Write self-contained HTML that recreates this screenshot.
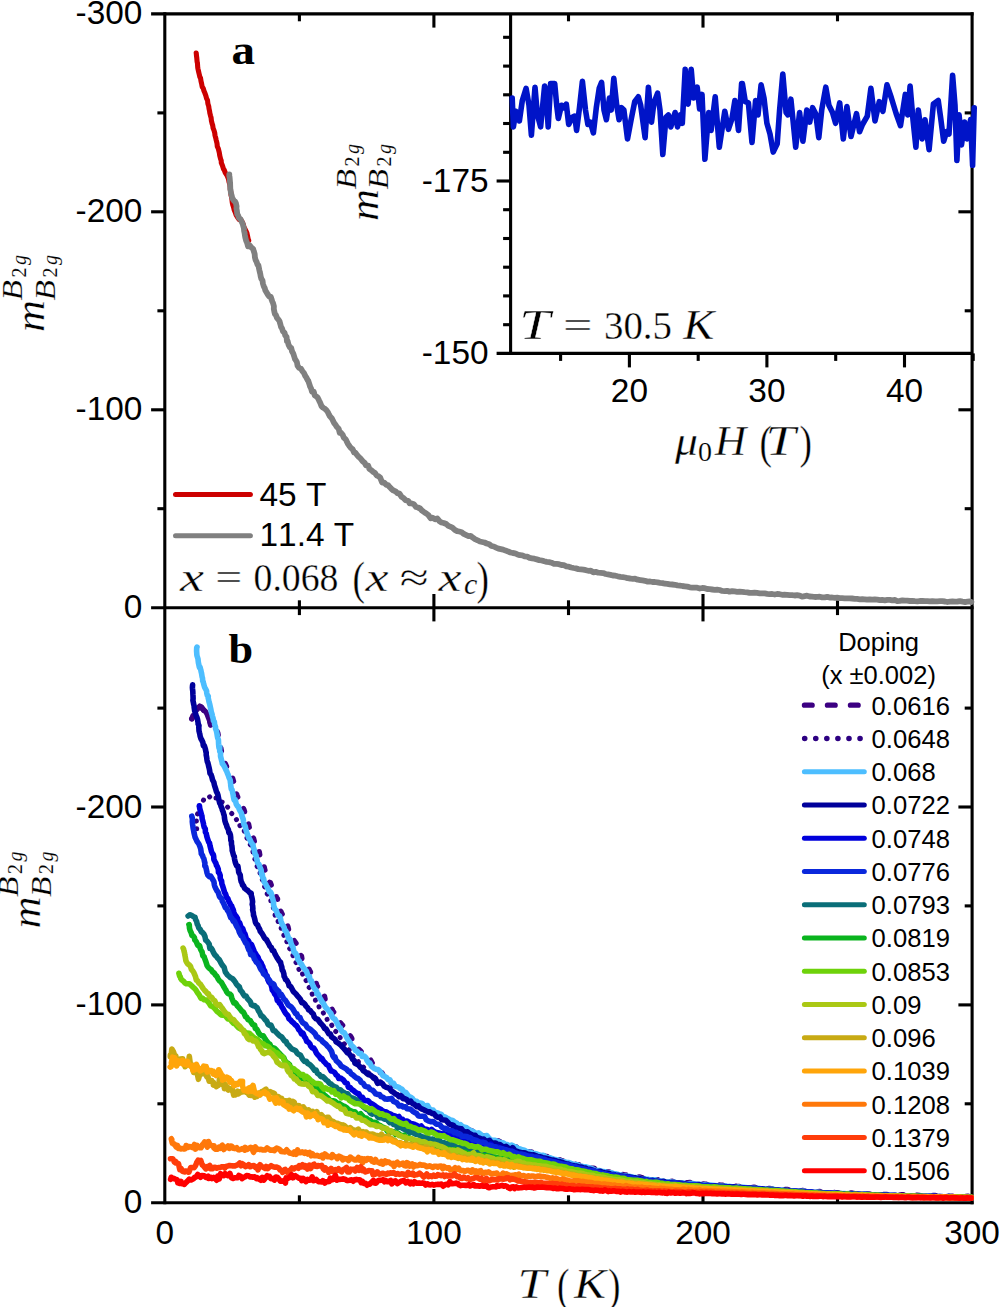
<!DOCTYPE html>
<html><head><meta charset="utf-8"><title>chart</title>
<style>html,body{margin:0;padding:0;background:#fff;overflow:hidden}svg{display:block;position:absolute;left:0;top:0}</style></head>
<body><svg width="999" height="1307" viewBox="0 0 999 1307">
<rect width="999" height="1307" fill="#fff"/>
<g stroke-linecap="butt">
<line x1="151.1" y1="13.9" x2="973.6" y2="13.9" stroke="#000" stroke-width="3.1"/>
<line x1="151.1" y1="607.7" x2="973.6" y2="607.7" stroke="#000" stroke-width="3.1"/>
<line x1="151.1" y1="1202.7" x2="973.6" y2="1202.7" stroke="#000" stroke-width="3.1"/>
<line x1="164.8" y1="12.3" x2="164.8" y2="1204.2" stroke="#000" stroke-width="3.1"/>
<line x1="972.1" y1="12.3" x2="972.1" y2="1204.2" stroke="#000" stroke-width="3.1"/>
<line x1="299.4" y1="13.9" x2="299.4" y2="21.3" stroke="#000" stroke-width="3.1"/>
<line x1="299.4" y1="600.3" x2="299.4" y2="615.1" stroke="#000" stroke-width="3.1"/>
<line x1="299.4" y1="1195.3" x2="299.4" y2="1202.7" stroke="#000" stroke-width="3.1"/>
<line x1="433.9" y1="13.9" x2="433.9" y2="27.6" stroke="#000" stroke-width="3.1"/>
<line x1="433.9" y1="594.0" x2="433.9" y2="621.4" stroke="#000" stroke-width="3.1"/>
<line x1="433.9" y1="1189.0" x2="433.9" y2="1202.7" stroke="#000" stroke-width="3.1"/>
<line x1="568.5" y1="13.9" x2="568.5" y2="21.3" stroke="#000" stroke-width="3.1"/>
<line x1="568.5" y1="600.3" x2="568.5" y2="615.1" stroke="#000" stroke-width="3.1"/>
<line x1="568.5" y1="1195.3" x2="568.5" y2="1202.7" stroke="#000" stroke-width="3.1"/>
<line x1="703.0" y1="13.9" x2="703.0" y2="27.6" stroke="#000" stroke-width="3.1"/>
<line x1="703.0" y1="594.0" x2="703.0" y2="621.4" stroke="#000" stroke-width="3.1"/>
<line x1="703.0" y1="1189.0" x2="703.0" y2="1202.7" stroke="#000" stroke-width="3.1"/>
<line x1="837.5" y1="13.9" x2="837.5" y2="21.3" stroke="#000" stroke-width="3.1"/>
<line x1="837.5" y1="600.3" x2="837.5" y2="615.1" stroke="#000" stroke-width="3.1"/>
<line x1="837.5" y1="1195.3" x2="837.5" y2="1202.7" stroke="#000" stroke-width="3.1"/>
<line x1="157.4" y1="508.7" x2="164.8" y2="508.7" stroke="#000" stroke-width="3.1"/>
<line x1="964.7" y1="508.7" x2="972.1" y2="508.7" stroke="#000" stroke-width="3.1"/>
<line x1="157.4" y1="1103.8" x2="164.8" y2="1103.8" stroke="#000" stroke-width="3.1"/>
<line x1="964.7" y1="1103.8" x2="972.1" y2="1103.8" stroke="#000" stroke-width="3.1"/>
<line x1="151.1" y1="409.8" x2="164.8" y2="409.8" stroke="#000" stroke-width="3.1"/>
<line x1="958.4" y1="409.8" x2="972.1" y2="409.8" stroke="#000" stroke-width="3.1"/>
<line x1="151.1" y1="1004.9" x2="164.8" y2="1004.9" stroke="#000" stroke-width="3.1"/>
<line x1="958.4" y1="1004.9" x2="972.1" y2="1004.9" stroke="#000" stroke-width="3.1"/>
<line x1="157.4" y1="310.8" x2="164.8" y2="310.8" stroke="#000" stroke-width="3.1"/>
<line x1="964.7" y1="310.8" x2="972.1" y2="310.8" stroke="#000" stroke-width="3.1"/>
<line x1="157.4" y1="905.9" x2="164.8" y2="905.9" stroke="#000" stroke-width="3.1"/>
<line x1="964.7" y1="905.9" x2="972.1" y2="905.9" stroke="#000" stroke-width="3.1"/>
<line x1="151.1" y1="211.8" x2="164.8" y2="211.8" stroke="#000" stroke-width="3.1"/>
<line x1="958.4" y1="211.8" x2="972.1" y2="211.8" stroke="#000" stroke-width="3.1"/>
<line x1="151.1" y1="807.0" x2="164.8" y2="807.0" stroke="#000" stroke-width="3.1"/>
<line x1="958.4" y1="807.0" x2="972.1" y2="807.0" stroke="#000" stroke-width="3.1"/>
<line x1="157.4" y1="112.9" x2="164.8" y2="112.9" stroke="#000" stroke-width="3.1"/>
<line x1="964.7" y1="112.9" x2="972.1" y2="112.9" stroke="#000" stroke-width="3.1"/>
<line x1="157.4" y1="708.1" x2="164.8" y2="708.1" stroke="#000" stroke-width="3.1"/>
<line x1="964.7" y1="708.1" x2="972.1" y2="708.1" stroke="#000" stroke-width="3.1"/>
<line x1="510.6" y1="13.9" x2="510.6" y2="354.9" stroke="#000" stroke-width="3.1"/>
<line x1="496.6" y1="353.4" x2="972.1" y2="353.4" stroke="#000" stroke-width="3.1"/>
<line x1="503.1" y1="324.7" x2="510.6" y2="324.7" stroke="#000" stroke-width="3.1"/>
<line x1="503.1" y1="295.9" x2="510.6" y2="295.9" stroke="#000" stroke-width="3.1"/>
<line x1="503.1" y1="267.2" x2="510.6" y2="267.2" stroke="#000" stroke-width="3.1"/>
<line x1="503.1" y1="238.5" x2="510.6" y2="238.5" stroke="#000" stroke-width="3.1"/>
<line x1="503.1" y1="209.7" x2="510.6" y2="209.7" stroke="#000" stroke-width="3.1"/>
<line x1="496.6" y1="181.0" x2="510.6" y2="181.0" stroke="#000" stroke-width="3.1"/>
<line x1="503.1" y1="152.3" x2="510.6" y2="152.3" stroke="#000" stroke-width="3.1"/>
<line x1="503.1" y1="123.5" x2="510.6" y2="123.5" stroke="#000" stroke-width="3.1"/>
<line x1="503.1" y1="94.8" x2="510.6" y2="94.8" stroke="#000" stroke-width="3.1"/>
<line x1="503.1" y1="66.1" x2="510.6" y2="66.1" stroke="#000" stroke-width="3.1"/>
<line x1="503.1" y1="37.3" x2="510.6" y2="37.3" stroke="#000" stroke-width="3.1"/>
<line x1="560.6" y1="353.4" x2="560.6" y2="360.9" stroke="#000" stroke-width="3.1"/>
<line x1="629.4" y1="353.4" x2="629.4" y2="367.4" stroke="#000" stroke-width="3.1"/>
<line x1="698.2" y1="353.4" x2="698.2" y2="360.9" stroke="#000" stroke-width="3.1"/>
<line x1="766.9" y1="353.4" x2="766.9" y2="367.4" stroke="#000" stroke-width="3.1"/>
<line x1="835.7" y1="353.4" x2="835.7" y2="360.9" stroke="#000" stroke-width="3.1"/>
<line x1="904.5" y1="353.4" x2="904.5" y2="367.4" stroke="#000" stroke-width="3.1"/>
<line x1="973.2" y1="353.4" x2="973.2" y2="360.9" stroke="#000" stroke-width="3.1"/>
</g>
<g fill="none" stroke-linejoin="round" stroke-linecap="round">
<path d="M196.2,53.0 L196.3,53.6 L196.5,55.9 L196.8,58.2 L197.1,61.7 L197.4,62.7 L197.7,67.2 L197.9,68.5 L198.6,71.6 L199.1,73.8 L199.9,77.1 L200.5,77.8 L201.0,81.2 L201.6,83.6 L202.2,86.9 L203.2,88.2 L204.0,91.0 L204.9,93.1 L205.9,95.9 L206.6,98.6 L207.5,100.2 L207.9,103.8 L208.7,106.2 L209.0,108.5 L209.6,111.2 L209.8,112.9 L210.5,115.7 L211.1,117.8 L211.4,120.7 L212.1,123.6 L212.7,125.4 L213.1,128.1 L214.0,130.4 L214.7,132.8 L215.0,135.4 L215.8,138.2 L216.2,140.1 L217.0,143.3 L217.3,146.5 L218.3,148.6 L218.8,150.6 L219.3,152.7 L219.7,155.3 L220.6,159.0 L221.2,160.7 L221.3,162.8 L222.5,165.7 L223.5,169.0 L224.4,170.3 L225.3,172.8 L226.8,175.0 L227.7,177.0 L228.5,178.9 L229.0,181.8 L229.8,184.4 L230.2,187.3 L230.3,190.0 L230.9,192.5 L231.0,194.8 L231.7,197.6 L231.9,199.3 L232.3,202.8 L232.8,205.0 L233.5,207.0 L234.2,209.9 L235.1,212.0 L236.1,214.9 L237.5,217.2 L239.1,219.4 L240.7,219.6 L242.1,221.6 L243.2,224.3 L243.9,227.0 L245.3,229.7 L246.4,231.9 L246.9,233.1 L247.6,236.4 L248.2,239.2 L248.7,240.5" stroke="#cc0000" stroke-width="5.1"/>
<path d="M229.3,174.4 L229.3,176.2 L229.6,177.2 L230.0,182.0 L230.1,182.4 L230.2,185.5 L230.3,188.8 L230.6,190.2 L230.9,192.8 L231.6,195.2 L232.3,198.1 L234.1,201.0 L235.1,201.6 L235.9,203.1 L236.6,206.4 L236.4,208.2 L236.9,211.1 L237.3,214.3 L238.1,215.4 L238.9,217.9 L240.6,219.2 L241.5,221.5 L242.7,223.8 L243.1,225.4 L243.9,228.3 L244.1,230.8 L244.6,233.0 L244.9,235.2 L245.3,237.5 L246.1,240.6 L247.1,242.9 L248.0,246.4 L249.4,245.0 L251.4,247.6 L253.1,248.8 L253.7,251.0 L254.3,252.7 L254.7,254.3 L254.9,257.3 L255.6,260.0 L256.6,261.8 L257.5,264.7 L258.4,265.4 L259.3,269.9 L259.8,272.1 L260.2,273.5 L260.7,276.5 L261.3,278.6 L262.5,280.5 L262.9,283.5 L263.8,286.4 L264.7,287.9 L265.3,290.2 L266.6,292.4 L267.8,294.5 L269.1,296.4 L270.8,296.9 L271.6,299.6 L272.4,301.8 L273.0,303.0 L273.9,306.3 L273.8,308.9 L274.3,311.5 L274.9,314.0 L275.8,314.8 L277.0,317.9 L278.2,319.3 L279.4,320.9 L280.4,324.4 L281.0,326.8 L282.0,328.3 L283.0,331.4 L284.6,332.9 L285.2,335.4 L286.6,337.0 L286.9,341.0 L287.6,340.9 L288.5,344.7 L289.9,347.4 L291.2,348.0 L292.0,351.3 L293.3,353.6 L294.2,356.5 L295.0,359.1 L295.9,360.4 L296.9,362.2 L297.6,365.9 L299.0,367.8 L301.0,368.7 L302.5,371.2 L304.1,373.2 L305.0,375.5 L306.3,377.4 L307.8,380.4 L308.3,380.8 L309.6,384.8 L310.2,386.8 L311.2,388.8 L312.0,391.8 L313.7,391.6 L314.7,395.3 L316.4,396.5 L317.6,397.5 L319.1,400.6 L320.0,402.3 L321.5,406.1 L323.0,407.6 L324.6,408.6 L326.2,409.9 L327.8,412.1 L328.9,414.4 L329.9,416.3 L331.7,418.2 L332.9,420.5 L334.0,422.9 L335.5,424.8 L336.7,426.8 L338.7,428.8 L339.7,432.9 L340.8,432.6 L342.7,434.9 L343.9,437.8 L345.8,439.4 L347.0,441.9 L348.1,444.1 L349.8,446.5 L351.1,448.2 L352.6,449.2 L354.1,452.5 L355.4,452.7 L357.5,455.6 L359.0,457.2 L360.7,458.7 L362.8,461.4 L364.7,462.8 L366.0,465.3 L368.2,465.6 L369.3,468.8 L371.5,470.3 L373.1,471.9 L374.9,472.8 L376.5,475.3 L378.3,476.2 L380.2,477.6 L382.1,482.5 L384.2,482.7 L386.4,484.8 L387.9,485.0 L389.9,487.3 L391.5,488.9 L393.3,490.4 L396.0,491.7 L397.4,493.1 L399.5,493.6 L401.6,496.8 L403.7,498.2 L405.6,500.1 L408.0,500.7 L409.7,503.3 L411.5,503.4 L413.9,504.3 L416.0,507.0 L417.9,507.5 L420.1,508.5 L422.1,510.7 L424.6,512.5 L426.3,513.5 L428.3,515.0 L430.7,518.4 L432.5,517.7 L435.1,519.3 L437.3,518.4 L439.3,521.1 L441.5,522.5 L443.7,523.0 L446.3,524.0 L448.3,525.9 L450.2,526.7 L452.4,527.7 L454.8,529.9 L457.1,531.1 L459.2,531.5 L461.7,532.2 L463.8,533.9 L466.3,535.1 L468.5,536.1 L470.6,535.9 L472.9,537.7 L475.0,539.2 L477.6,540.3 L479.9,541.5 L482.1,542.0 L484.5,542.5 L486.7,543.5 L489.3,544.3 L491.4,546.0 L493.8,546.5 L496.1,547.6 L498.4,548.6 L500.8,549.1 L503.1,549.6 L505.6,550.6 L508.0,551.4 L510.4,552.5 L512.8,553.0 L515.1,553.3 L517.5,554.4 L519.9,555.2 L522.3,555.4 L524.6,556.4 L527.2,556.7 L529.6,557.9 L532.0,558.3 L534.3,558.7 L536.8,559.4 L539.2,560.1 L541.8,560.5 L544.3,561.3 L546.7,561.9 L549.1,562.1 L551.5,562.7 L554.0,563.9 L556.5,563.9 L559.0,564.2 L561.4,565.0 L563.8,565.2 L566.3,566.4 L568.8,566.7 L571.2,567.5 L573.6,568.0 L575.9,568.4 L578.4,569.1 L581.0,569.4 L583.4,569.7 L585.9,570.2 L588.3,570.8 L590.8,570.7 L593.3,572.3 L595.7,571.8 L598.2,572.7 L600.7,572.8 L603.2,573.1 L605.7,574.0 L607.9,574.4 L610.5,574.9 L612.9,575.5 L615.4,575.7 L617.8,576.3 L620.5,576.8 L622.8,577.1 L625.3,577.5 L627.6,578.2 L630.2,578.5 L632.7,578.9 L635.1,578.7 L637.7,579.7 L640.3,580.1 L642.5,580.4 L645.0,580.8 L647.7,581.6 L650.1,581.5 L652.5,582.0 L654.9,582.0 L657.5,582.4 L660.0,582.9 L662.6,583.1 L664.9,583.7 L667.4,583.9 L669.9,584.4 L672.3,584.5 L674.9,584.8 L677.4,585.4 L679.8,585.6 L682.3,586.0 L684.8,586.3 L687.3,586.6 L689.8,587.3 L692.2,587.6 L694.7,587.7 L697.2,587.7 L699.8,588.5 L702.3,588.0 L704.8,588.2 L707.2,589.0 L709.7,589.2 L712.2,589.5 L714.7,589.8 L717.1,589.6 L719.7,590.0 L722.2,590.9 L724.7,591.1 L727.1,590.8 L729.5,591.7 L732.2,591.1 L734.6,591.4 L737.2,591.8 L739.6,591.6 L742.1,591.9 L744.5,592.2 L747.3,592.3 L749.6,592.8 L752.1,592.9 L754.6,592.7 L757.1,592.9 L759.7,593.3 L762.2,593.4 L764.7,593.4 L767.2,593.9 L769.6,594.2 L772.2,594.0 L774.8,594.5 L777.1,594.0 L779.7,594.2 L782.1,594.8 L784.5,594.7 L787.1,594.8 L789.7,595.1 L792.2,595.1 L794.7,595.5 L797.1,595.2 L799.7,595.6 L802.1,596.7 L804.6,596.1 L807.0,595.7 L809.7,596.5 L812.2,596.6 L814.9,597.0 L817.3,596.8 L819.7,596.7 L822.2,597.4 L824.7,597.3 L827.2,596.8 L829.6,597.6 L832.2,597.5 L834.7,597.9 L837.2,597.7 L839.7,598.1 L842.2,598.1 L844.7,598.3 L847.2,598.3 L849.8,598.3 L852.2,598.5 L854.8,598.8 L857.2,598.9 L859.8,599.3 L862.3,599.1 L864.7,599.3 L867.2,599.7 L869.8,599.3 L872.2,599.6 L874.8,599.4 L877.3,599.6 L879.8,600.1 L882.2,599.9 L884.8,600.3 L887.4,599.8 L889.8,599.8 L892.3,600.3 L894.8,600.0 L897.3,601.1 L899.8,600.9 L902.4,600.4 L904.8,600.7 L907.2,600.7 L909.7,601.0 L912.3,600.9 L914.9,601.2 L917.5,601.4 L919.9,601.0 L922.3,600.8 L924.7,601.2 L927.4,601.1 L929.9,601.4 L932.3,601.1 L935.0,601.4 L937.4,601.3 L939.9,601.2 L942.3,601.2 L945.0,601.5 L947.4,602.0 L949.9,601.6 L952.4,601.4 L954.9,601.6 L957.6,601.5 L960.0,601.2 L962.6,601.7 L965.1,602.1 L967.5,601.7 L969.8,601.5 L971.4,602.0" stroke="#808080" stroke-width="5.8"/>
<path d="M512.2,98.0 L513.4,126.9 L515.8,111.3 L519.4,120.9 L522.3,100.5 L526.1,88.4 L529.0,105.3 L531.4,135.3 L535.0,87.2 L537.4,114.9 L540.6,126.9 L544.6,86.0 L545.8,90.8 L548.2,126.9 L550.6,83.6 L554.7,83.6 L556.7,105.3 L558.3,118.5 L561.5,105.3 L563.9,107.7 L566.3,104.1 L568.7,124.5 L572.3,117.3 L574.7,116.1 L576.6,130.5 L579.5,107.7 L582.4,81.2 L585.5,110.1 L587.9,124.5 L590.3,122.1 L593.4,132.9 L596.3,107.7 L599.2,88.4 L601.6,82.4 L604.0,110.1 L606.4,119.7 L609.5,98.0 L611.2,110.1 L613.8,78.3 L616.7,105.3 L619.1,119.7 L621.5,107.7 L623.9,110.1 L627.5,138.9 L631.1,119.7 L634.7,101.7 L638.3,96.8 L640.7,105.3 L645.1,137.7 L648.4,87.2 L651.5,122.1 L653.9,102.9 L657.6,93.2 L660.0,110.1 L662.8,154.5 L666.0,117.3 L668.4,114.9 L670.8,126.9 L675.1,112.5 L677.5,126.9 L680.4,114.9 L682.3,123.3 L685.2,69.2 L688.1,104.1 L691.2,69.2 L693.6,98.0 L697.2,87.2 L699.6,108.9 L702.0,94.4 L704.9,159.3 L708.7,112.5 L711.1,130.5 L715.2,96.8 L719.3,147.3 L722.4,126.9 L724.8,111.3 L728.4,129.3 L732.0,118.5 L734.9,100.5 L738.5,130.5 L741.6,83.6 L742.4,83.6 L745.3,101.7 L748.4,102.9 L752.0,142.5 L755.6,100.5 L758.0,114.9 L761.1,84.8 L764.0,98.0 L766.9,123.3 L770.0,134.1 L773.2,152.1 L777.2,143.7 L779.6,110.1 L782.8,74.0 L786.1,112.5 L788.0,114.9 L790.9,99.2 L795.7,147.3 L799.6,112.5 L802.9,141.3 L806.8,110.1 L809.7,122.1 L812.6,107.7 L815.7,113.7 L818.8,137.7 L821.7,110.1 L825.8,87.2 L828.9,105.3 L832.5,112.5 L835.6,123.3 L839.7,102.9 L843.3,138.9 L846.9,106.5 L851.0,136.5 L856.5,113.7 L859.6,131.7 L862.5,124.5 L867.3,116.1 L870.9,88.4 L875.0,120.9 L879.3,101.7 L882.9,111.3 L887.0,84.8 L891.4,98.0 L896.2,113.7 L900.5,125.7 L905.3,94.4 L907.7,114.9 L910.1,86.0 L913.0,119.7 L915.9,147.3 L918.3,110.1 L922.1,138.9 L925.0,119.7 L929.1,149.7 L933.4,104.1 L938.2,100.5 L940.6,117.3 L943.7,141.3 L946.6,131.7 L949.0,134.1 L952.6,75.2 L955.0,105.3 L956.9,160.5 L959.1,114.9 L961.5,144.9 L964.6,122.1 L967.0,138.9 L970.6,119.7 L972.6,165.3 L974.2,107.7" stroke="#0014c8" stroke-width="5.6"/>
</g>
<clipPath id="cb"><rect x="164.8" y="607.7" width="808.8" height="595.0"/></clipPath>
<g fill="none" stroke-linejoin="round" stroke-linecap="round" clip-path="url(#cb)">
<path d="M192.0,718.8 L192.5,717.1 L193.6,713.7 L194.3,712.9 L196.0,711.5 L197.0,708.8 L198.9,708.2 L199.8,707.4 L201.1,707.9 L202.8,709.0 L204.0,711.1 L205.6,713.4 L206.6,713.7 L207.8,717.0 L208.6,718.5 L209.4,720.7 L209.9,721.7 L210.5,724.7 L211.6,727.7 L212.2,727.6 L212.7,727.7 L213.2,727.3 L214.3,727.3 L214.7,727.6 L215.4,726.6 L216.3,728.1 L216.7,728.9 L217.3,731.9 L217.8,732.9 L218.3,735.6 L218.7,737.2 L219.2,739.2 L219.7,741.8 L220.0,743.6 L220.3,747.0 L220.9,748.4 L221.3,750.7 L221.7,752.3 L222.2,755.6 L222.7,756.4 L223.0,759.5 L223.8,760.8 L224.8,762.4 L225.7,764.7 L226.5,766.4 L227.8,768.8 L228.7,770.6 L229.9,773.0 L231.0,775.1 L232.0,776.5 L232.7,778.6 L233.4,781.0 L234.0,782.5 L234.6,785.6 L234.6,787.8 L235.6,789.5 L236.1,793.2 L236.7,794.3 L237.2,795.7 L238.0,797.6 L238.9,799.7 L239.8,801.5 L240.6,804.6 L241.9,805.3 L243.0,807.7 L243.9,809.4 L244.8,812.5 L245.2,812.8 L246.1,815.6 L246.7,817.9 L247.2,820.3 L248.0,822.6 L248.6,824.2 L249.2,827.2 L249.8,828.8 L250.4,832.5 L251.0,831.8 L251.6,835.4 L252.4,836.2 L253.5,838.3 L254.5,842.0 L255.6,843.6 L257.0,843.0 L257.5,846.1 L258.6,848.4 L258.8,849.1 L259.4,852.7 L259.8,855.1 L260.3,857.1 L261.2,857.6 L262.0,861.9 L262.4,863.3 L263.7,865.2 L264.1,866.7 L264.8,869.8 L265.9,872.1 L266.3,873.2 L266.9,875.7 L268.1,878.3 L268.2,878.4 L269.2,882.0 L270.3,882.6 L271.4,885.4 L271.7,888.4 L272.9,889.9 L273.8,891.4 L275.7,893.2 L276.2,895.9 L276.4,897.8 L277.5,898.8 L277.8,901.8 L278.0,903.4 L278.6,907.6 L279.4,907.5 L279.6,909.8 L281.0,911.7 L281.8,913.6 L283.4,915.9 L284.2,918.0 L284.9,918.6 L286.0,921.4 L286.7,922.9 L287.9,926.7 L288.6,929.6 L289.8,930.8 L291.0,932.1 L291.4,934.6 L292.4,936.0 L293.2,939.1 L293.9,940.4 L295.0,941.8 L296.0,943.2 L296.9,945.5 L297.7,948.2 L298.5,949.2 L299.8,951.9 L300.5,955.0 L301.5,956.1 L302.0,959.5 L303.4,961.1 L303.8,961.8 L305.3,962.9 L306.6,965.6 L308.0,967.0 L309.1,969.3 L310.5,972.1 L311.4,972.1 L312.3,974.6 L313.7,977.1 L314.5,979.6 L315.3,981.2 L316.2,983.1 L316.8,985.7 L318.1,987.1 L319.1,988.6 L320.1,990.7 L321.3,992.1 L322.8,994.9 L323.6,997.1 L324.5,996.3 L325.5,1001.1 L327.0,1002.1 L328.0,1004.4 L329.6,1006.4 L330.4,1006.2 L331.9,1008.8 L332.9,1011.2 L334.2,1012.6 L335.6,1015.1 L337.1,1016.2 L338.3,1017.2 L339.2,1020.6 L340.3,1022.8 L341.7,1024.3 L342.7,1025.4 L344.1,1027.6 L345.2,1030.0 L346.6,1031.9 L347.7,1034.0 L349.1,1034.8 L350.3,1035.9 L351.7,1038.2 L352.5,1040.9 L353.5,1043.0 L354.9,1045.8 L356.4,1046.2 L357.5,1048.0 L359.0,1049.4 L360.4,1050.7 L362.2,1052.8 L364.2,1053.8 L365.6,1054.8 L367.6,1055.6 L369.1,1057.8 L370.4,1059.4 L371.8,1062.3 L372.9,1063.9 L374.6,1064.3 L375.9,1067.6 L377.0,1068.0 L378.6,1070.1 L380.0,1072.5 L381.9,1072.6 L383.1,1075.0 L384.4,1075.8 L386.3,1076.8 L387.7,1080.5 L389.1,1081.4 L390.5,1082.5 L392.1,1083.5 L393.7,1085.9 L395.1,1088.6 L397.4,1089.4 L398.6,1090.4 L400.7,1091.7 L401.8,1093.7 L403.5,1093.9 L405.2,1097.3 L407.3,1098.1 L409.0,1099.9 L410.7,1100.0 L412.6,1102.2 L414.5,1103.4 L416.3,1103.0 L417.9,1105.2 L419.7,1106.5 L421.5,1106.9 L423.5,1108.1 L425.7,1109.7 L427.5,1110.4 L429.7,1110.6 L432.0,1112.7 L433.7,1113.4 L435.3,1114.4 L437.9,1115.2 L439.6,1116.4 L441.5,1116.9 L443.6,1117.5 L445.3,1118.6 L447.5,1120.9 L449.7,1119.7 L451.3,1122.5 L453.6,1122.1 L455.6,1122.9 L457.3,1124.2 L459.7,1125.6 L461.3,1127.2 L463.6,1126.4 L465.5,1129.6 L467.6,1130.1 L469.7,1130.1 L471.7,1130.9 L473.3,1131.3 L475.5,1133.2 L477.5,1133.7 L479.8,1135.4 L482.1,1134.7 L484.2,1136.4 L486.2,1136.7 L488.2,1136.9 L490.0,1139.6 L492.5,1139.2 L494.4,1140.2 L496.2,1139.8 L498.4,1140.8 L500.8,1142.1 L502.9,1142.4 L504.5,1143.9 L507.3,1144.5 L509.1,1144.4 L511.1,1145.8 L512.8,1146.4 L515.6,1147.0 L517.3,1147.0 L519.2,1147.9 L521.4,1149.3 L523.5,1150.2 L525.6,1150.3 L527.8,1151.6 L529.9,1151.9 L531.9,1152.0 L534.1,1153.0 L536.2,1153.8 L538.4,1154.2 L540.5,1155.3 L542.7,1155.3 L544.8,1156.1 L546.9,1156.4 L549.0,1157.2 L551.3,1156.8 L553.3,1157.8 L555.7,1158.6 L557.5,1159.4 L559.8,1159.9 L562.0,1160.7 L563.9,1161.1 L566.1,1161.6 L568.2,1162.1 L570.4,1162.7 L572.5,1163.5 L574.7,1164.0 L576.9,1164.6 L578.9,1164.8 L581.1,1165.2 L583.3,1165.8 L585.2,1166.5 L587.5,1167.5 L589.7,1167.6 L591.8,1168.2 L594.0,1168.1 L596.2,1169.9 L598.2,1169.3 L600.6,1170.7 L602.5,1170.5 L604.7,1171.4 L606.9,1171.8 L608.9,1172.0 L611.3,1172.3 L613.4,1172.5 L615.6,1173.1 L617.9,1173.9 L619.9,1174.1 L622.2,1174.1 L624.2,1175.1 L626.4,1174.8 L628.7,1175.6 L630.8,1175.6 L632.9,1176.1 L635.0,1177.0 L637.3,1176.9 L639.4,1176.9 L641.7,1177.5 L643.6,1178.1 L646.0,1178.0 L648.1,1178.9 L650.3,1179.1 L652.6,1179.1 L654.7,1179.7 L657.1,1180.2 L659.1,1179.3 L661.4,1180.6 L663.7,1180.7 L665.8,1180.7 L668.0,1181.2 L670.2,1181.4 L672.3,1181.3 L674.6,1182.1 L677.0,1181.9 L679.0,1182.4 L681.1,1182.1 L683.2,1181.9 L685.4,1182.6 L687.8,1182.7 L689.9,1182.5 L692.3,1182.6 L694.4,1183.5 L696.7,1183.8 L698.9,1184.0 L701.1,1183.9 L703.2,1183.9 L705.4,1184.1 L707.6,1184.3 L709.8,1184.5 L712.0,1184.5 L714.2,1184.5 L716.4,1184.8 L718.5,1185.0 L720.8,1185.1 L723.0,1185.3 L725.2,1185.8 L727.5,1185.7 L729.6,1185.5 L731.8,1186.0 L734.1,1185.7 L736.3,1186.3 L738.5,1186.4 L740.7,1186.5 L742.9,1186.5 L745.0,1186.7 L747.3,1187.0 L749.5,1187.0 L751.7,1187.4 L753.9,1187.3 L756.1,1187.5 L758.3,1187.8 L760.4,1187.8 L762.7,1188.0 L764.8,1188.2 L767.1,1188.4 L769.4,1188.5 L771.5,1188.7 L773.7,1188.8 L775.8,1189.0 L778.1,1189.1 L780.4,1189.3 L782.6,1189.5 L784.7,1189.4 L787.0,1189.5 L789.1,1189.8 L791.3,1190.0 L793.5,1190.2 L795.7,1190.1 L798.0,1190.5 L800.2,1190.7 L802.4,1190.5 L804.5,1191.0 L806.7,1191.3 L808.9,1191.3 L811.2,1191.3 L813.4,1191.5 L815.5,1191.7 L817.8,1191.8 L820.0,1191.5 L822.2,1192.3 L824.4,1192.1 L826.5,1192.2 L828.8,1192.5 L831.0,1192.5 L833.2,1192.4 L835.4,1192.6 L837.6,1192.7 L839.8,1192.8 L842.0,1192.8 L844.2,1193.0 L846.4,1193.1 L848.6,1193.0 L850.9,1193.0 L853.1,1193.3 L855.3,1193.4 L857.5,1193.3 L859.7,1193.4 L862.0,1193.6 L864.1,1193.7 L866.3,1193.9 L868.5,1193.9 L870.7,1194.2 L872.9,1194.0 L875.2,1193.9 L877.3,1194.1 L879.6,1194.2 L881.8,1194.0 L884.0,1194.5 L886.2,1194.4 L888.4,1194.5 L890.6,1194.5 L892.8,1194.5 L895.0,1194.7 L897.3,1194.7 L899.4,1194.9 L901.6,1194.8 L903.9,1194.8 L906.0,1195.1 L908.3,1195.1 L910.5,1195.2 L912.8,1195.2 L914.9,1195.5 L917.1,1195.2 L919.3,1195.5 L921.5,1195.2 L923.8,1195.3 L926.0,1195.4 L928.2,1195.5 L930.3,1195.8 L932.6,1195.5 L934.8,1195.5 L936.9,1195.8 L939.1,1195.7 L941.4,1195.5 L943.6,1195.9 L945.8,1196.0 L948.1,1195.9 L950.2,1196.2 L952.4,1196.2 L954.6,1195.9 L956.8,1196.2 L959.1,1195.8 L961.3,1196.2 L963.5,1196.1 L965.6,1196.4 L967.9,1196.2 L969.8,1196.5 L971.4,1196.3" stroke="#3c0082" stroke-width="5.4" stroke-dasharray="3.2 13.3"/>
<path d="M197.3,709.5 L198.5,707.3 L199.8,706 L201.5,706.8 L203.4,709.6 L205.3,711.2 L206.9,713.8 L208.3,717.5 L209.6,720.9 L210.8,725" stroke="#3c0082" stroke-width="5.2"/>
<path d="M191.7,718.8 L191.9,718.4" stroke="#3c0082" stroke-width="5.4"/>
<path d="M196.7,828.8 L196.5,825.9 L196.7,823.8 L196.3,820.1 L197.0,819.8 L197.3,817.3 L197.2,815.0 L197.7,813.4 L197.7,811.4 L198.7,808.3 L199.3,806.4 L200.6,804.7 L201.8,803.6 L202.7,801.7 L204.2,798.7 L205.8,797.3 L208.1,797.3 L209.4,797.0 L211.3,795.7 L213.3,795.7 L215.3,797.9 L217.1,797.9 L218.7,799.8 L220.7,801.6 L222.9,802.3 L224.3,803.4 L225.7,805.4 L226.9,806.1 L228.4,808.3 L229.5,809.9 L230.4,812.1 L231.9,813.7 L233.0,815.6 L234.5,817.1 L236.1,819.0 L237.2,820.8 L238.4,822.9 L239.0,825.7 L239.9,825.6 L241.2,829.2 L242.4,829.4 L243.9,830.0 L244.7,832.3 L245.4,834.4 L246.2,837.2 L246.9,837.8 L247.4,840.7 L248.5,842.7 L249.5,843.4 L250.9,845.6 L251.6,848.8 L252.8,850.9 L253.1,853.2 L253.9,854.9 L254.6,857.0 L254.8,858.9 L255.7,861.8 L255.6,862.5 L256.7,865.1 L257.5,867.6 L258.2,868.2 L258.7,872.3 L260.0,872.9 L260.1,875.5 L261.5,879.1 L262.1,879.1 L263.0,881.4 L263.5,885.0 L264.1,885.2 L264.9,887.7 L265.7,890.5 L266.7,892.5 L267.4,894.6 L268.5,896.4 L269.6,899.0 L270.8,900.7 L270.9,902.4 L271.9,903.6 L272.7,905.7 L273.2,907.0 L273.5,910.9 L274.2,911.3 L275.1,915.2 L275.9,918.0 L276.7,917.9 L277.6,920.2 L278.5,922.3 L279.6,925.3 L280.8,926.1 L281.2,928.6 L282.4,930.4 L283.4,932.7 L283.9,935.8 L285.2,936.3 L285.5,939.0 L286.7,941.2 L287.2,943.6 L287.9,944.2 L289.1,947.9 L290.3,949.4 L290.7,951.7 L291.8,953.2 L292.4,954.0 L293.4,956.7 L294.6,959.8 L295.3,961.2 L296.4,963.2 L297.4,966.5 L297.9,968.8 L298.9,969.2 L300.1,972.5 L301.7,971.7 L302.4,973.5 L303.5,977.3 L304.9,978.4 L306.3,981.0 L306.7,982.9 L307.8,984.4 L308.8,987.0 L310.0,988.6 L311.3,989.4 L311.5,992.6 L312.4,994.5 L313.8,997.6 L314.9,997.5 L315.4,1000.3 L316.8,1001.9 L318.3,1004.0 L319.1,1007.1 L320.4,1008.1 L321.5,1009.4 L322.8,1011.8 L323.9,1014.1 L325.1,1014.7 L326.5,1017.0 L327.3,1020.2 L328.7,1021.5 L330.2,1022.7 L331.1,1024.2 L332.4,1026.2 L333.5,1027.1 L334.7,1030.7 L336.5,1032.1 L337.4,1033.8 L338.9,1034.7 L339.9,1036.9 L341.0,1039.6 L342.2,1041.2 L343.7,1042.4 L344.9,1044.9 L346.5,1047.0 L347.4,1047.6 L348.9,1049.5 L350.2,1051.1 L351.4,1052.7 L352.6,1055.9 L354.1,1057.5 L355.4,1059.1 L356.7,1059.8 L358.2,1061.5 L359.6,1063.7 L361.5,1064.9 L363.0,1066.8 L364.3,1067.7 L366.2,1070.2 L368.0,1072.5 L369.6,1073.8 L371.0,1075.3 L373.0,1075.6 L374.7,1077.6 L376.4,1078.2 L378.2,1080.5 L379.5,1081.1 L381.3,1082.5 L382.8,1083.8 L384.7,1086.2 L386.4,1087.3 L388.0,1088.7 L389.8,1089.1 L391.3,1091.2 L393.5,1091.3 L395.0,1094.5 L397.6,1094.6 L399.2,1095.9 L400.6,1096.9 L402.2,1096.9 L405.0,1098.2 L406.5,1100.2 L408.7,1102.3 L410.2,1101.6 L412.4,1103.0 L414.2,1104.5 L416.4,1104.4 L418.1,1105.5 L420.4,1107.5 L421.9,1108.8 L424.3,1109.6 L426.0,1111.9 L428.1,1111.7 L429.6,1113.1 L431.6,1114.9 L434.1,1116.0 L435.6,1114.7 L437.8,1116.5 L439.7,1118.7 L441.5,1118.0 L443.6,1119.5 L445.1,1120.4 L447.1,1121.5 L449.4,1122.9 L450.9,1124.9 L453.1,1126.8 L455.0,1128.0 L457.2,1127.9 L459.0,1127.5 L460.5,1129.7 L462.8,1130.4 L464.9,1131.8 L467.2,1132.4 L469.0,1132.1 L470.9,1134.6 L473.1,1133.8 L474.9,1135.6 L477.2,1137.2 L479.1,1138.0 L481.4,1139.7 L483.3,1137.6 L485.5,1140.3 L487.4,1141.2 L489.7,1141.3 L491.6,1142.7 L493.8,1142.2 L495.8,1144.1 L497.8,1144.8 L499.8,1144.4 L502.0,1145.4 L504.2,1146.4 L505.7,1146.8 L508.6,1148.6 L509.9,1148.7 L512.5,1150.2 L514.6,1150.8 L516.9,1150.7 L518.9,1151.2 L520.9,1151.7 L523.0,1152.4 L525.2,1153.1 L527.5,1154.0 L529.5,1154.1 L531.4,1154.9 L533.7,1155.4 L535.9,1155.7 L538.4,1156.2 L540.1,1157.2 L542.3,1157.8 L544.5,1157.6 L546.7,1158.4 L548.6,1158.9 L551.0,1159.5 L552.9,1160.6 L555.2,1160.9 L557.4,1161.6 L559.3,1162.3 L561.6,1162.2 L563.9,1162.8 L565.8,1163.5 L567.9,1164.3 L570.1,1164.5 L572.4,1165.3 L574.3,1166.0 L576.5,1166.5 L578.6,1166.8 L580.8,1166.9 L583.1,1167.2 L585.2,1168.5 L587.3,1168.8 L589.5,1168.9 L591.6,1169.6 L593.7,1170.1 L596.0,1170.3 L598.1,1171.4 L600.1,1171.6 L602.4,1172.2 L604.7,1173.0 L606.7,1173.1 L608.9,1173.7 L610.9,1174.1 L613.2,1174.3 L615.2,1174.7 L617.7,1175.7 L619.7,1175.4 L622.0,1176.4 L624.0,1176.0 L626.4,1176.9 L628.3,1177.1 L630.6,1177.2 L632.9,1177.0 L635.0,1178.6 L637.2,1178.1 L639.2,1178.5 L641.7,1179.1 L643.8,1179.4 L646.0,1179.7 L648.2,1179.8 L650.3,1179.8 L652.5,1180.7 L654.9,1180.5 L656.8,1181.1 L659.1,1181.5 L661.2,1182.0 L663.6,1181.8 L665.7,1182.1 L667.8,1182.3 L670.0,1182.1 L672.1,1182.6 L674.2,1182.7 L676.4,1182.8 L678.8,1183.4 L680.9,1183.4 L683.3,1184.2 L685.4,1184.3 L687.7,1183.5 L690.0,1184.3 L692.0,1184.1 L694.2,1184.8 L696.6,1184.8 L698.9,1185.2 L700.8,1185.2 L703.0,1185.4 L705.3,1185.4 L707.5,1185.2 L709.7,1185.5 L711.8,1185.7 L714.1,1185.9 L716.3,1186.0 L718.4,1186.5 L720.6,1186.4 L722.9,1186.7 L725.2,1186.6 L727.3,1187.1 L729.6,1186.8 L731.8,1187.2 L734.0,1187.0 L736.2,1187.5 L738.4,1187.8 L740.6,1187.4 L742.8,1187.7 L745.0,1188.0 L747.1,1188.1 L749.4,1188.0 L751.5,1188.6 L753.7,1188.5 L756.0,1188.9 L758.1,1188.9 L760.4,1188.8 L762.6,1189.0 L764.8,1189.5 L767.0,1189.2 L769.3,1189.5 L771.5,1189.8 L773.6,1190.0 L775.9,1190.1 L778.1,1189.9 L780.2,1190.6 L782.4,1190.4 L784.7,1190.6 L786.9,1190.7 L789.0,1190.8 L791.3,1190.9 L793.5,1191.1 L795.7,1191.5 L798.0,1191.2 L800.1,1191.2 L802.4,1191.8 L804.5,1191.9 L806.7,1192.1 L808.9,1192.4 L811.1,1192.2 L813.3,1192.5 L815.5,1192.7 L817.7,1192.9 L819.9,1193.0 L822.1,1192.8 L824.4,1192.9 L826.6,1193.1 L828.6,1193.0 L831.0,1193.5 L833.2,1193.3 L835.4,1193.4 L837.6,1193.4 L839.8,1193.9 L841.9,1193.8 L844.3,1193.7 L846.5,1194.0 L848.6,1194.0 L850.8,1194.1 L853.0,1194.3 L855.2,1194.2 L857.5,1194.4 L859.6,1194.5 L861.8,1194.6 L864.1,1194.6 L866.4,1194.6 L868.5,1194.6 L870.7,1194.8 L872.9,1194.7 L875.2,1195.1 L877.4,1195.1 L879.5,1195.2 L881.7,1195.1 L883.9,1195.2 L886.2,1195.2 L888.4,1195.6 L890.5,1195.5 L892.8,1195.6 L895.0,1195.4 L897.1,1195.8 L899.5,1195.3 L901.6,1196.1 L903.8,1195.9 L906.0,1196.0 L908.2,1195.9 L910.4,1195.9 L912.6,1196.2 L914.8,1196.2 L917.1,1196.3 L919.3,1196.5 L921.5,1196.4 L923.7,1196.1 L925.8,1196.3 L928.2,1196.3 L930.3,1196.4 L932.5,1196.3 L934.7,1196.3 L936.9,1196.6 L939.2,1196.6 L941.3,1196.8 L943.7,1196.8 L945.8,1197.1 L948.0,1196.6 L950.2,1196.8 L952.3,1197.0 L954.6,1197.0 L956.8,1197.0 L959.0,1197.3 L961.2,1197.4 L963.5,1197.4 L965.7,1197.2 L967.9,1197.3 L969.8,1197.4 L971.3,1197.4" stroke="#2d0082" stroke-width="5.0" stroke-dasharray="0.1 7.6"/>
<path d="M197.0,647.1 L196.7,647.8 L196.6,650.4 L196.6,651.2 L196.9,655.2 L197.0,655.7 L198.0,659.0 L198.2,661.0 L198.4,662.7 L199.4,667.4 L200.0,667.1 L200.8,669.9 L201.3,672.5 L201.5,673.0 L202.1,676.9 L202.5,678.1 L202.7,681.0 L203.2,681.8 L203.6,683.8 L204.6,687.3 L205.6,688.9 L206.5,690.7 L206.8,693.2 L207.3,695.2 L208.3,696.2 L208.1,697.6 L208.7,700.2 L209.1,702.2 L209.7,704.1 L210.4,707.3 L210.9,709.6 L211.3,712.0 L212.1,714.4 L212.4,716.1 L213.1,718.3 L213.4,720.6 L214.4,722.0 L214.6,724.3 L215.5,727.0 L215.6,728.7 L216.4,730.9 L216.9,733.3 L217.4,736.5 L217.7,738.0 L218.4,739.7 L218.5,741.7 L218.6,744.2 L219.0,748.0 L219.8,746.4 L219.7,751.2 L220.6,753.1 L220.5,755.8 L220.6,756.5 L221.7,760.9 L222.1,762.2 L222.3,763.5 L223.9,765.7 L224.6,767.1 L225.8,769.6 L226.8,771.5 L227.8,774.2 L228.5,775.8 L229.0,777.6 L230.2,780.2 L230.4,782.3 L230.7,784.2 L230.7,785.2 L231.3,789.1 L232.0,789.7 L232.5,792.0 L233.1,794.7 L233.5,797.3 L234.1,800.0 L235.3,799.8 L236.2,804.0 L237.4,806.1 L238.4,806.6 L239.1,808.8 L239.9,810.6 L241.1,812.6 L241.7,814.2 L242.0,816.0 L243.2,819.2 L243.5,821.6 L244.0,824.8 L244.4,825.0 L245.2,826.3 L246.0,830.0 L246.5,831.7 L247.4,834.4 L248.0,835.9 L248.5,837.3 L249.8,839.5 L251.1,842.3 L252.1,843.7 L253.0,844.8 L253.5,848.2 L253.9,848.7 L254.5,851.5 L255.2,854.2 L256.0,855.2 L256.3,857.4 L257.1,860.3 L257.4,862.3 L258.8,864.2 L259.6,866.1 L260.2,867.8 L261.1,870.1 L261.6,874.8 L262.3,874.4 L262.8,878.0 L263.6,878.6 L264.2,882.0 L265.6,884.0 L266.3,885.5 L267.0,886.8 L267.9,888.2 L269.3,891.7 L270.4,891.9 L271.3,893.6 L272.3,897.5 L272.9,899.6 L273.2,900.7 L273.6,902.7 L273.5,904.6 L274.2,907.4 L274.7,908.9 L276.1,910.1 L277.0,912.6 L277.9,915.2 L279.6,915.9 L280.4,918.3 L281.0,921.1 L282.1,924.2 L282.7,925.1 L284.0,927.0 L284.8,930.4 L285.4,930.3 L286.6,932.6 L287.7,935.7 L288.4,937.9 L288.9,939.4 L290.1,939.3 L291.1,943.7 L291.9,945.6 L293.0,947.2 L293.5,949.7 L294.0,952.2 L295.7,953.3 L296.1,954.6 L297.2,956.0 L297.8,959.3 L299.2,960.8 L299.9,962.7 L301.5,964.1 L302.8,966.8 L304.5,968.8 L305.7,970.5 L306.5,971.3 L307.6,974.7 L308.4,976.2 L309.4,976.3 L310.1,980.4 L311.4,980.5 L311.9,983.1 L313.4,986.6 L314.3,988.3 L315.3,989.4 L316.6,991.1 L317.0,993.9 L318.3,994.3 L319.7,997.8 L320.6,999.2 L322.0,1001.8 L323.0,1003.1 L323.9,1004.3 L325.4,1007.1 L326.6,1008.5 L327.9,1009.6 L329.2,1011.5 L330.9,1013.4 L331.7,1015.8 L333.1,1018.0 L334.9,1019.2 L335.6,1020.3 L336.9,1022.7 L338.2,1025.3 L339.2,1027.6 L340.4,1028.0 L341.5,1030.7 L342.4,1032.1 L344.2,1032.6 L345.5,1035.0 L346.6,1037.3 L347.7,1039.2 L349.0,1041.2 L350.3,1042.9 L351.3,1045.4 L352.5,1046.3 L353.8,1047.5 L355.6,1050.5 L357.0,1051.1 L358.9,1053.4 L361.1,1053.6 L362.1,1056.4 L364.0,1056.0 L365.9,1057.6 L367.1,1060.6 L368.9,1063.0 L369.8,1062.9 L371.4,1066.2 L373.4,1067.7 L374.5,1068.7 L376.4,1069.4 L378.0,1069.5 L380.0,1071.4 L381.2,1073.3 L383.1,1075.7 L384.9,1076.6 L386.7,1077.7 L388.1,1079.7 L390.0,1079.9 L391.4,1082.7 L393.6,1083.2 L395.1,1086.0 L396.9,1086.6 L398.9,1087.3 L400.4,1088.8 L402.1,1089.3 L404.0,1091.9 L405.9,1092.4 L407.1,1094.3 L408.8,1096.5 L411.0,1097.3 L412.6,1098.7 L414.5,1101.5 L416.8,1101.3 L418.2,1102.8 L420.0,1103.0 L422.2,1103.5 L423.7,1105.6 L425.8,1105.8 L427.6,1105.5 L429.6,1109.1 L431.6,1110.0 L433.2,1110.1 L435.3,1112.8 L437.2,1112.8 L439.0,1113.6 L441.3,1114.4 L443.0,1117.0 L444.8,1116.9 L446.6,1118.0 L448.7,1119.1 L450.5,1120.0 L452.7,1120.5 L454.8,1122.2 L456.5,1123.0 L458.4,1125.1 L460.5,1124.6 L462.7,1127.0 L464.4,1127.1 L466.7,1127.8 L468.4,1129.2 L470.0,1130.3 L472.9,1131.3 L474.7,1132.6 L476.5,1133.3 L478.6,1132.9 L480.6,1134.3 L483.0,1136.7 L484.6,1136.3 L486.8,1135.5 L488.8,1138.0 L490.8,1139.9 L493.1,1140.3 L495.1,1140.3 L497.0,1141.2 L499.7,1142.2 L500.6,1142.4 L503.6,1143.0 L505.2,1145.2 L507.3,1144.5 L509.7,1146.2 L511.8,1145.1 L514.0,1146.4 L515.5,1146.9 L518.3,1148.7 L519.8,1148.7 L522.1,1149.7 L524.3,1150.3 L526.2,1151.3 L528.4,1152.2 L530.6,1152.3 L532.6,1153.3 L534.6,1153.6 L537.0,1154.1 L539.1,1154.9 L541.2,1155.8 L543.3,1155.2 L545.5,1156.8 L547.6,1157.7 L549.8,1157.7 L551.8,1158.5 L553.7,1159.2 L556.1,1159.6 L558.2,1160.1 L560.4,1161.0 L562.6,1161.5 L564.4,1161.8 L566.4,1162.5 L568.9,1162.6 L571.0,1163.4 L573.1,1164.1 L575.1,1164.6 L577.5,1164.9 L579.5,1166.0 L581.8,1166.3 L583.8,1166.9 L586.0,1166.9 L587.8,1167.6 L590.2,1168.1 L592.3,1168.8 L594.3,1169.9 L596.6,1170.7 L599.0,1170.5 L600.8,1171.1 L602.9,1171.4 L605.3,1171.8 L607.3,1172.6 L609.5,1172.7 L611.8,1172.9 L614.0,1173.8 L616.1,1173.9 L618.3,1174.5 L620.4,1174.9 L622.4,1175.5 L624.7,1175.8 L626.8,1176.2 L629.0,1176.3 L631.2,1176.7 L633.4,1177.3 L635.6,1177.6 L637.7,1178.0 L639.9,1178.3 L642.1,1179.1 L644.4,1178.7 L646.4,1179.2 L648.5,1179.4 L650.9,1180.0 L652.9,1179.7 L655.2,1179.9 L657.4,1180.9 L659.7,1181.0 L661.6,1181.2 L664.1,1181.2 L666.1,1182.1 L668.5,1182.1 L670.5,1182.0 L673.0,1182.2 L675.0,1182.3 L677.1,1183.1 L679.3,1182.8 L681.3,1182.8 L683.9,1183.1 L685.8,1183.8 L688.2,1183.8 L690.4,1183.6 L692.6,1183.6 L694.7,1184.0 L696.9,1184.4 L699.2,1184.4 L701.3,1184.6 L703.4,1184.9 L705.7,1184.9 L708.0,1185.0 L710.2,1185.1 L712.2,1185.3 L714.5,1185.5 L716.7,1185.8 L719.0,1185.9 L721.1,1185.9 L723.3,1186.3 L725.6,1186.1 L727.8,1186.6 L730.0,1186.4 L732.1,1186.7 L734.4,1187.0 L736.6,1187.2 L738.7,1187.1 L740.9,1187.4 L743.2,1187.3 L745.3,1187.6 L747.6,1187.9 L749.7,1187.9 L751.9,1188.3 L754.2,1188.3 L756.3,1188.5 L758.5,1188.4 L760.8,1188.7 L763.0,1188.9 L765.1,1189.1 L767.4,1189.2 L769.5,1189.2 L771.8,1189.3 L774.0,1189.4 L776.2,1190.0 L778.4,1190.0 L780.6,1190.2 L782.8,1190.1 L784.9,1190.6 L787.1,1190.5 L789.3,1190.7 L791.5,1190.7 L793.7,1190.7 L795.9,1191.2 L798.2,1191.2 L800.4,1191.4 L802.6,1191.3 L804.8,1191.4 L806.9,1191.7 L809.3,1192.1 L811.3,1192.4 L813.5,1192.2 L815.8,1192.4 L817.9,1192.3 L820.1,1192.5 L822.4,1192.8 L824.6,1192.8 L826.8,1193.0 L829.0,1193.2 L831.2,1193.1 L833.4,1193.1 L835.6,1193.6 L837.9,1193.5 L840.0,1193.5 L842.2,1193.6 L844.4,1193.6 L846.7,1193.8 L848.8,1193.6 L851.0,1193.9 L853.3,1193.8 L855.5,1194.1 L857.6,1194.3 L859.8,1194.2 L862.0,1194.6 L864.3,1194.4 L866.4,1194.4 L868.8,1194.6 L870.9,1194.7 L873.0,1194.8 L875.2,1194.9 L877.5,1194.9 L879.7,1195.2 L881.9,1194.9 L884.1,1195.3 L886.3,1195.2 L888.5,1195.3 L890.7,1195.3 L892.9,1195.7 L895.1,1195.3 L897.3,1195.5 L899.5,1195.7 L901.8,1195.9 L904.0,1195.7 L906.2,1196.0 L908.3,1196.2 L910.5,1195.9 L912.7,1195.7 L914.9,1196.2 L917.1,1196.2 L919.4,1196.2 L921.6,1196.4 L923.8,1196.4 L926.0,1196.3 L928.2,1196.5 L930.4,1196.3 L932.6,1196.6 L934.8,1196.6 L937.0,1196.7 L939.2,1196.6 L941.4,1196.8 L943.7,1196.8 L945.8,1196.9 L948.0,1196.9 L950.3,1196.6 L952.4,1197.0 L954.6,1196.8 L956.9,1197.2 L959.0,1197.1 L961.3,1197.2 L963.5,1197.1 L965.6,1197.5 L967.9,1197.2 L969.8,1197.6 L971.4,1197.6" stroke="#4dbeff" stroke-width="5.6"/>
<path d="M192.6,684.9 L192.4,687.4 L192.5,688.8 L192.8,691.3 L192.9,694.2 L193.0,695.8 L193.1,698.6 L192.9,700.4 L193.5,703.1 L193.5,703.5 L194.1,705.9 L194.2,707.7 L194.7,711.1 L195.3,712.7 L196.1,715.6 L196.9,717.2 L197.5,719.2 L198.1,722.8 L198.1,723.9 L199.0,725.6 L198.8,727.1 L199.0,730.8 L199.5,732.9 L199.7,733.6 L200.2,736.4 L201.0,738.8 L201.5,739.5 L202.9,742.5 L203.3,745.7 L204.3,745.6 L205.4,749.1 L206.0,752.2 L206.2,752.6 L206.2,754.9 L206.7,757.5 L207.0,759.9 L207.4,762.0 L207.9,762.8 L208.5,765.5 L209.2,768.3 L209.6,770.1 L210.0,773.3 L210.9,774.3 L211.7,776.4 L212.6,780.0 L213.0,780.7 L213.8,782.2 L214.4,785.0 L215.0,786.9 L215.9,789.7 L216.4,791.6 L217.3,793.2 L218.0,795.2 L218.4,797.2 L219.1,800.7 L219.7,803.2 L220.4,803.9 L221.1,806.5 L222.0,808.4 L222.3,809.9 L223.2,812.0 L223.7,814.2 L224.2,815.3 L224.5,818.3 L225.0,821.2 L225.8,823.7 L226.5,825.0 L227.0,827.0 L228.4,829.8 L228.9,832.8 L229.6,832.8 L230.4,835.0 L230.7,837.3 L230.8,840.2 L231.4,841.4 L231.5,844.5 L231.9,845.9 L232.2,849.0 L232.2,850.5 L232.8,852.6 L233.6,855.6 L234.3,856.4 L234.5,858.8 L235.2,862.0 L235.9,864.1 L236.7,865.8 L237.9,866.2 L238.5,870.3 L238.7,872.1 L239.4,873.7 L240.2,874.8 L240.6,878.8 L241.2,881.6 L241.9,882.8 L242.6,885.3 L243.6,885.8 L244.7,888.3 L246.2,889.4 L247.9,890.6 L249.3,892.4 L251.2,893.3 L251.2,895.1 L251.8,897.1 L252.3,899.6 L252.6,901.9 L252.2,904.4 L252.6,905.6 L252.9,908.9 L252.6,909.6 L253.4,913.1 L253.5,915.3 L253.8,915.8 L254.8,919.2 L255.4,922.2 L256.2,923.8 L257.7,925.1 L258.3,927.0 L259.8,929.5 L260.2,931.3 L262.0,933.6 L262.9,935.0 L264.2,937.4 L265.4,938.9 L266.7,940.0 L267.5,941.7 L268.8,943.9 L270.0,946.4 L271.3,947.4 L272.4,950.5 L273.6,950.7 L274.8,953.5 L275.5,954.9 L277.0,957.6 L278.2,959.4 L279.2,961.1 L280.6,962.4 L281.0,964.7 L281.8,966.9 L282.2,970.2 L283.1,971.2 L283.9,974.1 L284.1,976.5 L284.8,977.3 L285.5,979.5 L286.7,980.2 L288.5,983.3 L289.1,985.9 L290.7,986.5 L292.2,989.3 L293.3,991.4 L294.7,992.8 L296.0,994.0 L297.6,996.1 L298.6,997.2 L300.2,999.0 L301.8,1002.6 L302.8,1002.3 L304.5,1003.8 L306.0,1006.1 L307.7,1007.9 L308.7,1010.0 L310.4,1010.7 L311.4,1012.2 L313.3,1014.0 L314.2,1016.9 L316.0,1018.8 L317.8,1019.2 L318.9,1021.0 L320.4,1023.0 L321.4,1024.0 L323.2,1026.0 L324.7,1028.6 L325.9,1028.8 L327.5,1031.5 L328.7,1033.8 L330.3,1033.8 L331.6,1037.0 L333.0,1037.9 L334.9,1039.2 L336.1,1041.8 L337.8,1042.8 L339.7,1044.2 L341.1,1045.5 L342.3,1046.9 L344.0,1048.7 L345.5,1050.4 L347.2,1052.7 L349.0,1053.6 L350.5,1055.6 L351.4,1056.8 L352.6,1059.2 L354.4,1060.6 L355.0,1063.3 L357.0,1064.3 L358.0,1064.5 L360.1,1067.1 L361.8,1068.3 L363.3,1070.7 L364.8,1071.5 L366.9,1073.5 L368.6,1074.8 L370.3,1075.1 L372.5,1076.7 L373.8,1078.3 L375.5,1078.8 L377.6,1083.3 L379.8,1082.6 L380.7,1082.6 L382.6,1083.9 L384.3,1086.3 L386.2,1087.2 L388.1,1087.7 L389.6,1088.8 L391.6,1091.3 L393.3,1092.1 L395.4,1093.9 L397.2,1094.7 L399.2,1096.7 L401.0,1095.8 L403.0,1098.6 L404.5,1098.7 L406.7,1099.6 L408.6,1102.1 L410.7,1101.1 L412.4,1103.5 L414.4,1104.4 L416.6,1106.6 L418.4,1105.8 L420.1,1108.1 L422.2,1109.2 L424.1,1109.9 L426.2,1111.0 L428.1,1111.8 L429.9,1111.9 L432.1,1113.5 L433.7,1113.5 L436.2,1116.5 L438.2,1117.5 L440.1,1116.9 L441.6,1119.8 L443.7,1120.0 L445.8,1120.3 L447.5,1122.0 L449.4,1124.1 L451.3,1124.8 L453.3,1125.2 L455.0,1127.5 L456.7,1127.8 L459.1,1128.6 L461.5,1128.9 L463.2,1131.1 L465.2,1132.2 L467.5,1131.8 L469.0,1133.2 L470.9,1134.2 L473.1,1135.4 L475.3,1135.4 L477.6,1138.4 L479.5,1138.0 L481.3,1139.2 L483.7,1139.1 L485.6,1141.5 L487.6,1141.1 L489.6,1140.3 L491.6,1143.0 L493.8,1143.0 L495.7,1143.0 L497.6,1144.4 L499.9,1144.5 L502.5,1146.4 L504.2,1147.0 L506.1,1146.3 L508.5,1148.4 L511.1,1149.4 L512.6,1147.6 L515.3,1150.9 L517.0,1151.2 L518.5,1151.9 L521.1,1152.5 L523.4,1152.7 L525.3,1153.1 L527.3,1154.0 L529.6,1154.4 L531.8,1155.0 L533.7,1154.7 L536.0,1155.7 L538.2,1157.1 L540.4,1156.9 L542.5,1157.7 L544.5,1158.0 L546.8,1158.4 L548.9,1159.3 L551.0,1159.8 L553.1,1160.0 L555.4,1160.6 L557.4,1161.4 L559.8,1161.6 L561.7,1162.1 L564.0,1163.3 L566.1,1163.8 L568.2,1164.0 L570.3,1165.0 L572.5,1165.4 L574.6,1165.8 L576.6,1166.0 L578.9,1166.9 L581.0,1167.0 L583.0,1167.7 L585.4,1168.0 L587.3,1169.1 L589.6,1169.3 L591.7,1169.8 L593.7,1170.5 L596.0,1171.5 L598.1,1171.6 L600.4,1171.4 L602.4,1172.3 L604.7,1172.8 L606.8,1173.0 L609.1,1173.3 L611.1,1174.5 L613.5,1174.6 L615.3,1175.0 L617.6,1175.2 L619.8,1175.8 L621.9,1176.0 L624.0,1176.3 L626.4,1176.6 L628.4,1176.8 L630.7,1177.2 L633.0,1177.8 L635.2,1177.9 L637.2,1178.6 L639.5,1178.5 L641.7,1179.3 L643.9,1179.0 L646.0,1179.8 L648.1,1180.3 L650.3,1180.5 L652.7,1180.3 L654.8,1181.2 L657.0,1181.1 L659.2,1181.5 L661.4,1181.6 L663.6,1181.4 L665.7,1182.4 L667.8,1182.6 L670.2,1182.9 L672.3,1182.5 L674.4,1183.3 L676.9,1183.0 L679.1,1183.0 L681.2,1183.2 L683.3,1183.8 L685.5,1183.8 L687.7,1184.5 L689.9,1184.5 L692.1,1184.8 L694.3,1184.6 L696.5,1184.5 L698.7,1184.5 L701.0,1185.1 L703.2,1185.5 L705.3,1185.6 L707.6,1185.3 L709.7,1185.7 L711.9,1185.9 L714.2,1185.8 L716.3,1186.1 L718.6,1186.2 L720.7,1186.4 L723.0,1186.6 L725.2,1186.6 L727.4,1186.8 L729.6,1186.9 L731.8,1187.1 L734.1,1186.8 L736.2,1187.5 L738.5,1187.7 L740.6,1187.5 L742.9,1187.8 L745.1,1188.1 L747.2,1188.0 L749.4,1188.1 L751.7,1188.4 L753.9,1188.6 L756.0,1188.5 L758.2,1188.8 L760.5,1189.0 L762.7,1188.9 L764.8,1189.3 L767.1,1189.6 L769.2,1189.5 L771.4,1189.7 L773.7,1190.0 L775.9,1189.9 L778.0,1190.1 L780.3,1190.5 L782.5,1190.7 L784.7,1190.4 L787.0,1190.7 L789.2,1190.9 L791.4,1191.2 L793.4,1191.2 L795.6,1191.2 L797.9,1191.6 L800.1,1191.2 L802.4,1191.8 L804.5,1192.0 L806.7,1192.2 L808.9,1192.2 L811.1,1192.1 L813.5,1192.6 L815.5,1192.5 L817.8,1192.7 L820.1,1193.0 L822.2,1192.7 L824.4,1193.4 L826.6,1193.3 L828.8,1193.4 L831.0,1193.3 L833.2,1193.5 L835.4,1193.6 L837.7,1193.6 L839.8,1193.4 L842.1,1193.8 L844.2,1193.8 L846.4,1194.0 L848.7,1194.0 L850.9,1194.1 L853.2,1194.2 L855.3,1194.0 L857.6,1194.0 L859.7,1194.4 L861.8,1194.4 L864.1,1194.6 L866.3,1194.4 L868.6,1194.6 L870.7,1194.9 L873.0,1194.9 L875.1,1194.8 L877.3,1195.1 L879.5,1195.2 L881.8,1195.1 L884.0,1195.2 L886.2,1195.4 L888.4,1195.4 L890.5,1195.5 L892.7,1195.5 L895.1,1195.3 L897.3,1195.9 L899.5,1195.9 L901.6,1195.9 L903.9,1195.7 L906.0,1196.0 L908.3,1196.1 L910.5,1196.1 L912.7,1196.1 L914.9,1195.9 L917.1,1196.3 L919.2,1196.4 L921.5,1196.4 L923.7,1196.6 L926.0,1196.5 L928.1,1196.7 L930.4,1196.3 L932.5,1196.7 L934.8,1196.6 L937.0,1196.9 L939.2,1196.6 L941.5,1196.7 L943.7,1196.7 L945.8,1196.9 L948.0,1196.8 L950.2,1197.1 L952.4,1197.1 L954.7,1197.1 L956.8,1197.1 L959.0,1197.0 L961.2,1197.5 L963.4,1197.4 L965.6,1197.1 L967.9,1197.5 L969.9,1197.2 L971.3,1197.4" stroke="#00009b" stroke-width="5.6"/>
<path d="M199.4,805.8 L199.5,806.3 L199.7,808.3 L200.2,810.3 L200.5,811.1 L201.5,814.8 L201.9,815.7 L202.2,819.1 L202.7,820.6 L203.5,823.9 L203.7,825.2 L204.3,827.4 L205.3,828.8 L205.4,832.1 L206.3,833.7 L206.8,836.4 L207.5,838.6 L208.2,840.7 L208.7,842.1 L209.5,843.1 L210.0,845.7 L210.9,849.2 L211.4,851.4 L212.5,853.7 L213.3,854.5 L213.7,856.3 L213.9,859.7 L215.0,861.7 L215.9,863.2 L216.4,865.3 L217.2,866.4 L218.3,869.3 L218.5,872.5 L219.3,873.0 L220.2,875.5 L220.2,877.8 L220.8,879.8 L221.6,880.9 L221.9,884.0 L222.7,886.1 L223.4,888.4 L224.0,890.4 L224.7,892.8 L225.6,894.0 L226.8,897.8 L227.8,898.4 L228.9,901.6 L230.1,903.5 L230.3,904.7 L231.6,905.8 L232.0,907.2 L233.2,909.7 L233.9,912.5 L234.9,914.8 L236.0,916.1 L237.4,918.2 L238.3,922.3 L239.5,922.6 L239.9,923.6 L240.9,926.8 L241.8,927.7 L242.8,928.7 L244.0,932.6 L245.0,933.9 L245.7,936.4 L246.5,939.5 L247.9,940.3 L248.8,941.5 L250.0,945.1 L251.4,944.4 L252.5,947.0 L254.0,950.7 L254.4,952.7 L255.4,953.4 L256.4,955.0 L258.2,957.6 L258.7,959.5 L260.0,961.4 L261.2,962.9 L261.6,964.3 L262.9,966.8 L263.4,969.0 L264.7,971.0 L265.1,972.9 L266.2,975.2 L267.1,976.1 L268.0,980.0 L269.2,982.4 L270.1,983.0 L271.0,984.5 L271.9,987.7 L272.2,989.9 L273.5,991.4 L274.8,994.2 L275.7,995.2 L276.6,996.7 L277.3,1000.6 L278.6,1001.1 L279.4,1003.1 L280.4,1003.7 L281.9,1006.9 L283.0,1008.6 L284.2,1010.8 L285.5,1013.2 L286.8,1014.6 L287.8,1015.5 L289.0,1018.8 L290.6,1020.0 L292.0,1021.8 L293.6,1023.0 L295.1,1024.8 L296.3,1025.5 L297.6,1027.2 L298.7,1029.6 L300.4,1031.3 L301.5,1033.8 L303.0,1033.1 L304.4,1036.8 L305.6,1038.3 L306.8,1041.5 L308.3,1042.1 L309.9,1043.8 L310.6,1046.0 L312.3,1048.0 L313.7,1048.0 L315.1,1050.2 L316.5,1053.2 L317.7,1054.7 L319.2,1056.2 L320.9,1058.9 L321.9,1058.4 L323.5,1061.2 L324.9,1062.5 L326.7,1064.6 L328.4,1065.5 L329.4,1067.7 L331.1,1070.9 L332.2,1071.1 L334.6,1072.4 L336.2,1075.0 L337.6,1075.9 L338.8,1078.5 L340.7,1078.0 L342.6,1079.4 L343.5,1080.2 L345.2,1082.6 L347.2,1083.4 L348.4,1087.3 L350.4,1087.8 L351.8,1089.5 L353.6,1090.6 L355.0,1091.9 L356.9,1093.2 L358.8,1093.7 L360.5,1097.2 L362.4,1097.3 L364.1,1100.1 L365.6,1100.7 L367.8,1100.5 L369.6,1102.3 L371.2,1103.6 L373.1,1104.6 L375.0,1105.9 L376.8,1107.4 L378.5,1108.2 L380.6,1109.2 L382.5,1110.8 L384.2,1111.6 L386.5,1112.1 L388.7,1113.6 L390.5,1113.9 L392.3,1115.3 L395.1,1115.9 L397.0,1117.6 L399.0,1116.5 L400.8,1119.9 L402.6,1119.3 L404.0,1121.4 L406.9,1121.0 L409.1,1122.2 L410.5,1123.5 L412.8,1123.8 L414.8,1124.5 L417.2,1125.5 L418.6,1127.5 L421.3,1126.0 L423.1,1128.0 L424.8,1129.8 L426.8,1129.3 L429.4,1131.4 L431.6,1129.4 L433.2,1130.8 L435.4,1132.1 L437.5,1132.6 L439.8,1133.2 L441.8,1134.5 L443.9,1133.5 L446.0,1134.7 L448.2,1134.8 L450.7,1134.6 L453.0,1136.5 L454.8,1135.1 L457.0,1137.4 L458.8,1136.1 L461.4,1137.6 L463.3,1138.2 L465.7,1138.1 L467.1,1139.9 L470.0,1140.9 L471.7,1141.2 L473.9,1141.4 L476.0,1143.1 L477.9,1143.3 L480.3,1143.6 L482.4,1141.9 L484.4,1144.4 L486.8,1145.7 L488.8,1144.8 L490.7,1144.1 L492.9,1146.2 L495.0,1147.2 L497.3,1146.7 L499.9,1148.2 L501.5,1149.3 L503.9,1149.0 L505.4,1149.9 L507.6,1151.8 L509.8,1151.4 L512.1,1151.2 L514.2,1153.0 L516.7,1153.7 L518.5,1153.9 L520.7,1154.5 L522.9,1154.9 L524.8,1156.5 L527.1,1155.9 L529.3,1156.7 L531.4,1157.3 L533.8,1157.9 L535.8,1157.9 L537.9,1158.5 L540.1,1158.8 L542.3,1159.5 L544.1,1159.4 L546.6,1160.9 L548.6,1161.1 L550.9,1161.8 L552.8,1162.0 L555.1,1162.0 L557.3,1162.8 L559.6,1163.5 L561.5,1164.6 L563.7,1164.7 L565.8,1165.5 L567.9,1165.8 L570.0,1166.0 L572.2,1166.6 L574.4,1167.4 L576.6,1168.0 L578.6,1168.0 L580.9,1168.8 L583.0,1169.3 L585.0,1169.9 L587.4,1170.6 L589.4,1170.3 L591.7,1170.9 L593.8,1171.1 L595.9,1172.7 L598.1,1172.7 L600.2,1172.6 L602.3,1174.2 L604.6,1174.0 L606.7,1174.4 L609.0,1174.9 L611.2,1175.4 L613.1,1174.9 L615.3,1175.8 L617.6,1176.5 L619.7,1176.7 L621.9,1176.9 L624.0,1177.2 L626.3,1177.2 L628.5,1177.1 L630.6,1177.9 L632.8,1178.9 L635.0,1179.2 L637.2,1179.3 L639.3,1179.8 L641.7,1180.6 L643.8,1180.3 L645.9,1180.4 L648.1,1181.7 L650.4,1181.2 L652.7,1181.2 L654.8,1182.1 L656.8,1181.7 L659.1,1182.2 L661.3,1182.6 L663.4,1183.2 L665.8,1182.8 L668.0,1183.5 L670.1,1183.0 L672.4,1183.6 L674.5,1183.8 L676.7,1184.1 L678.8,1184.8 L681.2,1184.2 L683.2,1184.4 L685.7,1184.5 L687.8,1184.7 L690.0,1185.1 L692.1,1185.2 L694.3,1185.6 L696.4,1185.3 L698.7,1185.8 L701.0,1185.8 L703.1,1185.9 L705.3,1186.1 L707.6,1186.2 L709.7,1186.3 L712.0,1186.4 L714.2,1186.3 L716.3,1186.5 L718.6,1186.8 L720.9,1187.0 L723.1,1187.1 L725.2,1187.2 L727.4,1187.2 L729.6,1187.5 L731.8,1187.6 L733.9,1187.6 L736.2,1188.0 L738.5,1188.2 L740.6,1188.1 L742.9,1188.1 L745.0,1188.4 L747.3,1188.6 L749.4,1188.5 L751.7,1188.9 L753.9,1189.0 L756.0,1189.2 L758.3,1189.1 L760.4,1189.4 L762.6,1189.5 L764.9,1189.8 L767.1,1189.6 L769.3,1189.9 L771.6,1190.3 L773.7,1190.2 L775.9,1190.2 L778.0,1190.7 L780.3,1190.8 L782.5,1190.5 L784.7,1190.9 L786.9,1190.8 L789.0,1191.2 L791.3,1191.5 L793.5,1191.6 L795.7,1191.4 L797.9,1191.6 L800.1,1192.1 L802.4,1192.1 L804.6,1192.1 L806.8,1192.3 L809.0,1192.3 L811.1,1192.3 L813.3,1192.5 L815.5,1192.9 L817.8,1192.8 L820.0,1193.2 L822.2,1193.3 L824.4,1193.3 L826.6,1193.3 L828.8,1193.4 L831.1,1193.4 L833.2,1193.6 L835.4,1193.9 L837.6,1193.8 L839.9,1194.2 L842.1,1194.0 L844.2,1193.9 L846.5,1193.9 L848.7,1194.0 L850.8,1194.0 L853.1,1194.4 L855.3,1194.4 L857.5,1194.8 L859.7,1194.7 L861.9,1194.8 L864.1,1194.6 L866.4,1194.7 L868.5,1195.0 L870.8,1195.0 L873.0,1194.9 L875.1,1195.0 L877.4,1195.2 L879.5,1195.4 L881.7,1195.4 L884.0,1195.4 L886.2,1195.5 L888.4,1195.7 L890.7,1195.7 L892.8,1195.5 L895.0,1195.7 L897.3,1196.0 L899.4,1196.2 L901.7,1196.2 L903.9,1196.0 L906.0,1196.0 L908.3,1196.5 L910.4,1196.3 L912.8,1196.2 L914.9,1196.3 L917.1,1196.4 L919.3,1196.4 L921.5,1196.5 L923.8,1196.7 L925.9,1196.5 L928.2,1196.5 L930.3,1196.7 L932.5,1196.7 L934.7,1196.7 L936.9,1196.8 L939.3,1196.7 L941.4,1196.9 L943.5,1196.8 L945.9,1197.1 L948.0,1196.9 L950.2,1197.0 L952.5,1197.2 L954.7,1197.0 L956.9,1197.2 L959.0,1197.1 L961.4,1197.1 L963.4,1197.2 L965.6,1197.2 L967.8,1197.4 L969.9,1197.0 L971.4,1197.5" stroke="#0000dc" stroke-width="5.6"/>
<path d="M191.8,816.2 L192.3,818.2 L192.4,819.8 L192.3,821.7 L192.6,824.4 L192.7,825.2 L193.1,827.9 L193.5,830.0 L194.0,832.8 L194.5,834.8 L195.0,837.0 L196.1,839.4 L197.1,841.5 L198.3,843.1 L199.1,844.4 L200.2,847.3 L200.7,848.9 L201.2,852.3 L201.3,853.7 L202.4,855.3 L203.1,857.2 L203.9,858.7 L204.5,861.6 L204.9,862.9 L204.8,866.1 L205.7,866.7 L206.3,869.3 L207.1,873.1 L207.8,875.0 L209.3,876.6 L210.6,876.1 L211.8,878.0 L212.9,879.8 L213.9,881.6 L214.4,885.0 L214.9,886.6 L216.0,889.0 L216.9,890.7 L218.2,892.4 L219.4,896.3 L219.9,897.2 L221.3,898.0 L222.4,901.5 L223.0,902.2 L224.1,904.4 L225.3,907.6 L226.2,908.0 L227.5,910.3 L228.8,912.2 L230.0,915.5 L230.7,917.6 L231.8,918.2 L233.3,921.2 L234.2,920.8 L235.4,923.5 L236.7,926.4 L237.3,927.3 L238.7,929.7 L239.2,931.7 L240.3,934.0 L241.2,935.6 L242.5,936.3 L243.5,938.9 L244.4,940.5 L245.8,943.3 L247.0,943.7 L247.5,946.3 L248.8,949.7 L250.0,951.2 L250.6,954.6 L251.9,954.7 L252.9,954.7 L254.4,959.1 L255.4,960.4 L256.1,961.9 L257.7,963.1 L259.3,965.7 L260.2,968.1 L261.2,969.8 L262.6,971.5 L263.5,973.7 L265.4,975.2 L266.2,976.1 L268.0,978.6 L269.5,980.4 L270.9,983.0 L272.1,983.3 L273.8,984.2 L275.0,987.6 L276.2,989.1 L277.1,990.0 L278.8,991.4 L280.1,995.1 L281.4,994.5 L282.8,997.0 L284.0,999.4 L285.2,1000.2 L286.9,1002.6 L288.0,1004.8 L289.5,1005.8 L291.1,1006.9 L292.9,1009.0 L294.1,1011.1 L295.6,1013.6 L296.8,1013.8 L298.2,1017.2 L299.8,1017.2 L301.2,1020.5 L302.7,1022.7 L304.2,1023.7 L305.5,1024.3 L307.1,1027.2 L308.7,1028.4 L310.6,1029.5 L311.8,1030.6 L313.4,1032.0 L315.1,1033.7 L316.7,1037.0 L318.2,1037.3 L319.3,1038.8 L321.2,1039.7 L322.7,1041.8 L324.3,1043.0 L325.9,1044.2 L327.6,1046.4 L329.0,1047.5 L330.3,1049.6 L331.5,1051.2 L332.0,1052.8 L332.8,1055.7 L334.1,1057.7 L335.0,1057.0 L336.1,1060.5 L338.0,1062.1 L339.6,1063.6 L341.3,1066.2 L342.6,1066.8 L344.4,1067.9 L346.5,1069.1 L348.5,1071.5 L349.6,1071.3 L351.0,1073.6 L352.8,1074.8 L354.5,1076.4 L356.3,1077.9 L358.3,1078.7 L360.1,1080.1 L361.0,1082.3 L363.1,1083.2 L364.9,1086.1 L366.5,1086.7 L368.3,1087.0 L370.2,1089.4 L372.4,1090.1 L374.0,1091.6 L375.6,1093.8 L378.0,1094.5 L379.6,1094.5 L381.0,1096.6 L382.9,1097.1 L385.2,1099.0 L387.3,1099.1 L389.0,1098.9 L391.5,1098.4 L393.4,1101.3 L395.5,1102.1 L397.0,1103.0 L399.0,1106.0 L401.4,1105.5 L403.3,1107.0 L405.5,1106.7 L407.1,1108.8 L409.3,1109.0 L410.6,1109.3 L412.8,1111.3 L415.0,1112.7 L416.4,1113.1 L418.4,1116.0 L420.5,1116.2 L422.6,1116.2 L424.7,1116.6 L426.2,1119.8 L428.2,1120.8 L430.7,1121.7 L432.9,1121.5 L434.3,1122.3 L436.4,1124.1 L438.6,1124.2 L440.5,1125.6 L441.8,1127.2 L444.2,1128.6 L445.5,1128.2 L447.8,1129.5 L449.5,1130.6 L452.2,1130.8 L454.2,1132.8 L456.2,1132.2 L457.9,1134.0 L460.3,1134.2 L461.9,1136.2 L464.3,1136.3 L466.7,1136.5 L468.5,1137.5 L470.3,1137.6 L472.9,1139.7 L474.5,1139.8 L476.7,1140.5 L479.0,1141.7 L480.7,1142.5 L483.1,1142.5 L485.1,1142.7 L486.9,1145.1 L489.2,1145.3 L491.4,1145.8 L493.5,1146.9 L495.6,1146.8 L497.9,1148.7 L499.9,1148.1 L501.9,1148.7 L504.0,1149.5 L506.3,1149.8 L508.1,1150.5 L510.5,1151.3 L512.5,1151.3 L514.7,1152.7 L516.4,1153.0 L519.1,1154.9 L520.9,1154.0 L523.2,1154.5 L525.3,1155.0 L527.6,1155.9 L529.6,1156.3 L531.9,1156.4 L533.9,1157.3 L536.1,1157.0 L538.4,1157.7 L540.3,1158.3 L542.4,1158.9 L544.5,1159.2 L546.9,1160.4 L549.0,1160.9 L551.1,1161.1 L553.4,1161.7 L555.5,1162.2 L557.6,1162.7 L559.6,1163.5 L562.1,1164.0 L563.9,1164.4 L566.2,1164.7 L568.2,1164.9 L570.2,1165.4 L572.5,1166.5 L574.7,1166.5 L576.9,1167.3 L579.0,1168.2 L581.1,1168.5 L583.4,1168.9 L585.4,1169.4 L587.5,1170.1 L589.7,1170.6 L591.8,1170.6 L593.9,1171.0 L596.2,1171.6 L598.3,1172.3 L600.5,1173.5 L602.7,1173.4 L604.7,1173.8 L607.0,1174.5 L609.1,1174.8 L611.3,1174.7 L613.6,1174.6 L615.8,1176.4 L618.0,1175.9 L619.8,1176.2 L622.3,1177.1 L624.5,1176.8 L626.7,1177.4 L628.7,1177.4 L630.8,1178.5 L633.0,1178.3 L635.4,1178.9 L637.6,1179.5 L639.8,1179.5 L641.8,1180.5 L644.1,1180.0 L646.3,1179.8 L648.4,1180.8 L650.7,1181.1 L652.8,1181.4 L655.0,1181.2 L657.1,1181.5 L659.5,1181.9 L661.5,1182.5 L663.8,1182.4 L665.9,1183.1 L668.0,1183.2 L670.3,1183.4 L672.6,1183.1 L674.7,1182.9 L676.9,1183.7 L679.2,1184.3 L681.4,1184.3 L683.6,1183.9 L685.7,1184.6 L687.9,1184.5 L690.3,1184.9 L692.2,1184.5 L694.4,1184.7 L696.7,1185.1 L698.9,1185.7 L701.1,1185.5 L703.4,1185.7 L705.5,1186.0 L707.7,1185.9 L710.0,1186.0 L712.1,1186.1 L714.4,1186.6 L716.6,1186.4 L718.8,1186.4 L721.0,1186.7 L723.2,1187.0 L725.4,1187.1 L727.5,1187.3 L729.7,1187.5 L732.0,1187.5 L734.2,1187.5 L736.3,1187.5 L738.6,1187.9 L740.8,1188.1 L743.0,1188.2 L745.2,1188.4 L747.4,1188.3 L749.5,1188.7 L751.7,1188.4 L754.1,1188.6 L756.2,1188.7 L758.5,1189.3 L760.7,1189.4 L762.8,1189.5 L765.0,1189.8 L767.3,1189.5 L769.4,1189.9 L771.7,1189.9 L773.8,1190.0 L776.0,1190.4 L778.3,1190.3 L780.5,1190.4 L782.6,1190.8 L784.8,1190.8 L787.1,1190.9 L789.3,1191.2 L791.5,1191.2 L793.7,1191.3 L795.8,1191.6 L798.1,1191.9 L800.3,1191.6 L802.5,1192.2 L804.7,1192.2 L806.8,1192.3 L809.1,1192.5 L811.3,1192.3 L813.5,1192.7 L815.7,1193.0 L817.9,1193.0 L820.1,1192.8 L822.3,1193.1 L824.6,1193.0 L826.7,1193.1 L828.9,1193.2 L831.1,1193.6 L833.3,1193.8 L835.5,1193.6 L837.8,1193.9 L840.0,1193.7 L842.1,1193.8 L844.3,1194.1 L846.6,1194.4 L848.7,1194.3 L850.9,1193.8 L853.2,1194.2 L855.4,1194.4 L857.5,1194.5 L859.8,1194.4 L862.0,1195.0 L864.2,1194.4 L866.3,1194.7 L868.6,1194.7 L870.7,1194.9 L873.1,1195.0 L875.2,1195.0 L877.5,1195.2 L879.6,1195.0 L881.8,1195.2 L884.0,1195.4 L886.3,1195.3 L888.4,1195.6 L890.7,1195.5 L892.8,1195.5 L895.1,1195.8 L897.3,1195.7 L899.4,1196.2 L901.8,1196.0 L903.9,1196.3 L906.1,1196.0 L908.3,1196.3 L910.5,1196.2 L912.7,1196.3 L914.9,1196.2 L917.2,1196.5 L919.4,1196.7 L921.6,1196.3 L923.7,1196.3 L926.1,1196.8 L928.2,1196.4 L930.4,1196.6 L932.6,1196.5 L934.8,1196.4 L937.0,1196.7 L939.2,1196.7 L941.5,1196.5 L943.6,1197.0 L945.7,1196.9 L948.0,1196.6 L950.2,1197.0 L952.4,1197.4 L954.7,1196.9 L956.8,1197.1 L959.0,1197.4 L961.4,1196.9 L963.5,1197.5 L965.7,1197.6 L967.9,1197.6 L969.9,1197.2 L971.4,1197.6" stroke="#0a28dc" stroke-width="5.6"/>
<path d="M188.1,916.0 L190.1,914.7 L191.8,915.5 L193.3,916.6 L195.0,917.1 L195.5,919.4 L196.6,921.3 L197.3,924.3 L198.0,925.4 L198.8,928.0 L200.0,929.2 L201.4,931.8 L202.6,932.6 L204.0,934.3 L205.0,936.7 L205.7,940.3 L206.8,940.8 L207.6,941.9 L209.2,944.1 L209.9,948.5 L211.4,948.3 L212.5,950.2 L213.3,952.3 L214.9,955.0 L216.3,956.2 L217.5,958.0 L219.1,959.5 L219.9,960.9 L221.2,963.3 L222.1,964.9 L223.1,966.1 L224.1,967.3 L225.3,971.9 L226.4,973.6 L227.5,975.0 L229.2,976.5 L230.7,977.8 L232.3,978.5 L233.7,980.0 L235.3,982.1 L236.3,983.9 L237.6,985.5 L239.4,987.0 L240.4,990.1 L242.0,991.8 L243.3,994.2 L244.5,996.0 L246.2,996.1 L247.4,998.6 L248.7,999.9 L250.4,1001.9 L251.4,1004.7 L253.3,1005.6 L254.6,1005.6 L255.7,1006.7 L257.0,1007.6 L257.6,1008.8 L258.5,1010.8 L259.6,1012.4 L261.1,1015.8 L261.8,1015.8 L263.8,1017.8 L265.1,1019.7 L266.6,1020.9 L268.0,1024.3 L269.6,1025.3 L270.9,1025.0 L272.1,1027.6 L273.2,1030.5 L275.1,1031.0 L276.8,1033.0 L278.4,1034.6 L279.9,1036.0 L281.8,1037.0 L283.1,1039.0 L284.4,1040.7 L286.2,1041.7 L287.2,1044.2 L289.0,1045.7 L290.4,1047.5 L292.1,1049.2 L293.9,1049.9 L295.5,1050.5 L297.2,1053.2 L298.8,1054.4 L300.4,1055.0 L301.3,1056.7 L302.8,1059.5 L304.5,1061.4 L306.2,1061.2 L307.7,1063.4 L309.7,1064.4 L311.3,1066.0 L312.9,1067.9 L314.6,1070.3 L316.1,1070.0 L317.4,1073.2 L319.2,1074.4 L320.9,1076.6 L322.7,1076.5 L324.3,1078.1 L326.2,1080.0 L327.7,1081.0 L329.5,1083.4 L331.0,1083.9 L332.8,1085.7 L334.5,1086.7 L336.1,1087.1 L338.0,1089.5 L340.2,1089.7 L342.0,1091.3 L343.6,1092.3 L345.9,1093.9 L347.6,1093.7 L349.5,1096.6 L351.1,1097.5 L352.9,1098.2 L354.8,1098.8 L356.7,1100.1 L358.2,1102.1 L360.1,1103.1 L361.6,1105.1 L363.5,1106.8 L365.3,1108.3 L366.8,1109.4 L368.3,1109.9 L370.4,1113.0 L372.2,1114.1 L374.4,1113.3 L376.3,1114.6 L378.0,1117.4 L380.2,1117.8 L382.3,1117.9 L384.4,1119.2 L386.2,1118.8 L388.1,1120.7 L390.0,1122.7 L392.3,1121.6 L393.6,1124.5 L395.8,1124.6 L397.4,1127.8 L399.5,1126.8 L401.4,1127.7 L403.6,1129.0 L405.2,1129.7 L407.4,1131.1 L409.8,1132.6 L411.7,1131.6 L413.5,1133.0 L415.9,1134.4 L417.8,1134.1 L420.2,1136.0 L421.9,1136.6 L424.3,1137.2 L426.3,1137.4 L428.3,1138.5 L430.3,1139.5 L432.9,1139.0 L435.1,1140.5 L436.9,1140.5 L438.6,1139.8 L441.2,1142.5 L443.9,1142.6 L445.0,1143.9 L447.1,1143.4 L449.5,1144.5 L451.6,1144.8 L453.7,1144.9 L455.9,1146.6 L458.3,1148.1 L459.8,1147.8 L462.6,1148.0 L464.6,1148.3 L466.9,1148.5 L468.5,1150.1 L470.8,1151.0 L472.6,1150.9 L474.9,1151.4 L477.1,1151.8 L478.9,1152.1 L481.2,1154.2 L483.6,1154.3 L485.5,1154.3 L487.9,1153.9 L490.2,1154.9 L492.2,1156.4 L494.1,1156.8 L496.2,1158.5 L498.5,1157.7 L500.8,1157.7 L503.2,1158.0 L505.1,1157.2 L507.2,1159.4 L509.4,1158.0 L512.1,1159.5 L514.0,1159.7 L516.0,1160.7 L517.5,1161.2 L520.4,1161.3 L522.5,1161.7 L524.7,1161.9 L526.7,1162.4 L529.1,1162.6 L531.4,1162.5 L533.2,1163.2 L535.7,1163.1 L537.8,1163.6 L540.0,1164.0 L542.0,1164.1 L544.3,1164.3 L546.4,1165.4 L548.5,1165.4 L550.9,1166.0 L552.8,1166.7 L555.1,1166.7 L557.4,1167.4 L559.4,1168.0 L561.5,1168.0 L563.6,1168.5 L565.6,1169.2 L568.0,1170.0 L570.0,1169.6 L572.3,1170.8 L574.5,1171.3 L576.7,1171.3 L578.7,1171.8 L580.9,1171.8 L583.1,1172.9 L585.4,1173.0 L587.4,1173.6 L589.6,1173.6 L591.7,1174.7 L594.0,1174.6 L596.1,1175.2 L598.2,1175.9 L600.4,1176.2 L602.6,1176.2 L604.9,1176.9 L607.1,1177.4 L609.1,1177.5 L611.3,1177.9 L613.5,1178.1 L615.9,1178.4 L617.9,1178.8 L620.0,1178.9 L622.2,1179.6 L624.3,1180.0 L626.6,1180.0 L628.8,1180.3 L630.9,1180.6 L633.2,1180.9 L635.4,1181.4 L637.4,1181.8 L639.7,1182.0 L641.8,1182.4 L644.3,1182.1 L646.3,1182.8 L648.3,1182.7 L650.7,1183.0 L652.8,1183.1 L655.3,1183.3 L657.3,1183.6 L659.6,1183.7 L661.7,1183.9 L664.0,1184.0 L666.1,1184.9 L668.2,1185.3 L670.5,1185.0 L672.6,1184.7 L674.8,1185.3 L677.0,1185.9 L679.2,1185.3 L681.6,1186.2 L683.7,1186.0 L685.8,1185.4 L688.0,1186.3 L690.3,1186.4 L692.5,1186.4 L694.7,1186.2 L696.9,1186.6 L699.0,1187.4 L701.3,1186.9 L703.5,1186.9 L705.7,1187.3 L707.9,1187.4 L710.2,1187.4 L712.3,1187.7 L714.4,1187.7 L716.7,1187.8 L718.9,1187.9 L721.1,1188.3 L723.2,1188.2 L725.5,1188.2 L727.7,1188.7 L730.0,1188.7 L732.1,1188.7 L734.3,1189.0 L736.5,1188.8 L738.8,1189.1 L740.9,1189.2 L743.1,1189.5 L745.3,1189.4 L747.5,1189.6 L749.7,1189.7 L751.9,1189.8 L754.2,1189.8 L756.3,1190.1 L758.5,1189.9 L760.7,1190.2 L762.9,1190.2 L765.2,1190.7 L767.4,1190.8 L769.5,1190.7 L771.7,1191.0 L774.0,1190.9 L776.1,1191.3 L778.3,1191.2 L780.4,1191.7 L782.7,1191.7 L784.9,1191.9 L787.2,1191.8 L789.3,1191.7 L791.5,1192.0 L793.7,1192.2 L795.9,1192.3 L798.2,1192.4 L800.4,1192.5 L802.6,1192.6 L804.7,1193.1 L806.9,1192.9 L809.1,1193.0 L811.3,1192.8 L813.5,1193.5 L815.7,1193.4 L817.9,1193.5 L820.2,1193.6 L822.4,1193.7 L824.7,1194.1 L826.8,1193.9 L829.0,1194.3 L831.2,1194.3 L833.4,1194.1 L835.7,1194.0 L837.8,1194.4 L840.0,1194.3 L842.2,1194.4 L844.5,1194.6 L846.6,1194.8 L848.9,1194.3 L851.0,1194.5 L853.2,1194.6 L855.4,1195.0 L857.7,1194.9 L859.9,1195.1 L862.0,1195.3 L864.2,1195.0 L866.5,1195.2 L868.6,1195.3 L870.9,1195.4 L873.0,1195.4 L875.3,1195.5 L877.5,1195.3 L879.7,1195.5 L881.9,1195.5 L884.1,1195.9 L886.3,1195.7 L888.4,1195.8 L890.8,1195.9 L892.9,1196.1 L895.2,1196.3 L897.4,1196.0 L899.5,1196.2 L901.8,1196.4 L903.9,1196.2 L906.1,1196.6 L908.3,1196.4 L910.6,1196.7 L912.8,1196.6 L914.9,1196.6 L917.2,1196.5 L919.4,1196.4 L921.5,1196.6 L923.8,1197.0 L926.0,1196.5 L928.2,1196.8 L930.4,1196.8 L932.6,1196.9 L934.8,1196.8 L936.9,1196.9 L939.3,1196.9 L941.4,1197.2 L943.6,1196.9 L945.8,1197.0 L948.0,1197.4 L950.3,1197.1 L952.4,1197.3 L954.6,1197.1 L956.9,1197.2 L958.9,1197.3 L961.3,1197.2 L963.5,1197.3 L965.6,1197.3 L967.9,1197.4 L969.8,1197.4 L971.3,1197.6" stroke="#0a6e78" stroke-width="5.6"/>
<path d="M188.9,924.7 L189.2,924.6 L189.5,928.2 L190.2,930.7 L191.2,932.7 L191.9,935.3 L193.1,935.8 L194.4,937.6 L194.8,939.9 L196.2,941.5 L197.6,945.1 L198.9,946.2 L199.6,945.8 L200.4,948.8 L201.5,951.2 L202.0,951.6 L202.8,955.8 L204.1,956.6 L204.6,958.3 L205.6,960.9 L206.1,962.4 L207.2,965.8 L208.2,967.3 L209.4,968.4 L211.2,969.8 L212.6,972.0 L213.9,972.7 L215.7,975.3 L216.9,976.4 L218.1,978.8 L219.6,981.0 L221.1,982.0 L222.3,984.0 L223.4,986.0 L224.8,988.4 L225.9,990.1 L226.6,991.8 L228.0,993.6 L230.1,994.2 L231.1,995.4 L231.7,997.8 L233.8,1002.8 L234.5,1002.3 L235.9,1003.4 L237.4,1006.0 L238.9,1007.4 L240.6,1009.5 L241.9,1011.2 L243.2,1011.9 L244.3,1013.8 L245.6,1016.9 L246.8,1017.2 L248.1,1019.7 L250.3,1020.6 L251.4,1022.7 L252.7,1024.5 L254.6,1025.2 L255.3,1028.4 L256.6,1029.0 L257.7,1030.8 L258.6,1032.9 L260.3,1034.8 L262.0,1035.8 L263.2,1035.8 L265.1,1038.9 L266.6,1041.2 L268.1,1042.9 L269.9,1044.2 L271.3,1047.6 L272.6,1047.6 L274.3,1048.1 L276.4,1050.1 L277.8,1051.7 L279.5,1053.4 L280.9,1055.0 L282.5,1056.6 L283.7,1057.6 L284.9,1060.8 L286.4,1062.3 L287.8,1063.3 L289.6,1064.7 L290.1,1067.3 L291.9,1068.6 L292.9,1069.5 L294.5,1072.6 L296.2,1073.4 L297.7,1076.5 L299.7,1073.9 L301.2,1078.5 L302.9,1078.4 L304.8,1079.3 L306.1,1081.4 L308.5,1084.2 L310.6,1082.6 L312.5,1085.4 L314.2,1086.8 L315.9,1087.8 L317.4,1088.4 L319.6,1090.1 L320.3,1093.2 L322.6,1093.0 L323.9,1094.7 L326.0,1096.3 L327.9,1097.9 L329.4,1099.6 L331.1,1100.9 L333.0,1100.7 L335.0,1101.2 L336.6,1103.5 L339.2,1103.3 L340.8,1104.6 L343.1,1106.0 L344.6,1106.5 L346.9,1107.9 L348.7,1109.7 L350.7,1110.7 L352.5,1111.6 L355.0,1111.8 L356.5,1114.2 L358.6,1114.9 L360.6,1113.7 L362.5,1116.0 L364.3,1117.9 L366.1,1118.0 L368.4,1119.9 L370.2,1120.2 L372.3,1123.0 L374.4,1122.2 L376.4,1122.9 L378.0,1124.7 L379.9,1125.3 L381.9,1126.7 L383.8,1127.6 L385.8,1128.5 L387.3,1131.1 L389.6,1131.4 L391.3,1132.4 L393.7,1131.8 L395.5,1134.5 L397.5,1132.8 L400.0,1134.7 L402.1,1135.6 L404.2,1135.1 L405.9,1138.2 L408.2,1137.4 L410.5,1138.3 L412.3,1139.6 L414.3,1140.9 L416.4,1141.5 L418.5,1141.3 L420.7,1142.7 L422.8,1143.3 L424.5,1144.7 L426.3,1145.6 L429.0,1145.5 L430.6,1146.3 L433.0,1147.3 L434.9,1147.1 L437.6,1147.7 L439.3,1148.8 L441.6,1148.4 L444.1,1148.8 L446.2,1148.5 L448.0,1149.0 L450.1,1149.6 L452.8,1150.6 L455.1,1149.4 L457.1,1150.5 L459.2,1151.5 L461.1,1152.2 L463.8,1152.3 L465.3,1152.3 L468.0,1153.7 L469.8,1153.8 L471.9,1154.5 L474.2,1154.1 L476.2,1155.2 L478.5,1155.4 L480.9,1155.7 L483.0,1155.5 L485.1,1155.9 L487.2,1155.9 L489.5,1158.4 L491.9,1157.4 L493.3,1159.6 L496.0,1157.3 L498.1,1158.8 L500.5,1160.3 L501.9,1158.8 L504.6,1159.2 L506.8,1160.7 L508.6,1161.2 L511.2,1161.2 L513.2,1160.9 L515.5,1161.7 L517.8,1163.6 L519.6,1163.3 L522.0,1162.9 L524.2,1163.0 L526.6,1163.4 L528.7,1164.2 L530.7,1164.2 L533.1,1163.6 L535.2,1164.0 L537.4,1164.6 L539.6,1165.2 L541.8,1164.6 L544.0,1165.4 L545.9,1166.3 L548.3,1166.7 L550.5,1166.3 L552.5,1167.0 L554.8,1167.8 L556.9,1167.9 L559.0,1168.7 L561.3,1169.0 L563.3,1169.8 L565.5,1169.4 L567.7,1170.3 L569.9,1171.2 L572.1,1170.9 L574.3,1171.9 L576.4,1171.9 L578.4,1172.4 L580.7,1173.3 L582.8,1173.6 L584.9,1174.0 L587.1,1173.8 L589.3,1174.7 L591.7,1175.1 L593.5,1175.7 L595.8,1176.2 L598.1,1175.6 L600.4,1176.5 L602.5,1177.1 L604.7,1177.5 L606.8,1177.6 L609.0,1177.9 L611.1,1178.4 L613.3,1178.8 L615.4,1179.5 L617.6,1179.1 L619.8,1179.7 L622.0,1179.7 L624.2,1180.8 L626.3,1180.3 L628.7,1180.9 L630.7,1181.6 L633.1,1181.1 L635.1,1181.4 L637.5,1182.2 L639.6,1182.1 L641.4,1183.0 L643.8,1182.5 L646.0,1182.6 L648.4,1182.9 L650.5,1183.4 L652.7,1183.0 L654.9,1183.9 L657.0,1184.2 L659.3,1183.8 L661.3,1184.4 L663.6,1184.6 L666.0,1185.4 L668.0,1185.2 L670.1,1185.3 L672.5,1185.3 L674.7,1185.9 L676.7,1186.0 L679.0,1185.4 L681.3,1186.2 L683.3,1186.5 L685.7,1186.4 L687.7,1186.7 L690.1,1186.8 L692.3,1186.3 L694.6,1186.7 L696.7,1187.1 L699.0,1187.1 L701.1,1187.1 L703.3,1187.2 L705.5,1187.3 L707.7,1187.3 L710.0,1187.7 L712.1,1187.8 L714.3,1187.8 L716.5,1188.2 L718.6,1188.1 L720.9,1188.1 L723.2,1188.3 L725.2,1188.4 L727.6,1188.7 L729.7,1188.7 L731.9,1189.0 L734.2,1189.0 L736.5,1189.4 L738.6,1189.3 L740.7,1189.3 L743.0,1189.1 L745.0,1189.6 L747.4,1189.9 L749.6,1189.9 L751.7,1190.0 L754.0,1190.2 L756.2,1190.2 L758.4,1190.4 L760.5,1190.3 L762.9,1190.6 L765.0,1190.6 L767.2,1191.0 L769.4,1191.2 L771.6,1191.3 L773.9,1191.1 L776.0,1191.3 L778.1,1191.5 L780.4,1191.5 L782.5,1191.5 L784.8,1191.9 L787.1,1191.9 L789.2,1191.9 L791.4,1192.3 L793.6,1192.3 L795.9,1192.3 L798.1,1192.5 L800.2,1192.9 L802.4,1193.0 L804.6,1193.1 L806.9,1193.1 L809.0,1193.2 L811.2,1193.3 L813.4,1193.5 L815.7,1193.5 L817.9,1193.9 L820.1,1193.7 L822.3,1194.1 L824.5,1193.6 L826.7,1194.0 L828.9,1194.1 L831.1,1194.3 L833.3,1194.4 L835.5,1194.2 L837.8,1194.5 L839.9,1194.6 L842.2,1194.5 L844.4,1194.7 L846.5,1194.4 L848.8,1194.6 L850.9,1194.9 L853.1,1194.8 L855.3,1195.0 L857.5,1194.9 L859.8,1195.1 L862.0,1195.0 L864.2,1195.0 L866.4,1195.1 L868.6,1195.5 L870.8,1195.3 L873.0,1195.6 L875.2,1195.3 L877.4,1195.5 L879.6,1195.8 L881.8,1195.7 L884.0,1195.8 L886.1,1195.5 L888.4,1196.4 L890.7,1196.1 L892.9,1195.9 L895.1,1196.1 L897.3,1196.1 L899.5,1196.3 L901.6,1196.2 L904.0,1196.4 L906.1,1196.5 L908.4,1196.4 L910.6,1196.6 L912.8,1196.5 L914.9,1196.5 L917.2,1196.6 L919.3,1196.6 L921.6,1196.7 L923.8,1196.7 L926.0,1196.7 L928.2,1197.0 L930.4,1196.9 L932.6,1197.0 L934.8,1197.1 L936.9,1197.0 L939.1,1197.1 L941.5,1197.0 L943.7,1197.0 L945.8,1197.3 L948.0,1197.3 L950.1,1197.2 L952.4,1197.1 L954.7,1197.3 L956.8,1197.4 L959.0,1197.3 L961.3,1197.4 L963.5,1197.5 L965.7,1197.2 L967.9,1197.8 L969.8,1197.6 L971.3,1197.3" stroke="#0ab41e" stroke-width="5.6"/>
<path d="M178.9,973.3 L179.7,976.2 L180.1,976.4 L180.7,978.4 L181.9,980.1 L183.8,981.5 L185.0,983.1 L186.2,983.7 L187.9,983.7 L189.4,983.7 L190.9,985.1 L191.8,985.9 L193.5,987.6 L194.3,988.2 L195.8,989.8 L197.6,992.9 L198.6,994.0 L199.7,995.8 L201.1,998.4 L202.4,998.1 L204.3,999.8 L206.1,1000.1 L207.4,1001.2 L208.9,1002.9 L210.7,1005.9 L212.1,1006.4 L213.6,1007.3 L215.7,1009.8 L217.1,1011.5 L219.2,1013.0 L221.0,1014.9 L222.6,1015.1 L224.8,1015.0 L226.2,1016.9 L228.1,1019.0 L230.2,1019.3 L231.9,1021.6 L233.5,1023.3 L234.7,1022.7 L236.4,1025.4 L238.2,1027.5 L240.0,1028.6 L241.8,1029.6 L243.8,1030.6 L245.6,1033.3 L247.4,1033.0 L249.3,1033.2 L251.2,1035.2 L253.0,1036.8 L254.6,1038.2 L256.8,1039.1 L258.3,1040.6 L259.9,1041.7 L261.9,1043.8 L263.3,1043.7 L265.3,1045.7 L267.1,1046.0 L269.3,1047.4 L270.7,1049.7 L272.8,1050.3 L274.9,1052.3 L276.8,1052.7 L278.7,1054.2 L280.2,1056.0 L281.5,1056.4 L282.7,1057.0 L283.8,1059.4 L284.8,1061.4 L286.9,1063.6 L288.5,1064.4 L289.8,1066.9 L292.1,1068.2 L293.6,1068.6 L295.6,1070.5 L297.5,1071.6 L299.5,1073.9 L301.0,1075.1 L303.1,1074.5 L305.0,1078.1 L306.7,1076.5 L308.6,1078.2 L310.3,1080.0 L312.5,1081.5 L314.2,1083.0 L316.1,1083.6 L318.0,1083.5 L320.2,1083.9 L321.7,1086.5 L324.0,1089.1 L325.3,1087.9 L327.9,1089.4 L330.1,1089.6 L331.9,1091.9 L333.8,1090.6 L335.8,1094.3 L337.7,1094.0 L339.6,1096.0 L341.3,1097.8 L343.5,1096.0 L345.6,1097.7 L347.7,1098.2 L349.6,1100.6 L351.8,1101.8 L353.1,1102.5 L355.2,1103.7 L357.4,1103.8 L359.3,1104.0 L361.6,1105.2 L364.0,1106.7 L365.7,1107.5 L367.7,1108.2 L369.8,1110.0 L371.7,1108.7 L373.9,1110.3 L375.9,1112.0 L377.9,1112.6 L380.0,1114.1 L382.3,1113.8 L383.9,1115.3 L386.1,1115.4 L388.0,1116.2 L390.3,1118.6 L391.7,1119.2 L393.8,1118.6 L395.6,1120.7 L398.0,1121.8 L400.2,1123.0 L401.9,1123.6 L403.9,1124.3 L406.0,1123.4 L408.1,1126.3 L410.1,1126.2 L412.6,1127.4 L414.8,1127.9 L416.7,1128.9 L418.6,1130.4 L420.7,1129.5 L422.9,1130.5 L425.0,1131.2 L427.0,1132.8 L429.3,1133.1 L430.9,1132.0 L433.6,1133.0 L435.4,1134.2 L437.5,1135.5 L439.4,1135.5 L441.6,1136.2 L443.8,1135.6 L445.8,1137.3 L447.6,1137.8 L450.5,1139.6 L452.3,1139.8 L454.4,1140.4 L456.6,1141.1 L458.8,1142.1 L460.8,1142.5 L463.0,1143.4 L464.6,1143.3 L467.1,1144.4 L469.3,1146.2 L471.3,1145.8 L473.3,1146.4 L475.2,1147.3 L477.5,1146.6 L479.9,1147.6 L481.9,1149.8 L483.5,1149.2 L486.2,1149.3 L488.1,1150.2 L490.4,1150.7 L492.8,1151.2 L494.6,1151.9 L497.1,1151.7 L499.0,1152.5 L501.3,1153.6 L503.1,1152.6 L505.1,1154.2 L507.2,1154.9 L509.4,1154.2 L512.2,1156.8 L514.3,1156.5 L516.1,1158.1 L518.2,1156.8 L520.5,1157.9 L522.5,1158.3 L524.7,1159.2 L527.0,1159.7 L529.0,1159.7 L531.4,1159.8 L533.5,1160.5 L535.6,1161.1 L537.7,1161.4 L540.2,1161.3 L542.0,1162.2 L544.4,1162.7 L546.5,1163.1 L548.6,1163.5 L550.9,1164.3 L552.9,1164.1 L555.2,1164.6 L557.2,1165.7 L559.3,1166.1 L561.4,1166.3 L563.5,1166.7 L565.7,1167.1 L568.1,1168.3 L570.0,1168.6 L572.2,1168.7 L574.4,1169.9 L576.8,1169.9 L578.8,1170.1 L581.0,1170.9 L583.1,1171.0 L585.3,1171.4 L587.5,1172.3 L589.5,1172.4 L591.7,1173.2 L594.2,1173.4 L596.0,1173.5 L598.2,1174.5 L600.3,1175.2 L602.5,1174.9 L604.8,1175.6 L606.8,1175.7 L609.0,1176.5 L611.1,1176.7 L613.4,1177.2 L615.6,1177.0 L617.8,1177.4 L620.1,1178.3 L622.1,1178.4 L624.3,1178.3 L626.5,1179.6 L628.6,1179.8 L631.0,1180.0 L633.3,1180.2 L635.2,1180.4 L637.4,1180.3 L639.8,1180.9 L642.0,1181.0 L643.9,1181.8 L646.2,1181.4 L648.2,1182.3 L650.5,1182.2 L652.8,1182.8 L655.0,1182.3 L657.2,1182.3 L659.4,1183.0 L661.7,1183.2 L663.8,1183.7 L665.9,1184.0 L668.3,1183.7 L670.3,1184.6 L672.5,1184.6 L674.7,1184.5 L676.8,1184.8 L679.1,1184.7 L681.2,1185.4 L683.6,1185.6 L685.6,1185.4 L687.9,1185.8 L690.3,1185.7 L692.3,1185.7 L694.4,1185.8 L696.7,1185.7 L699.0,1186.0 L701.1,1186.7 L703.3,1186.8 L705.5,1186.7 L707.7,1186.8 L710.0,1187.0 L712.1,1187.1 L714.3,1186.9 L716.5,1187.0 L718.8,1187.6 L720.9,1187.6 L723.2,1187.5 L725.4,1187.9 L727.6,1187.7 L729.7,1187.8 L732.0,1188.4 L734.2,1188.3 L736.3,1188.1 L738.5,1188.6 L740.8,1188.6 L743.1,1188.7 L745.2,1188.9 L747.3,1189.1 L749.6,1189.0 L751.8,1189.3 L754.0,1189.5 L756.1,1189.5 L758.4,1189.8 L760.6,1189.9 L762.8,1190.1 L764.9,1190.3 L767.2,1190.1 L769.5,1190.5 L771.7,1190.5 L773.8,1190.5 L776.1,1190.6 L778.3,1190.8 L780.5,1191.1 L782.7,1191.0 L784.9,1191.3 L787.1,1191.2 L789.2,1191.7 L791.5,1191.6 L793.6,1191.7 L795.9,1191.9 L798.1,1192.2 L800.3,1192.3 L802.5,1192.2 L804.6,1192.6 L806.9,1192.7 L809.0,1192.7 L811.3,1192.9 L813.5,1193.1 L815.7,1193.1 L817.9,1193.3 L820.1,1193.4 L822.3,1193.5 L824.5,1193.8 L826.7,1193.7 L828.9,1193.7 L831.1,1193.8 L833.3,1194.1 L835.6,1193.9 L837.7,1193.8 L840.0,1193.9 L842.1,1194.3 L844.4,1194.5 L846.5,1194.1 L848.8,1194.4 L851.0,1194.6 L853.2,1194.7 L855.3,1194.2 L857.6,1194.7 L859.9,1194.9 L862.0,1194.6 L864.2,1195.5 L866.5,1194.9 L868.7,1195.3 L870.8,1195.2 L873.0,1195.3 L875.2,1195.7 L877.4,1195.3 L879.6,1195.5 L881.8,1195.6 L884.1,1195.7 L886.2,1195.8 L888.4,1195.9 L890.6,1195.8 L892.9,1195.9 L895.1,1195.7 L897.2,1196.3 L899.5,1196.2 L901.7,1196.0 L903.8,1196.5 L906.1,1196.5 L908.3,1196.0 L910.5,1196.5 L912.7,1196.3 L915.0,1196.3 L917.1,1196.2 L919.3,1196.6 L921.6,1196.3 L923.8,1196.8 L925.9,1196.6 L928.2,1196.9 L930.4,1196.6 L932.7,1196.8 L934.7,1196.9 L937.0,1197.1 L939.2,1197.0 L941.4,1196.9 L943.6,1196.9 L945.8,1196.9 L948.1,1196.9 L950.3,1197.1 L952.5,1197.2 L954.7,1197.4 L956.8,1197.0 L959.0,1197.1 L961.3,1197.3 L963.5,1197.3 L965.6,1197.3 L967.8,1197.7 L969.8,1197.5 L971.4,1197.4" stroke="#6ed20a" stroke-width="5.6"/>
<path d="M183.1,948.1 L183.6,949.2 L184.0,951.0 L184.6,953.3 L184.9,955.3 L185.4,957.7 L185.9,960.7 L186.7,962.4 L187.9,964.1 L189.0,964.7 L190.5,966.4 L191.4,969.4 L192.9,971.1 L193.7,972.4 L194.9,975.2 L195.4,976.3 L196.4,980.2 L197.3,980.4 L198.9,983.1 L200.4,984.3 L201.7,986.3 L203.2,988.6 L204.6,990.4 L206.2,991.9 L207.4,993.4 L208.5,993.9 L209.8,996.9 L211.6,997.2 L213.2,999.7 L214.8,1000.8 L216.2,1003.9 L218.1,1005.3 L219.6,1004.7 L221.0,1006.7 L222.3,1008.3 L223.8,1010.5 L225.2,1012.5 L226.9,1014.3 L228.4,1014.4 L230.0,1017.1 L231.7,1019.1 L233.7,1019.7 L235.1,1021.8 L236.4,1023.0 L238.1,1024.9 L239.1,1025.7 L241.0,1027.9 L242.0,1029.7 L243.6,1031.1 L244.4,1033.5 L245.8,1034.6 L247.0,1036.9 L247.7,1038.3 L249.3,1039.7 L251.2,1038.6 L253.0,1040.9 L254.3,1040.7 L255.9,1041.3 L257.4,1043.6 L258.6,1046.7 L259.8,1047.3 L260.5,1049.2 L262.0,1051.1 L262.8,1052.8 L264.1,1053.6 L265.9,1052.9 L267.7,1052.3 L269.1,1051.7 L270.2,1052.9 L272.1,1054.1 L273.2,1055.9 L274.4,1057.3 L276.0,1059.2 L277.1,1062.3 L278.7,1063.2 L280.2,1064.6 L281.0,1065.1 L282.5,1065.7 L284.2,1065.3 L285.3,1065.3 L287.1,1068.0 L287.3,1069.8 L288.7,1072.2 L290.1,1072.3 L291.1,1075.3 L293.2,1076.6 L294.4,1078.9 L296.1,1078.7 L297.2,1081.0 L298.7,1082.1 L300.0,1083.6 L302.0,1084.0 L304.6,1084.1 L306.0,1083.9 L307.4,1084.7 L308.5,1086.2 L310.3,1087.0 L311.6,1089.2 L312.6,1091.6 L314.8,1091.5 L316.1,1092.8 L317.8,1095.5 L320.0,1095.5 L321.9,1096.4 L324.1,1098.1 L325.4,1099.2 L327.5,1101.0 L329.1,1100.5 L331.1,1102.1 L333.2,1103.2 L335.2,1104.7 L337.5,1106.3 L339.0,1106.1 L341.0,1108.9 L343.1,1109.5 L344.4,1109.4 L346.3,1113.3 L348.4,1113.9 L350.4,1113.6 L352.3,1115.3 L354.1,1114.7 L356.4,1117.9 L358.2,1117.8 L360.4,1118.3 L362.0,1120.1 L364.1,1120.2 L366.0,1121.6 L368.2,1123.0 L370.2,1124.6 L372.1,1124.7 L374.3,1125.0 L376.8,1126.5 L378.5,1126.1 L380.7,1126.7 L382.8,1128.3 L385.1,1128.2 L387.1,1128.8 L388.5,1130.8 L391.1,1130.9 L392.8,1132.5 L394.9,1133.1 L397.2,1133.7 L399.2,1135.7 L400.8,1135.8 L403.0,1137.3 L405.4,1137.0 L406.8,1138.3 L409.4,1138.8 L411.4,1138.7 L413.6,1139.6 L415.6,1140.2 L417.7,1140.2 L420.3,1141.4 L422.2,1141.7 L424.6,1141.9 L426.4,1143.0 L428.4,1144.0 L430.4,1143.6 L432.9,1144.5 L434.9,1144.3 L437.1,1145.1 L439.0,1146.0 L441.5,1146.6 L443.8,1147.5 L445.7,1148.8 L447.5,1150.7 L449.7,1150.0 L452.2,1150.4 L453.9,1150.3 L456.3,1152.2 L458.0,1150.0 L460.4,1151.2 L462.2,1152.4 L464.9,1153.6 L466.6,1155.3 L469.2,1154.5 L471.1,1154.6 L473.5,1152.7 L475.8,1156.4 L477.6,1155.6 L480.0,1155.8 L482.3,1156.7 L484.3,1158.1 L486.4,1156.8 L488.7,1157.2 L491.1,1158.1 L493.2,1158.5 L495.4,1160.3 L497.5,1159.3 L499.8,1159.2 L501.5,1160.5 L504.0,1159.7 L506.0,1160.8 L508.4,1161.7 L510.3,1162.0 L512.7,1162.3 L514.8,1162.7 L517.1,1161.4 L519.6,1161.5 L521.6,1163.4 L523.6,1163.1 L525.8,1164.2 L528.0,1164.2 L530.1,1164.5 L532.4,1165.0 L534.5,1165.0 L536.9,1165.5 L539.2,1165.7 L541.1,1166.0 L543.2,1166.4 L545.3,1166.2 L547.6,1166.8 L549.9,1167.6 L552.0,1167.8 L554.1,1168.4 L556.3,1169.3 L558.4,1169.3 L560.7,1169.2 L562.7,1170.4 L564.9,1170.4 L567.1,1171.5 L569.2,1171.6 L571.4,1171.6 L573.5,1172.1 L575.6,1172.8 L577.9,1173.2 L580.0,1173.0 L582.4,1173.5 L584.3,1174.2 L586.7,1174.8 L588.9,1175.1 L591.0,1175.2 L593.2,1175.4 L595.3,1176.7 L597.5,1176.6 L599.7,1176.7 L601.9,1177.4 L604.0,1177.3 L606.3,1178.1 L608.3,1178.7 L610.7,1178.7 L612.8,1179.2 L615.0,1179.5 L617.2,1180.0 L619.3,1179.8 L621.8,1180.4 L623.7,1180.5 L626.0,1181.4 L628.1,1181.5 L630.3,1181.3 L632.4,1182.3 L634.9,1182.1 L636.9,1182.1 L639.1,1182.5 L641.2,1183.0 L643.3,1182.8 L645.6,1183.3 L647.8,1184.0 L650.0,1183.6 L652.3,1184.0 L654.4,1184.2 L656.6,1184.6 L658.8,1184.7 L661.1,1185.2 L663.2,1185.1 L665.3,1185.3 L667.7,1185.6 L669.8,1185.5 L672.0,1185.5 L674.1,1185.0 L676.6,1185.9 L678.6,1186.2 L680.8,1186.1 L683.1,1185.9 L685.2,1186.5 L687.5,1186.4 L689.7,1187.3 L692.0,1187.1 L693.9,1186.8 L696.2,1187.4 L698.5,1187.4 L700.6,1187.2 L703.0,1187.6 L705.1,1187.6 L707.4,1187.8 L709.6,1188.3 L711.7,1188.3 L714.0,1188.1 L716.2,1188.6 L718.3,1188.4 L720.6,1188.5 L722.7,1188.8 L724.9,1188.6 L727.2,1189.0 L729.4,1189.0 L731.6,1189.4 L733.9,1189.2 L736.0,1189.4 L738.2,1189.4 L740.5,1189.5 L742.7,1189.7 L744.9,1189.8 L747.1,1190.0 L749.2,1190.0 L751.5,1190.2 L753.6,1190.0 L756.0,1190.4 L758.1,1190.4 L760.3,1190.6 L762.6,1190.9 L764.7,1191.1 L766.9,1190.8 L769.2,1191.2 L771.3,1191.1 L773.6,1191.5 L775.7,1191.3 L778.0,1191.3 L780.1,1191.5 L782.4,1192.0 L784.6,1192.0 L786.8,1192.3 L789.0,1192.1 L791.1,1192.4 L793.4,1192.6 L795.5,1192.4 L797.8,1192.7 L800.0,1193.0 L802.2,1192.9 L804.4,1193.3 L806.7,1193.2 L808.9,1193.3 L811.0,1193.5 L813.2,1193.5 L815.4,1193.6 L817.6,1193.4 L819.8,1193.8 L822.1,1194.2 L824.3,1194.1 L826.5,1194.0 L828.7,1194.0 L830.9,1194.4 L833.2,1194.2 L835.3,1194.3 L837.5,1194.5 L839.8,1194.5 L842.0,1194.5 L844.2,1194.7 L846.3,1194.8 L848.6,1194.6 L850.8,1195.0 L853.0,1195.1 L855.2,1195.1 L857.5,1194.9 L859.7,1195.2 L861.9,1195.3 L864.0,1195.1 L866.3,1195.1 L868.5,1195.3 L870.7,1195.5 L872.9,1195.5 L875.1,1195.5 L877.3,1195.5 L879.5,1195.5 L881.7,1195.8 L883.9,1196.0 L886.1,1195.8 L888.3,1196.2 L890.5,1196.4 L892.8,1196.2 L895.0,1196.4 L897.2,1196.3 L899.4,1196.2 L901.6,1196.3 L903.8,1196.4 L906.1,1196.4 L908.2,1196.4 L910.5,1196.3 L912.8,1196.5 L914.8,1196.5 L917.1,1196.8 L919.3,1196.8 L921.4,1197.1 L923.7,1196.5 L925.9,1196.8 L928.1,1196.8 L930.4,1196.9 L932.5,1196.7 L934.7,1196.7 L937.0,1196.9 L939.2,1197.4 L941.4,1197.2 L943.6,1197.1 L945.8,1197.1 L948.0,1197.2 L950.1,1197.3 L952.5,1197.1 L954.6,1197.4 L956.9,1197.2 L959.0,1197.3 L961.3,1197.6 L963.5,1197.6 L965.6,1197.4 L967.9,1197.3 L969.8,1197.7 L971.3,1197.7" stroke="#aac814" stroke-width="5.6"/>
<path d="M170.3,1056.6 L170.4,1054.7 L171.3,1054.3 L171.8,1049.0 L173.4,1051.7 L174.7,1055.7 L173.8,1057.8 L175.8,1055.9 L176.2,1060.0 L177.6,1061.1 L176.9,1061.7 L178.1,1060.3 L178.8,1059.4 L180.4,1059.1 L182.8,1058.9 L181.8,1062.6 L183.8,1063.1 L185.1,1066.7 L185.9,1065.8 L187.7,1064.0 L188.7,1062.2 L189.3,1056.4 L190.4,1064.7 L191.6,1066.2 L191.8,1064.8 L191.7,1066.5 L192.4,1068.0 L193.7,1072.5 L194.3,1071.4 L194.8,1068.8 L194.9,1072.2 L197.1,1072.9 L198.0,1077.2 L198.4,1079.3 L200.1,1073.3 L200.7,1070.9 L202.2,1073.8 L202.3,1069.7 L203.7,1073.5 L205.4,1071.8 L205.9,1074.4 L206.9,1076.8 L207.9,1076.2 L209.2,1081.2 L211.7,1080.6 L211.9,1081.6 L213.4,1082.3 L213.3,1085.0 L215.5,1085.6 L216.2,1086.5 L218.7,1085.0 L219.5,1078.7 L220.1,1081.8 L221.6,1082.2 L222.4,1083.9 L224.0,1085.9 L224.0,1084.1 L224.4,1088.6 L225.3,1084.6 L226.8,1087.0 L228.6,1087.9 L228.7,1089.7 L228.2,1090.1 L231.0,1089.2 L232.6,1091.5 L232.2,1088.3 L233.7,1095.1 L234.6,1093.2 L235.7,1094.8 L237.6,1091.2 L238.2,1094.0 L239.7,1093.0 L240.9,1091.5 L242.2,1092.0 L243.8,1091.2 L246.2,1092.3 L248.0,1093.0 L248.8,1094.6 L249.6,1095.3 L251.3,1095.5 L254.0,1095.2 L254.8,1097.2 L256.3,1095.6 L257.1,1096.2 L258.8,1093.3 L260.0,1094.9 L261.7,1091.6 L262.3,1093.0 L264.5,1090.1 L266.0,1089.2 L267.3,1093.6 L269.6,1092.3 L270.2,1091.6 L271.5,1092.4 L273.0,1092.9 L274.5,1093.5 L275.0,1095.2 L277.3,1098.0 L278.4,1096.6 L280.6,1099.5 L281.6,1098.4 L282.8,1101.3 L283.8,1100.8 L286.1,1100.7 L286.8,1101.5 L289.3,1100.3 L290.3,1103.1 L291.8,1104.4 L292.9,1101.4 L294.2,1102.1 L295.7,1106.6 L298.0,1107.1 L299.0,1105.6 L299.9,1109.1 L302.5,1108.9 L303.3,1106.9 L305.8,1110.1 L306.3,1110.9 L308.5,1109.9 L309.9,1111.6 L311.2,1111.9 L312.6,1111.4 L313.7,1114.8 L315.9,1113.1 L316.9,1111.7 L317.6,1114.6 L319.9,1117.5 L321.4,1114.8 L323.2,1116.8 L324.0,1120.2 L325.4,1118.3 L326.8,1117.4 L328.5,1117.4 L329.9,1119.3 L331.2,1121.2 L332.9,1121.3 L334.3,1122.3 L336.0,1123.8 L337.5,1123.2 L338.4,1123.7 L340.3,1124.6 L341.5,1125.4 L343.0,1124.9 L344.6,1125.8 L346.1,1127.2 L347.8,1128.2 L348.8,1129.7 L350.4,1127.8 L352.6,1129.9 L353.7,1130.0 L354.8,1130.3 L357.0,1130.2 L358.3,1129.1 L359.8,1131.3 L361.2,1132.9 L363.0,1131.5 L364.5,1132.5 L366.3,1132.0 L367.9,1133.9 L369.3,1134.0 L371.0,1134.3 L372.6,1134.0 L374.0,1134.6 L375.6,1135.9 L377.0,1135.5 L378.4,1135.7 L379.6,1136.0 L381.5,1134.2 L383.4,1138.0 L384.8,1136.6 L386.4,1137.7 L388.2,1136.0 L389.6,1138.8 L390.9,1138.4 L392.2,1139.3 L394.0,1140.1 L394.7,1140.2 L396.8,1142.5 L397.8,1143.7 L399.7,1142.5 L401.3,1143.4 L402.5,1143.9 L403.4,1145.0 L406.0,1143.0 L406.8,1144.4 L409.3,1145.3 L410.7,1144.2 L412.3,1144.6 L413.3,1146.3 L415.3,1145.7 L416.5,1144.9 L418.0,1146.1 L419.8,1147.3 L421.4,1147.0 L423.0,1147.2 L424.4,1147.1 L426.2,1147.0 L427.9,1148.0 L429.0,1149.1 L430.9,1149.3 L432.4,1148.7 L433.8,1151.4 L435.2,1150.7 L436.8,1151.6 L438.4,1151.9 L439.9,1152.8 L441.2,1152.1 L443.2,1154.2 L444.4,1154.3 L446.1,1153.6 L447.4,1152.3 L449.2,1154.5 L450.4,1155.8 L452.2,1155.7 L453.9,1155.4 L455.3,1157.0 L456.8,1156.3 L458.4,1158.3 L459.7,1157.0 L462.3,1158.6 L463.0,1157.9 L464.6,1157.0 L466.0,1158.0 L468.2,1158.3 L469.7,1159.6 L471.3,1157.9 L472.5,1160.1 L474.6,1159.7 L476.0,1159.2 L477.8,1160.5 L479.0,1160.0 L480.4,1161.2 L482.3,1160.9 L483.4,1160.9 L485.6,1160.6 L486.7,1162.4 L488.7,1162.1 L490.6,1162.1 L491.3,1162.0 L493.2,1163.1 L494.5,1162.3 L496.3,1162.3 L497.7,1162.9 L499.4,1162.8 L501.1,1164.9 L502.8,1164.4 L504.6,1164.3 L506.1,1164.8 L507.4,1165.0 L508.8,1166.2 L510.7,1166.2 L512.6,1166.5 L514.0,1167.2 L515.5,1165.9 L516.8,1165.6 L518.7,1165.6 L520.2,1166.5 L521.8,1166.8 L523.4,1167.4 L525.0,1167.1 L526.7,1167.5 L528.2,1167.5 L530.0,1167.4 L531.5,1168.3 L532.8,1168.4 L534.6,1167.8 L536.2,1168.3 L537.8,1168.9 L539.5,1168.6 L540.9,1169.2 L542.6,1169.0 L544.0,1170.1 L545.8,1169.5 L547.2,1170.1 L548.7,1170.2 L550.4,1170.3 L551.9,1171.0 L553.5,1171.5 L555.2,1171.4 L556.9,1171.4 L558.3,1172.0 L559.9,1172.4 L561.5,1172.5 L563.2,1172.8 L564.5,1173.0 L566.3,1173.4 L567.8,1173.5 L569.3,1174.1 L571.0,1174.0 L572.5,1174.5 L574.2,1174.5 L575.8,1175.3 L577.1,1175.6 L578.9,1176.1 L580.5,1175.8 L581.9,1176.1 L583.5,1176.3 L585.2,1176.6 L586.8,1177.0 L588.3,1177.1 L589.9,1177.8 L591.4,1178.3 L593.1,1178.3 L594.5,1178.3 L596.2,1179.1 L597.8,1178.9 L599.2,1179.1 L601.0,1179.7 L602.6,1180.0 L604.4,1179.5 L605.7,1179.5 L607.5,1180.5 L608.9,1180.1 L610.5,1180.8 L612.0,1181.2 L613.7,1181.3 L615.4,1181.5 L617.0,1181.5 L618.3,1181.7 L620.0,1181.9 L621.8,1182.3 L623.3,1182.2 L624.8,1182.7 L626.4,1182.5 L628.1,1183.0 L629.7,1183.4 L631.3,1183.0 L632.8,1183.6 L634.3,1183.5 L636.1,1183.6 L637.5,1183.6 L639.2,1183.7 L640.7,1184.0 L642.4,1184.2 L644.0,1184.2 L645.7,1184.6 L647.2,1184.5 L649.0,1184.9 L650.3,1185.4 L651.8,1184.7 L653.6,1185.7 L655.2,1185.3 L656.9,1185.6 L658.3,1186.1 L660.0,1186.2 L661.5,1186.2 L663.2,1185.6 L664.8,1186.3 L666.3,1186.6 L667.9,1186.3 L669.7,1186.7 L671.1,1187.3 L672.7,1186.8 L674.3,1187.0 L675.8,1186.7 L677.4,1186.8 L679.1,1187.6 L680.8,1187.0 L682.3,1187.5 L684.0,1187.2 L685.5,1187.4 L687.1,1187.5 L688.8,1187.9 L690.4,1187.3 L692.0,1188.3 L693.6,1188.4 L695.1,1187.8 L696.7,1187.7 L698.2,1187.6 L699.9,1188.7 L701.5,1188.4 L703.2,1188.3 L704.7,1188.7 L706.4,1188.7 L708.0,1188.8 L709.5,1188.9 L711.2,1188.9 L712.8,1188.8 L714.4,1188.9 L715.9,1189.2 L717.6,1189.0 L719.2,1189.0 L720.7,1189.1 L722.3,1189.4 L724.0,1189.5 L725.5,1189.7 L727.2,1189.4 L728.7,1189.9 L730.4,1189.8 L732.0,1190.2 L733.5,1190.0 L735.2,1190.1 L736.8,1190.1 L738.3,1190.2 L740.1,1190.2 L741.6,1190.2 L743.2,1190.5 L744.8,1190.7 L746.4,1190.5 L748.0,1190.5 L749.5,1190.7 L751.2,1190.8 L752.9,1190.9 L754.4,1190.9 L756.0,1191.0 L757.7,1191.4 L759.2,1191.3 L760.8,1191.4 L762.4,1191.4 L764.0,1191.6 L765.6,1191.4 L767.2,1191.5 L768.8,1191.4 L770.3,1191.7 L772.0,1192.0 L773.6,1191.7 L775.2,1191.8 L776.8,1192.2 L778.4,1191.9 L780.0,1192.3 L781.6,1192.2 L783.1,1192.3 L784.8,1192.5 L786.4,1192.6 L788.1,1192.6 L789.6,1192.7 L791.2,1192.7 L792.9,1193.2 L794.5,1192.8 L796.0,1193.0 L797.6,1193.2 L799.2,1193.3 L800.8,1193.4 L802.5,1193.5 L804.1,1193.4 L805.6,1193.6 L807.3,1193.4 L808.8,1193.8 L810.5,1193.7 L811.9,1194.1 L813.6,1194.0 L815.2,1194.0 L816.8,1194.2 L818.5,1194.3 L820.1,1194.3 L821.6,1194.3 L823.3,1194.2 L824.9,1194.3 L826.5,1194.5 L828.1,1194.5 L829.7,1194.6 L831.2,1194.9 L832.8,1194.7 L834.4,1194.6 L836.1,1194.8 L837.6,1195.0 L839.2,1194.7 L840.9,1194.7 L842.6,1195.0 L844.1,1195.0 L845.7,1194.9 L847.3,1194.9 L848.9,1195.0 L850.5,1195.1 L852.1,1195.2 L853.7,1195.1 L855.2,1195.3 L856.9,1195.3 L858.5,1195.3 L860.1,1195.4 L861.8,1195.2 L863.3,1195.7 L864.9,1195.7 L866.4,1195.8 L868.1,1195.6 L869.7,1195.6 L871.3,1195.8 L872.9,1195.6 L874.5,1195.8 L876.1,1195.8 L877.7,1196.2 L879.3,1196.1 L880.9,1195.9 L882.6,1195.9 L884.2,1195.9 L885.7,1196.2 L887.3,1196.1 L888.9,1196.1 L890.6,1196.1 L892.1,1196.5 L893.7,1196.4 L895.4,1196.6 L896.9,1196.4 L898.6,1196.7 L900.2,1196.5 L901.7,1196.5 L903.4,1196.3 L904.9,1196.7 L906.5,1196.8 L908.3,1196.6 L909.7,1196.8 L911.3,1196.8 L913.0,1196.5 L914.6,1196.5 L916.2,1196.6 L917.8,1197.0 L919.4,1196.8 L920.9,1197.0 L922.6,1196.9 L924.3,1197.0 L925.8,1196.9 L927.4,1196.9 L929.1,1197.0 L930.6,1197.0 L932.2,1196.8 L933.8,1197.2 L935.4,1197.1 L937.0,1197.0 L938.7,1197.2 L940.2,1197.3 L941.9,1197.2 L943.5,1197.3 L945.1,1197.3 L946.7,1197.2 L948.2,1197.2 L949.9,1197.3 L951.5,1197.4 L953.1,1197.2 L954.8,1197.5 L956.3,1197.3 L957.9,1197.5 L959.4,1197.3 L961.1,1197.5 L962.6,1197.5 L964.3,1197.4 L965.9,1197.8 L967.5,1197.5 L969.1,1197.8 L970.5,1197.8 L971.6,1197.5" stroke="#c8aa14" stroke-width="5.6"/>
<path d="M170.2,1067.1 L171.4,1065.9 L171.2,1066.6 L172.8,1060.9 L171.3,1063.0 L172.5,1057.2 L173.1,1058.7 L174.8,1057.9 L174.2,1060.5 L174.3,1059.4 L174.2,1059.8 L175.2,1064.7 L176.6,1065.9 L176.8,1061.7 L178.7,1063.5 L178.2,1060.7 L180.1,1061.6 L180.6,1062.2 L182.3,1060.4 L183.0,1064.1 L184.0,1063.2 L184.1,1064.0 L186.5,1064.9 L186.6,1061.4 L187.6,1061.4 L188.5,1064.0 L189.4,1065.1 L191.2,1066.5 L192.1,1065.4 L192.6,1068.4 L193.0,1070.5 L194.9,1069.7 L196.0,1064.9 L196.3,1064.3 L198.5,1068.8 L200.1,1070.9 L200.7,1068.8 L201.9,1070.0 L203.5,1067.6 L204.4,1066.5 L203.6,1066.2 L205.6,1066.6 L206.2,1066.6 L207.1,1072.1 L207.4,1071.7 L208.9,1070.1 L208.9,1071.4 L211.2,1070.7 L213.3,1074.1 L213.5,1071.4 L215.2,1073.8 L216.1,1075.5 L217.6,1074.4 L218.9,1073.4 L218.8,1069.8 L220.9,1073.7 L220.3,1073.1 L221.9,1077.2 L222.5,1075.6 L222.6,1080.1 L223.9,1078.4 L225.8,1079.2 L226.7,1077.2 L227.8,1077.6 L229.5,1078.5 L229.8,1082.1 L231.5,1080.8 L232.4,1082.5 L234.1,1085.6 L235.8,1084.9 L235.8,1083.5 L238.0,1084.3 L240.1,1081.2 L242.5,1081.3 L242.4,1085.5 L243.9,1090.5 L244.8,1089.9 L247.9,1091.6 L247.8,1088.9 L249.7,1087.6 L251.4,1091.2 L251.6,1087.8 L253.0,1085.5 L254.5,1092.0 L256.7,1093.6 L258.7,1093.2 L259.4,1094.8 L262.1,1093.2 L262.6,1093.1 L264.5,1091.9 L265.7,1093.8 L266.8,1093.3 L268.4,1095.2 L269.8,1099.1 L270.6,1097.8 L272.4,1098.9 L273.5,1098.3 L275.7,1103.2 L276.4,1097.8 L277.8,1099.8 L279.4,1102.9 L281.3,1101.4 L283.1,1102.1 L283.5,1104.6 L285.5,1105.8 L286.8,1106.8 L287.5,1105.9 L289.1,1109.1 L290.2,1107.6 L290.9,1108.8 L291.6,1109.1 L293.8,1110.7 L295.0,1109.3 L296.6,1108.1 L298.1,1109.5 L300.0,1108.7 L300.3,1110.2 L302.1,1111.5 L303.1,1112.1 L304.1,1112.5 L305.3,1113.0 L306.5,1116.8 L307.7,1113.2 L310.2,1116.6 L311.7,1115.1 L312.6,1115.1 L314.7,1113.8 L315.8,1116.6 L317.1,1116.8 L318.1,1119.7 L319.5,1118.5 L321.4,1118.7 L322.8,1119.3 L324.0,1122.7 L325.9,1122.7 L327.3,1122.0 L328.1,1125.2 L330.5,1123.8 L331.6,1124.0 L333.5,1125.3 L334.3,1124.7 L335.4,1126.4 L337.6,1126.0 L339.3,1128.0 L340.3,1128.6 L341.9,1128.6 L343.9,1130.0 L345.2,1129.0 L346.7,1130.3 L348.0,1130.1 L349.5,1129.7 L350.9,1131.7 L352.4,1133.0 L354.1,1134.7 L355.8,1132.9 L357.6,1133.7 L359.1,1135.2 L360.3,1133.5 L361.8,1136.0 L363.5,1133.9 L364.9,1134.7 L366.8,1135.9 L367.8,1136.3 L369.4,1137.9 L370.6,1136.7 L372.2,1138.0 L374.2,1138.2 L375.9,1139.0 L377.4,1139.7 L379.0,1140.2 L380.1,1140.0 L382.4,1140.3 L383.7,1140.1 L385.0,1138.9 L386.7,1138.7 L388.1,1140.6 L389.7,1139.4 L391.5,1140.3 L392.8,1141.7 L394.4,1141.9 L395.8,1142.2 L396.9,1142.7 L399.1,1144.1 L400.8,1145.7 L401.7,1143.5 L403.5,1144.9 L405.2,1146.0 L406.6,1145.7 L408.2,1145.2 L409.6,1145.9 L411.2,1146.5 L413.0,1147.2 L414.8,1145.4 L416.1,1146.3 L417.9,1147.5 L419.3,1147.9 L420.8,1148.1 L422.6,1148.6 L424.0,1149.4 L425.7,1149.5 L427.4,1151.7 L428.6,1149.6 L430.2,1150.3 L431.8,1149.9 L433.0,1152.0 L434.7,1152.0 L436.5,1152.0 L437.6,1151.5 L439.0,1154.3 L440.8,1153.4 L442.7,1154.1 L444.1,1152.8 L445.6,1154.6 L447.1,1155.3 L448.4,1156.8 L450.1,1156.4 L451.5,1157.3 L453.4,1155.7 L454.7,1157.1 L456.5,1157.7 L458.0,1157.8 L459.5,1157.9 L461.0,1158.1 L462.5,1159.6 L464.4,1158.5 L466.0,1159.7 L467.2,1159.9 L468.9,1159.3 L470.7,1159.9 L472.2,1158.1 L474.0,1159.8 L475.4,1161.4 L477.3,1160.2 L478.4,1159.3 L480.2,1162.0 L481.6,1160.4 L483.1,1162.8 L484.2,1161.9 L486.4,1161.1 L488.0,1161.8 L489.7,1163.9 L491.5,1163.0 L492.9,1163.0 L494.3,1163.5 L495.8,1163.5 L497.4,1163.3 L499.2,1164.6 L500.3,1165.5 L502.0,1164.6 L503.9,1166.0 L505.8,1165.9 L507.1,1164.0 L508.8,1166.1 L510.2,1166.8 L511.6,1164.4 L513.3,1165.8 L515.1,1166.8 L516.5,1166.0 L518.2,1166.9 L519.8,1166.9 L521.5,1167.1 L523.1,1167.6 L524.4,1167.7 L526.0,1168.0 L527.8,1168.2 L529.3,1168.1 L531.0,1168.2 L532.6,1168.4 L534.2,1168.9 L535.5,1168.6 L537.2,1169.4 L538.7,1168.9 L540.6,1170.0 L542.1,1169.6 L543.6,1169.8 L545.3,1170.0 L546.9,1170.6 L548.4,1170.8 L549.9,1170.8 L551.6,1171.4 L553.3,1171.7 L554.7,1171.9 L556.3,1172.5 L557.8,1171.7 L559.6,1172.7 L560.9,1172.8 L562.6,1173.4 L564.2,1174.1 L565.8,1173.4 L567.4,1173.9 L568.8,1174.3 L570.6,1175.0 L572.1,1175.3 L573.7,1175.0 L575.3,1175.7 L576.8,1175.7 L578.2,1176.3 L580.2,1176.3 L581.6,1176.7 L583.1,1176.8 L584.9,1176.8 L586.5,1177.0 L588.0,1177.7 L589.7,1177.6 L591.2,1177.8 L592.7,1178.2 L594.3,1178.7 L596.0,1179.0 L597.5,1178.9 L599.0,1179.3 L600.6,1179.8 L602.3,1179.6 L603.8,1180.4 L605.4,1180.3 L607.1,1180.2 L608.6,1180.9 L610.3,1180.8 L611.8,1181.5 L613.4,1181.2 L614.9,1181.9 L616.5,1182.3 L618.0,1182.0 L619.8,1182.2 L621.0,1182.1 L622.8,1182.5 L624.4,1182.9 L626.0,1183.4 L627.8,1183.4 L629.2,1183.0 L630.9,1183.8 L632.5,1183.4 L634.1,1184.3 L635.7,1184.3 L637.3,1184.3 L638.9,1183.9 L640.6,1184.6 L641.9,1184.3 L643.5,1184.5 L645.3,1184.8 L646.9,1184.5 L648.5,1185.1 L650.0,1185.3 L651.7,1185.6 L653.1,1185.3 L654.8,1185.5 L656.5,1186.2 L658.0,1186.3 L659.7,1185.6 L661.2,1186.4 L662.8,1186.6 L664.5,1186.3 L666.1,1186.9 L667.6,1186.7 L669.4,1186.7 L670.8,1186.6 L672.5,1187.4 L673.8,1186.8 L675.7,1186.2 L677.4,1186.8 L678.9,1187.1 L680.4,1187.0 L682.1,1187.9 L683.7,1187.3 L685.2,1187.5 L686.8,1187.8 L688.5,1188.0 L690.0,1187.5 L691.6,1187.5 L693.4,1187.8 L694.9,1188.3 L696.6,1188.2 L698.0,1188.5 L699.7,1188.2 L701.4,1188.7 L702.9,1188.6 L704.5,1188.7 L706.1,1188.8 L707.7,1188.9 L709.2,1188.9 L710.9,1188.8 L712.5,1189.1 L714.0,1189.1 L715.6,1189.3 L717.3,1189.3 L718.9,1189.3 L720.5,1189.5 L722.1,1189.8 L723.7,1189.7 L725.4,1189.7 L727.0,1189.8 L728.6,1190.0 L730.1,1189.8 L731.7,1190.0 L733.4,1190.0 L735.0,1189.9 L736.6,1190.3 L738.1,1190.4 L739.8,1190.3 L741.3,1190.4 L742.9,1190.6 L744.5,1190.9 L746.1,1190.7 L747.8,1191.1 L749.3,1191.0 L751.0,1190.6 L752.6,1191.0 L754.2,1191.1 L755.8,1191.1 L757.4,1191.4 L759.0,1191.4 L760.6,1191.5 L762.2,1191.4 L763.7,1191.3 L765.4,1191.7 L767.0,1191.5 L768.6,1191.9 L770.3,1191.9 L771.7,1192.4 L773.4,1192.1 L775.0,1191.8 L776.6,1192.5 L778.3,1192.3 L779.8,1192.5 L781.4,1192.6 L783.1,1192.4 L784.6,1192.4 L786.2,1192.8 L787.8,1192.6 L789.4,1192.6 L791.0,1192.8 L792.8,1193.0 L794.2,1193.2 L795.8,1193.1 L797.5,1193.1 L799.1,1193.4 L800.6,1193.4 L802.2,1193.6 L803.9,1193.4 L805.5,1193.9 L807.1,1193.6 L808.7,1194.0 L810.3,1194.0 L811.9,1193.9 L813.5,1194.0 L815.0,1194.1 L816.6,1194.3 L818.3,1194.4 L819.9,1194.4 L821.5,1194.5 L823.1,1194.4 L824.7,1194.6 L826.3,1194.7 L828.0,1194.6 L829.5,1194.5 L831.0,1194.8 L832.7,1194.6 L834.3,1194.7 L836.0,1194.7 L837.5,1194.9 L839.2,1194.9 L840.7,1194.8 L842.4,1194.9 L843.9,1194.9 L845.6,1195.2 L847.2,1195.5 L848.9,1195.4 L850.4,1195.5 L852.0,1195.5 L853.6,1195.2 L855.1,1195.3 L856.8,1195.2 L858.4,1195.6 L859.9,1195.5 L861.6,1195.4 L863.3,1195.6 L864.7,1195.6 L866.3,1195.8 L868.0,1195.7 L869.5,1195.7 L871.3,1195.8 L872.8,1195.8 L874.4,1196.0 L876.0,1195.9 L877.7,1195.9 L879.2,1196.0 L880.8,1195.9 L882.5,1196.0 L884.1,1196.2 L885.6,1196.0 L887.3,1196.4 L888.9,1196.2 L890.5,1196.3 L892.1,1196.4 L893.6,1196.4 L895.3,1196.2 L897.0,1196.2 L898.6,1196.5 L900.1,1196.4 L901.7,1196.5 L903.2,1196.7 L904.9,1196.6 L906.5,1196.6 L908.1,1196.5 L909.7,1196.7 L911.3,1197.1 L913.0,1196.6 L914.5,1196.6 L916.1,1196.7 L917.8,1197.0 L919.4,1196.8 L921.0,1196.9 L922.6,1196.9 L924.1,1196.9 L925.7,1196.8 L927.4,1196.8 L928.9,1197.0 L930.6,1197.3 L932.3,1196.8 L933.8,1197.0 L935.4,1197.1 L937.0,1197.1 L938.6,1197.2 L940.2,1197.1 L941.8,1197.3 L943.4,1197.1 L945.1,1197.0 L946.7,1197.2 L948.2,1197.4 L949.8,1197.7 L951.5,1197.3 L953.1,1197.6 L954.7,1197.2 L956.3,1197.6 L957.8,1197.7 L959.4,1197.5 L961.1,1197.6 L962.6,1197.5 L964.2,1197.5 L965.8,1197.5 L967.4,1197.7 L969.1,1197.3 L970.6,1197.9 L971.7,1197.6" stroke="#ffa50a" stroke-width="5.6"/>
<path d="M171.7,1139.4 L171.3,1138.8 L172.3,1143.2 L172.5,1143.0 L173.4,1143.8 L174.3,1144.0 L176.2,1147.0 L177.3,1145.4 L178.5,1148.4 L179.5,1147.9 L180.7,1149.0 L182.7,1148.6 L184.0,1149.0 L185.5,1148.5 L186.1,1145.5 L188.1,1147.4 L188.7,1146.6 L191.4,1146.9 L193.0,1147.7 L194.4,1144.5 L195.5,1149.1 L197.0,1145.4 L198.2,1146.8 L199.2,1147.8 L200.9,1147.8 L202.0,1146.2 L202.5,1144.7 L203.2,1144.1 L204.7,1141.9 L206.1,1143.4 L207.4,1147.0 L208.5,1141.6 L210.0,1144.9 L212.0,1145.8 L213.9,1145.8 L213.8,1147.8 L215.4,1149.1 L216.3,1149.2 L217.7,1149.1 L218.8,1147.2 L220.4,1148.2 L221.3,1146.1 L222.3,1145.3 L223.9,1149.5 L225.2,1147.0 L226.8,1147.6 L228.1,1146.0 L229.5,1148.4 L230.6,1146.1 L231.9,1146.3 L233.3,1148.3 L234.9,1148.6 L236.7,1147.7 L238.3,1149.7 L239.1,1149.9 L240.8,1149.4 L242.5,1148.5 L244.8,1150.1 L245.3,1147.4 L247.3,1149.4 L248.0,1148.8 L250.5,1147.3 L251.6,1147.7 L253.5,1152.3 L255.4,1147.0 L256.2,1149.6 L257.4,1148.9 L259.9,1149.6 L261.1,1149.3 L263.1,1150.0 L265.0,1150.0 L265.7,1149.4 L267.1,1147.9 L268.9,1149.2 L270.1,1150.1 L272.1,1150.0 L274.3,1150.7 L275.2,1149.2 L276.6,1148.1 L278.9,1149.1 L280.5,1150.3 L281.1,1151.4 L283.5,1151.8 L284.9,1151.9 L286.7,1149.8 L287.8,1151.3 L289.5,1152.9 L290.8,1153.2 L293.5,1154.2 L294.4,1152.0 L296.1,1154.3 L297.6,1150.0 L298.9,1152.4 L300.9,1152.7 L302.2,1151.9 L304.5,1153.3 L305.5,1152.2 L307.3,1152.8 L307.8,1154.0 L309.6,1152.5 L311.2,1155.8 L312.3,1153.7 L314.2,1155.7 L315.8,1155.8 L317.0,1155.4 L319.3,1156.3 L320.3,1156.5 L322.0,1155.2 L322.9,1158.0 L324.9,1153.9 L326.3,1155.1 L327.8,1156.8 L330.0,1156.4 L331.4,1157.5 L332.4,1154.7 L334.0,1156.5 L336.2,1157.0 L337.3,1158.6 L339.1,1156.2 L341.3,1157.3 L342.8,1159.9 L343.9,1158.4 L345.4,1158.9 L347.1,1158.7 L348.5,1160.5 L350.2,1157.1 L352.2,1158.6 L353.5,1159.1 L355.0,1160.0 L356.5,1160.0 L358.5,1157.4 L359.5,1160.0 L361.5,1158.6 L362.5,1162.8 L364.3,1158.8 L366.1,1160.4 L367.4,1158.5 L369.3,1159.2 L370.7,1158.8 L372.1,1161.3 L374.1,1162.2 L375.5,1159.4 L376.8,1161.8 L378.6,1162.4 L380.5,1163.4 L381.4,1161.4 L382.9,1164.0 L385.2,1160.9 L386.2,1162.7 L387.9,1161.9 L388.9,1162.1 L391.2,1163.9 L393.0,1163.4 L394.0,1166.4 L396.2,1163.0 L397.2,1162.3 L399.1,1164.8 L401.3,1163.9 L403.0,1163.2 L404.0,1165.5 L406.1,1165.9 L407.0,1162.6 L409.2,1164.1 L409.8,1166.1 L412.2,1163.9 L413.5,1167.0 L414.9,1164.9 L416.7,1165.7 L418.3,1165.5 L420.0,1164.4 L421.8,1165.3 L423.1,1165.0 L424.7,1165.3 L426.4,1166.6 L427.9,1166.4 L429.6,1165.8 L430.9,1166.4 L433.0,1167.5 L434.2,1166.4 L436.3,1166.2 L437.8,1167.2 L439.1,1166.3 L441.0,1166.0 L442.8,1168.7 L444.0,1166.5 L445.7,1167.7 L447.0,1168.2 L449.0,1167.8 L450.4,1169.8 L452.3,1170.1 L453.8,1169.1 L455.1,1167.8 L456.5,1169.6 L458.5,1168.1 L460.2,1170.2 L461.4,1170.6 L463.3,1170.5 L464.8,1171.5 L466.2,1170.8 L467.7,1170.2 L469.4,1170.8 L471.2,1172.3 L472.4,1169.8 L474.2,1172.0 L475.7,1171.0 L477.2,1174.1 L478.7,1171.1 L480.7,1170.6 L482.4,1173.4 L483.7,1173.4 L485.1,1172.2 L487.0,1172.8 L488.5,1171.9 L490.2,1173.0 L491.5,1173.9 L493.5,1173.6 L494.8,1173.4 L496.8,1173.1 L498.1,1174.7 L499.6,1175.4 L501.3,1175.2 L503.1,1173.1 L504.7,1174.5 L506.4,1173.8 L507.4,1174.3 L509.2,1175.0 L510.9,1177.1 L512.0,1175.2 L514.0,1175.1 L515.9,1174.8 L517.2,1175.8 L518.9,1174.1 L520.5,1175.8 L522.2,1175.9 L523.7,1175.5 L525.5,1176.4 L527.0,1176.7 L528.6,1175.8 L530.3,1176.4 L531.8,1176.0 L533.4,1176.0 L534.8,1176.6 L536.5,1176.5 L538.3,1176.1 L539.9,1176.1 L541.3,1176.8 L543.1,1176.5 L544.5,1176.7 L546.1,1177.2 L547.7,1177.4 L549.3,1177.9 L550.9,1178.6 L552.6,1177.8 L554.0,1178.8 L555.9,1178.1 L557.4,1178.8 L558.7,1179.3 L560.4,1179.9 L562.3,1178.9 L563.6,1180.1 L565.3,1179.8 L566.8,1180.0 L568.7,1180.4 L569.9,1181.0 L571.8,1181.4 L573.3,1180.9 L574.8,1180.8 L576.4,1180.9 L577.9,1180.7 L579.4,1181.1 L581.3,1182.1 L583.0,1181.4 L584.4,1181.7 L586.0,1182.1 L587.7,1182.2 L589.0,1182.4 L590.7,1182.5 L592.2,1182.8 L594.0,1183.7 L595.5,1183.6 L597.3,1183.6 L598.8,1183.6 L600.3,1184.0 L602.0,1184.2 L603.5,1184.1 L605.1,1184.1 L606.7,1184.7 L608.3,1184.5 L609.7,1184.7 L611.6,1185.0 L613.1,1185.2 L614.6,1185.0 L616.4,1186.0 L617.8,1185.7 L619.7,1185.7 L621.2,1186.1 L622.7,1186.5 L624.4,1186.2 L626.0,1185.5 L627.5,1186.1 L628.9,1186.6 L630.6,1186.8 L632.2,1187.3 L634.0,1187.2 L635.6,1187.1 L637.1,1187.5 L638.9,1187.2 L640.3,1187.8 L642.0,1187.1 L643.4,1188.2 L645.1,1187.8 L646.7,1188.2 L648.4,1187.9 L649.7,1187.7 L651.6,1188.2 L653.0,1188.3 L654.8,1188.5 L656.3,1188.6 L657.8,1188.8 L659.4,1188.6 L661.3,1188.3 L662.7,1188.8 L664.3,1188.6 L665.8,1189.1 L667.4,1189.1 L669.2,1189.3 L670.9,1189.2 L672.5,1189.6 L674.0,1189.7 L675.5,1189.8 L677.0,1189.7 L678.9,1189.9 L680.3,1190.0 L681.8,1189.8 L683.5,1189.2 L685.2,1189.7 L686.9,1190.5 L688.4,1189.4 L690.1,1190.1 L691.7,1190.0 L693.2,1190.7 L694.6,1190.4 L696.2,1190.2 L698.0,1190.4 L699.7,1189.9 L701.3,1190.8 L702.7,1190.7 L704.4,1190.5 L706.0,1190.6 L707.7,1190.8 L709.2,1190.7 L710.8,1190.7 L712.4,1191.1 L714.0,1191.0 L715.7,1191.1 L717.2,1191.3 L718.8,1191.0 L720.4,1191.5 L722.0,1191.4 L723.5,1191.2 L725.3,1191.2 L726.9,1191.5 L728.4,1191.6 L730.1,1191.5 L731.6,1191.6 L733.2,1191.7 L734.9,1191.7 L736.6,1191.9 L738.2,1192.1 L739.6,1192.3 L741.3,1191.9 L742.9,1192.1 L744.4,1192.1 L746.1,1192.2 L747.7,1192.2 L749.3,1192.5 L750.8,1192.5 L752.5,1192.4 L754.2,1192.7 L755.7,1192.5 L757.4,1192.7 L759.0,1192.8 L760.5,1192.7 L762.2,1192.7 L763.7,1192.9 L765.4,1193.1 L766.9,1193.0 L768.6,1193.4 L770.1,1193.3 L771.8,1193.1 L773.4,1193.4 L775.0,1193.3 L776.5,1193.5 L778.2,1193.6 L779.8,1193.6 L781.4,1193.9 L782.9,1193.7 L784.6,1193.8 L786.2,1193.8 L787.8,1193.7 L789.4,1193.9 L791.0,1194.0 L792.7,1193.7 L794.1,1194.2 L795.8,1194.3 L797.4,1194.5 L799.0,1194.4 L800.6,1194.6 L802.1,1194.5 L803.8,1194.5 L805.5,1194.7 L807.0,1194.5 L808.6,1195.0 L810.2,1194.6 L811.8,1195.1 L813.5,1194.9 L815.0,1195.0 L816.7,1194.9 L818.2,1195.1 L819.9,1195.2 L821.5,1195.0 L823.0,1195.0 L824.7,1195.3 L826.3,1195.1 L827.8,1195.5 L829.5,1195.6 L831.2,1195.4 L832.8,1196.0 L834.2,1195.5 L835.9,1195.4 L837.5,1195.9 L839.1,1195.7 L840.7,1195.6 L842.3,1195.7 L843.9,1195.9 L845.6,1196.0 L847.1,1195.8 L848.7,1195.7 L850.3,1195.8 L852.0,1196.0 L853.5,1195.9 L855.2,1196.0 L856.7,1196.1 L858.3,1196.3 L860.1,1196.0 L861.6,1196.1 L863.1,1195.8 L864.9,1196.2 L866.4,1195.9 L868.0,1196.1 L869.6,1196.3 L871.1,1196.2 L872.9,1196.3 L874.4,1196.0 L875.9,1196.4 L877.7,1196.5 L879.2,1196.5 L880.9,1196.6 L882.5,1196.4 L884.1,1196.7 L885.6,1196.5 L887.2,1196.6 L888.8,1196.8 L890.4,1196.9 L892.1,1196.9 L893.7,1196.6 L895.3,1196.8 L896.9,1196.8 L898.5,1196.9 L900.1,1197.2 L901.7,1197.1 L903.3,1196.8 L904.9,1197.0 L906.5,1197.0 L908.2,1196.9 L909.7,1197.0 L911.3,1197.2 L912.9,1197.1 L914.5,1197.1 L916.1,1197.1 L917.8,1196.6 L919.4,1197.2 L921.0,1197.3 L922.6,1197.5 L924.1,1197.6 L925.7,1197.1 L927.3,1197.3 L929.0,1197.2 L930.6,1197.3 L932.2,1197.2 L933.8,1197.4 L935.4,1197.5 L936.9,1197.5 L938.6,1197.5 L940.2,1197.6 L941.8,1197.4 L943.3,1197.4 L945.0,1197.5 L946.6,1197.5 L948.2,1197.6 L949.9,1197.7 L951.5,1197.5 L953.1,1197.3 L954.7,1197.3 L956.2,1197.7 L957.9,1197.7 L959.4,1197.7 L961.1,1197.3 L962.6,1197.8 L964.2,1198.1 L965.9,1197.7 L967.5,1197.7 L969.1,1197.9 L970.6,1197.7 L971.6,1197.6" stroke="#ff780a" stroke-width="5.6"/>
<path d="M170.5,1158.8 L171.0,1158.8 L172.8,1158.9 L174.5,1162.1 L175.2,1162.7 L175.6,1161.5 L177.1,1163.3 L178.4,1163.5 L178.7,1164.6 L179.8,1169.6 L180.9,1168.4 L182.5,1170.7 L182.5,1171.3 L184.4,1171.9 L185.3,1171.0 L186.2,1171.0 L188.5,1172.2 L188.9,1172.2 L190.7,1167.6 L192.3,1167.6 L193.2,1167.4 L194.0,1167.7 L195.5,1165.8 L195.9,1164.8 L196.6,1162.8 L198.2,1160.1 L198.6,1160.2 L199.1,1161.7 L199.8,1161.0 L200.8,1160.5 L202.2,1165.0 L202.6,1165.1 L204.0,1166.5 L205.8,1168.9 L207.1,1166.7 L207.5,1167.2 L209.8,1165.4 L210.0,1168.6 L212.6,1168.8 L213.4,1167.6 L215.1,1167.3 L216.8,1168.2 L218.3,1167.6 L220.2,1167.5 L221.6,1166.9 L224.0,1166.8 L224.9,1168.0 L226.2,1166.5 L228.2,1165.9 L229.5,1165.5 L231.3,1165.8 L232.7,1165.9 L234.5,1166.0 L236.2,1165.4 L238.0,1164.7 L239.7,1163.0 L241.1,1165.7 L242.4,1163.8 L243.9,1164.8 L245.3,1166.6 L247.8,1165.6 L248.7,1164.6 L250.3,1166.7 L252.1,1165.7 L253.9,1165.6 L255.7,1167.6 L256.9,1166.8 L257.9,1169.8 L260.1,1164.7 L261.4,1166.3 L262.8,1167.1 L265.0,1168.4 L266.1,1166.5 L267.8,1168.6 L269.6,1166.8 L271.1,1165.7 L272.7,1166.6 L274.2,1167.0 L275.4,1167.3 L277.0,1167.1 L278.7,1168.0 L280.2,1170.0 L282.0,1170.5 L282.6,1172.4 L284.6,1169.5 L285.2,1169.4 L288.0,1173.0 L289.4,1170.5 L290.4,1170.0 L292.0,1168.0 L293.6,1169.0 L294.8,1168.0 L296.7,1167.4 L298.4,1168.3 L299.3,1165.7 L301.3,1166.8 L302.5,1164.6 L304.9,1167.4 L305.5,1165.6 L307.4,1169.0 L309.3,1165.1 L310.8,1168.5 L312.2,1165.3 L314.1,1164.2 L315.4,1166.3 L317.3,1166.5 L318.0,1165.6 L319.7,1166.0 L321.7,1165.4 L323.2,1168.7 L324.6,1170.1 L325.2,1167.8 L328.1,1170.6 L328.7,1172.4 L331.1,1168.4 L332.1,1171.2 L333.1,1171.1 L335.3,1169.6 L336.6,1170.6 L338.5,1168.8 L339.7,1170.5 L341.6,1171.8 L343.2,1169.4 L344.4,1169.1 L346.5,1167.4 L347.7,1172.0 L349.3,1172.0 L350.7,1169.1 L352.9,1169.7 L354.2,1169.3 L355.3,1171.0 L357.1,1167.4 L359.2,1170.2 L360.7,1166.8 L362.3,1170.6 L363.6,1169.2 L365.4,1172.0 L367.0,1171.4 L368.8,1170.5 L370.0,1170.8 L372.1,1170.8 L373.0,1174.7 L374.8,1174.3 L376.8,1172.6 L377.3,1171.9 L379.3,1174.2 L381.5,1173.8 L382.5,1173.2 L384.0,1173.8 L386.4,1174.2 L387.8,1173.1 L389.0,1173.6 L390.3,1172.8 L392.3,1173.3 L393.4,1172.5 L395.8,1174.4 L396.4,1173.9 L398.0,1173.6 L399.4,1174.4 L401.5,1173.9 L403.6,1174.0 L404.7,1174.9 L406.7,1175.3 L408.1,1172.3 L409.7,1174.0 L411.3,1174.4 L412.8,1173.1 L414.1,1175.2 L416.2,1174.6 L417.8,1174.4 L419.5,1173.1 L420.8,1174.3 L422.5,1175.6 L423.8,1177.0 L425.7,1175.3 L426.8,1173.9 L428.4,1176.6 L430.5,1175.8 L431.8,1176.6 L433.6,1175.1 L435.1,1176.3 L436.8,1175.9 L437.8,1174.6 L439.8,1175.3 L441.5,1175.7 L443.0,1174.8 L444.7,1176.5 L446.2,1175.2 L447.9,1176.2 L449.6,1175.2 L451.0,1175.9 L452.3,1175.9 L454.4,1174.0 L456.0,1175.6 L457.4,1176.8 L459.0,1176.3 L460.3,1178.2 L462.2,1178.4 L463.7,1177.1 L465.4,1178.2 L466.8,1178.7 L468.0,1177.8 L469.7,1179.7 L471.5,1179.0 L473.6,1178.4 L474.7,1177.7 L476.6,1177.7 L478.0,1177.8 L479.7,1179.2 L481.2,1178.1 L482.5,1179.8 L484.4,1181.2 L486.3,1178.4 L487.2,1179.2 L489.1,1180.8 L490.8,1180.2 L492.3,1179.2 L494.0,1179.7 L495.3,1179.6 L497.6,1180.0 L498.9,1178.6 L500.5,1178.9 L502.2,1178.9 L503.4,1179.2 L505.3,1178.8 L506.6,1177.7 L508.3,1177.9 L510.1,1179.9 L511.8,1178.6 L513.1,1179.1 L514.6,1179.3 L516.2,1179.9 L518.1,1181.1 L519.3,1180.5 L520.6,1181.2 L522.5,1181.6 L524.0,1181.9 L525.4,1181.9 L526.9,1182.3 L528.6,1182.8 L530.3,1182.5 L531.8,1182.5 L533.3,1182.6 L535.1,1182.3 L536.8,1182.5 L538.2,1182.8 L539.8,1182.6 L541.4,1182.6 L543.0,1183.3 L544.5,1183.4 L546.2,1183.3 L547.9,1183.2 L549.4,1183.9 L550.8,1183.9 L552.5,1183.4 L554.1,1183.7 L555.8,1183.7 L557.5,1183.7 L559.1,1184.8 L560.7,1185.0 L562.0,1184.1 L563.7,1185.0 L565.5,1184.9 L567.0,1185.2 L568.5,1185.5 L570.2,1185.7 L571.8,1185.5 L573.3,1185.5 L574.9,1186.0 L576.7,1186.4 L578.1,1185.7 L579.7,1185.9 L581.5,1186.2 L582.9,1186.2 L584.4,1186.4 L586.1,1186.9 L587.6,1186.9 L589.3,1186.9 L590.9,1187.0 L592.6,1186.9 L594.2,1187.5 L595.6,1187.3 L597.2,1187.2 L598.9,1187.5 L600.7,1187.8 L602.2,1188.4 L603.6,1188.0 L605.3,1188.0 L606.9,1188.9 L608.5,1188.3 L610.1,1188.8 L611.8,1188.7 L613.4,1188.8 L615.2,1188.4 L616.5,1188.9 L618.0,1188.8 L619.8,1188.7 L621.3,1189.2 L623.0,1189.2 L624.4,1189.3 L626.0,1189.7 L627.7,1188.8 L629.2,1189.7 L630.9,1189.2 L632.6,1189.3 L634.0,1189.9 L635.7,1189.8 L637.4,1189.4 L638.9,1190.1 L640.5,1190.2 L642.2,1190.6 L643.8,1190.6 L645.3,1190.4 L646.9,1190.0 L648.4,1190.5 L650.2,1190.7 L651.8,1190.9 L653.4,1191.0 L654.8,1190.9 L656.6,1191.0 L658.2,1190.8 L659.8,1190.9 L661.2,1191.3 L662.9,1191.4 L664.4,1190.9 L666.2,1191.2 L667.9,1191.3 L669.3,1191.6 L670.8,1191.5 L672.5,1192.2 L674.2,1191.6 L675.8,1191.4 L677.5,1191.6 L678.9,1191.5 L680.6,1191.6 L682.1,1191.8 L683.8,1192.2 L685.5,1192.2 L687.0,1192.0 L688.8,1191.6 L690.2,1192.1 L691.8,1191.7 L693.3,1192.0 L695.0,1192.2 L696.5,1192.0 L698.3,1192.7 L699.8,1192.1 L701.5,1192.1 L703.0,1192.2 L704.6,1192.4 L706.2,1192.1 L707.8,1192.3 L709.5,1192.2 L711.1,1192.4 L712.7,1192.2 L714.3,1192.5 L715.9,1192.7 L717.5,1192.5 L719.0,1192.8 L720.6,1192.6 L722.3,1192.8 L723.8,1192.7 L725.5,1193.0 L727.1,1193.0 L728.7,1193.0 L730.4,1193.2 L731.9,1193.0 L733.5,1193.4 L735.1,1193.2 L736.7,1193.1 L738.2,1193.2 L739.9,1193.3 L741.5,1193.2 L743.1,1193.2 L744.7,1193.7 L746.3,1193.6 L747.9,1193.7 L749.5,1193.9 L751.1,1193.7 L752.7,1193.6 L754.4,1193.9 L755.9,1193.7 L757.5,1194.0 L759.1,1194.0 L760.7,1194.1 L762.3,1193.9 L764.0,1193.8 L765.5,1194.2 L767.1,1194.3 L768.7,1194.2 L770.4,1194.2 L771.9,1194.3 L773.6,1194.3 L775.1,1194.5 L776.7,1194.3 L778.3,1194.5 L780.0,1194.7 L781.5,1194.6 L783.2,1194.6 L784.7,1194.7 L786.4,1194.9 L787.9,1195.0 L789.5,1194.7 L791.2,1195.3 L792.8,1195.1 L794.3,1195.1 L796.0,1195.0 L797.6,1195.1 L799.1,1195.4 L800.9,1195.4 L802.4,1195.1 L803.9,1195.3 L805.6,1195.4 L807.2,1195.4 L808.8,1195.8 L810.4,1195.8 L812.0,1195.6 L813.6,1195.5 L815.1,1195.8 L816.8,1195.8 L818.4,1195.8 L820.1,1195.8 L821.6,1196.1 L823.2,1196.0 L824.8,1196.2 L826.5,1196.2 L828.0,1196.0 L829.7,1196.1 L831.2,1196.0 L832.8,1196.2 L834.5,1196.0 L836.0,1196.3 L837.7,1195.9 L839.2,1196.3 L840.9,1196.3 L842.5,1196.4 L844.1,1196.2 L845.7,1196.4 L847.2,1196.5 L848.9,1196.4 L850.4,1196.5 L852.1,1196.5 L853.7,1196.4 L855.3,1196.4 L856.9,1196.3 L858.5,1196.6 L860.1,1196.6 L861.7,1196.9 L863.2,1196.5 L864.9,1196.9 L866.5,1196.9 L868.2,1196.4 L869.8,1196.7 L871.3,1197.0 L872.9,1196.8 L874.5,1196.9 L876.1,1197.0 L877.8,1196.8 L879.3,1197.0 L880.9,1196.9 L882.5,1197.1 L884.2,1196.6 L885.8,1197.0 L887.2,1196.9 L889.0,1197.0 L890.5,1197.2 L892.2,1197.2 L893.7,1197.1 L895.4,1197.3 L896.9,1197.1 L898.6,1197.4 L900.1,1197.3 L901.8,1197.1 L903.3,1197.3 L904.9,1197.3 L906.6,1197.3 L908.1,1197.1 L909.7,1197.3 L911.3,1197.7 L913.0,1197.6 L914.6,1197.2 L916.3,1197.4 L917.8,1197.3 L919.5,1197.2 L920.9,1197.2 L922.6,1197.4 L924.1,1197.6 L925.7,1197.6 L927.4,1197.7 L929.0,1197.8 L930.7,1197.4 L932.3,1197.5 L933.8,1197.3 L935.5,1197.5 L937.0,1197.6 L938.6,1197.8 L940.3,1197.4 L941.8,1197.5 L943.6,1197.6 L945.0,1197.6 L946.6,1197.4 L948.3,1197.8 L949.8,1197.6 L951.4,1197.6 L953.0,1197.6 L954.6,1197.7 L956.2,1197.7 L957.8,1197.7 L959.4,1198.0 L961.0,1197.8 L962.7,1197.9 L964.3,1197.8 L965.9,1197.6 L967.4,1197.6 L969.0,1197.9 L970.6,1197.8 L971.6,1197.9" stroke="#ff3c0a" stroke-width="5.6"/>
<path d="M170.6,1179.3 L171.2,1177.3 L172.7,1178.4 L173.6,1178.4 L175.2,1179.1 L177.0,1179.6 L177.9,1182.9 L179.4,1183.4 L181.0,1181.5 L181.7,1183.6 L184.0,1183.7 L184.1,1184.5 L185.9,1182.6 L188.0,1180.7 L189.3,1179.2 L190.1,1180.0 L191.1,1180.0 L193.4,1178.8 L194.8,1177.2 L195.9,1177.1 L197.8,1174.5 L199.6,1176.4 L200.5,1177.3 L201.9,1175.5 L204.2,1175.8 L205.9,1177.4 L208.1,1176.2 L208.6,1178.5 L210.9,1177.4 L212.0,1178.6 L213.6,1177.4 L215.2,1178.8 L216.7,1180.2 L217.7,1176.2 L219.3,1178.8 L220.6,1173.7 L221.4,1175.3 L224.0,1175.6 L225.0,1173.6 L225.9,1174.4 L227.9,1175.7 L228.4,1175.2 L229.9,1173.4 L231.4,1177.7 L233.1,1178.5 L234.6,1177.8 L235.9,1177.8 L237.5,1177.7 L238.9,1175.4 L240.9,1176.4 L242.1,1178.5 L243.6,1177.4 L245.1,1176.9 L246.6,1175.5 L248.6,1175.7 L250.0,1177.0 L251.4,1176.7 L252.5,1177.1 L254.7,1176.9 L256.4,1178.6 L257.2,1177.6 L258.3,1178.6 L260.8,1180.3 L262.2,1177.3 L263.8,1180.1 L265.4,1178.0 L267.2,1175.7 L267.9,1176.8 L269.5,1176.4 L270.8,1178.6 L273.0,1178.6 L274.4,1180.1 L275.8,1177.0 L277.6,1177.5 L278.3,1178.3 L280.5,1181.2 L281.8,1181.1 L283.2,1181.0 L284.6,1180.2 L285.4,1183.1 L286.1,1177.9 L287.4,1178.5 L289.3,1177.6 L289.3,1177.7 L291.7,1174.8 L293.0,1177.8 L294.4,1176.2 L295.3,1175.7 L296.6,1176.7 L299.2,1178.3 L300.9,1178.4 L301.7,1180.6 L303.3,1178.5 L304.2,1180.0 L306.0,1181.6 L307.7,1179.4 L309.3,1180.2 L310.7,1180.0 L312.1,1176.8 L313.7,1180.7 L316.1,1179.3 L317.5,1180.9 L319.0,1181.8 L320.5,1181.7 L322.0,1182.0 L322.8,1180.6 L324.8,1183.1 L325.6,1181.8 L327.3,1181.7 L329.2,1181.5 L330.3,1178.2 L331.4,1179.9 L333.3,1179.6 L334.5,1177.0 L335.3,1175.3 L337.1,1180.2 L337.9,1179.1 L339.6,1179.4 L341.5,1179.3 L342.9,1178.9 L345.2,1179.2 L346.8,1180.4 L347.8,1180.6 L349.5,1180.3 L351.7,1179.8 L353.3,1181.2 L354.3,1179.8 L356.2,1179.4 L357.6,1179.8 L359.9,1179.7 L361.3,1182.7 L362.3,1181.3 L364.0,1183.5 L365.5,1183.3 L367.1,1185.2 L368.3,1184.1 L369.8,1184.1 L371.6,1182.2 L373.5,1180.4 L374.3,1182.9 L376.1,1183.2 L377.8,1180.9 L379.0,1180.4 L381.5,1180.3 L382.9,1179.7 L384.5,1181.8 L385.5,1180.4 L387.0,1181.8 L388.7,1181.6 L390.6,1180.4 L391.8,1183.9 L394.0,1181.4 L395.4,1180.8 L397.2,1183.6 L398.5,1182.8 L400.4,1181.6 L402.0,1180.9 L403.8,1180.5 L404.5,1181.1 L406.0,1182.9 L407.8,1181.4 L410.2,1183.8 L411.3,1182.2 L413.3,1183.8 L414.6,1181.8 L416.4,1183.1 L418.2,1183.1 L419.1,1182.9 L420.9,1183.2 L422.7,1182.9 L424.3,1183.3 L425.5,1185.0 L427.6,1183.8 L428.6,1184.8 L430.5,1184.9 L432.1,1184.4 L434.0,1185.1 L435.6,1184.6 L437.0,1184.4 L438.9,1184.4 L440.2,1184.2 L441.4,1184.1 L443.2,1186.2 L445.2,1184.5 L446.6,1184.3 L448.2,1184.8 L449.9,1181.5 L451.4,1183.8 L452.5,1183.6 L454.7,1183.5 L456.5,1183.1 L457.9,1183.5 L459.0,1185.0 L460.6,1185.6 L462.0,1185.3 L464.0,1185.2 L465.5,1185.4 L466.9,1185.4 L468.8,1184.7 L470.1,1186.0 L472.0,1185.2 L473.7,1184.5 L474.8,1185.9 L477.3,1185.7 L477.9,1185.9 L479.8,1186.1 L481.7,1185.4 L482.9,1186.2 L484.5,1186.3 L486.5,1185.6 L488.0,1187.3 L489.3,1187.8 L490.9,1187.0 L493.0,1186.8 L494.7,1186.8 L496.2,1186.9 L497.0,1185.6 L498.9,1186.3 L500.1,1185.9 L502.0,1185.4 L503.8,1186.2 L505.6,1185.8 L507.4,1186.5 L508.3,1187.7 L510.0,1188.7 L511.7,1187.1 L513.7,1186.7 L514.6,1188.7 L516.3,1186.9 L518.2,1188.0 L520.3,1187.7 L521.3,1187.6 L523.0,1187.4 L524.5,1187.0 L526.3,1187.6 L527.7,1187.3 L529.4,1187.0 L531.0,1187.4 L532.7,1187.1 L534.2,1188.0 L535.9,1187.5 L537.5,1187.0 L538.9,1187.3 L540.7,1187.2 L542.1,1187.1 L543.8,1187.2 L545.4,1187.5 L546.9,1187.8 L548.7,1187.8 L550.2,1187.8 L551.8,1188.1 L553.3,1188.4 L555.2,1188.0 L556.6,1188.6 L558.2,1188.8 L559.9,1188.1 L561.4,1188.5 L562.9,1188.5 L564.6,1188.9 L566.4,1189.3 L567.9,1189.2 L569.4,1188.7 L571.0,1189.2 L572.6,1189.2 L574.2,1189.8 L576.0,1189.4 L577.5,1189.3 L579.2,1189.5 L580.8,1189.6 L582.2,1189.3 L583.9,1189.6 L585.5,1189.6 L587.1,1189.6 L588.7,1189.6 L590.2,1190.1 L591.7,1190.2 L593.6,1190.6 L595.1,1190.0 L596.7,1190.2 L598.2,1190.3 L599.9,1191.0 L601.6,1190.5 L603.0,1191.1 L604.8,1189.9 L606.4,1190.6 L608.2,1191.6 L609.6,1190.8 L611.2,1191.3 L612.6,1190.8 L614.4,1190.8 L616.1,1191.4 L617.7,1191.4 L619.3,1191.4 L620.8,1192.1 L622.4,1191.3 L623.9,1191.5 L625.5,1192.0 L627.3,1192.1 L628.8,1191.6 L630.5,1192.0 L632.1,1192.0 L633.6,1191.6 L635.0,1192.3 L636.9,1192.0 L638.3,1192.0 L640.1,1192.1 L641.7,1192.4 L643.2,1191.7 L644.8,1192.4 L646.5,1192.2 L648.0,1192.0 L649.9,1192.3 L651.4,1192.4 L652.8,1192.5 L654.6,1192.3 L656.1,1192.7 L657.7,1192.6 L659.3,1192.3 L661.0,1192.7 L662.8,1192.9 L664.1,1192.5 L665.5,1193.3 L667.4,1193.4 L668.9,1192.2 L670.6,1193.0 L672.2,1192.7 L673.7,1192.6 L675.4,1193.3 L677.2,1193.0 L678.6,1193.0 L680.0,1193.3 L681.8,1193.0 L683.3,1192.7 L685.0,1193.0 L686.5,1193.6 L688.3,1193.2 L689.8,1193.4 L691.3,1193.2 L692.9,1192.8 L694.6,1192.9 L696.2,1193.5 L697.8,1193.5 L699.4,1193.9 L701.0,1193.6 L702.7,1193.4 L704.2,1193.6 L705.8,1193.2 L707.5,1193.4 L709.1,1193.5 L710.6,1193.3 L712.3,1193.7 L714.0,1193.5 L715.4,1193.7 L717.1,1193.9 L718.8,1193.7 L720.2,1193.8 L721.9,1194.0 L723.5,1193.7 L725.1,1194.2 L726.7,1194.0 L728.4,1193.8 L729.9,1194.0 L731.6,1194.3 L733.0,1194.0 L734.7,1194.3 L736.3,1194.1 L738.0,1194.1 L739.5,1194.3 L741.2,1194.5 L742.8,1194.2 L744.4,1194.2 L745.9,1194.5 L747.7,1194.6 L749.1,1194.6 L751.0,1194.7 L752.3,1194.6 L753.9,1194.5 L755.6,1194.6 L757.3,1194.9 L758.9,1194.7 L760.4,1194.8 L762.0,1194.9 L763.6,1195.0 L765.3,1194.8 L766.9,1194.9 L768.4,1194.9 L770.0,1195.3 L771.6,1195.1 L773.3,1195.1 L774.9,1195.4 L776.4,1195.2 L778.1,1195.4 L779.6,1195.6 L781.3,1195.6 L782.9,1195.7 L784.5,1195.4 L786.2,1195.4 L787.7,1195.6 L789.3,1195.7 L791.0,1195.5 L792.5,1195.7 L794.2,1196.0 L795.8,1195.8 L797.3,1195.7 L798.9,1195.8 L800.6,1195.7 L802.2,1196.2 L803.8,1196.1 L805.4,1195.8 L807.0,1196.2 L808.7,1196.3 L810.1,1196.4 L811.8,1196.0 L813.3,1196.5 L815.0,1196.5 L816.6,1196.4 L818.3,1196.4 L819.8,1196.3 L821.4,1196.2 L823.0,1196.7 L824.6,1196.1 L826.2,1196.5 L827.9,1196.7 L829.4,1196.6 L831.0,1196.7 L832.6,1196.6 L834.2,1196.5 L835.8,1196.6 L837.5,1196.5 L839.1,1196.7 L840.7,1196.6 L842.2,1196.9 L843.8,1196.6 L845.4,1196.8 L847.1,1196.9 L848.7,1196.9 L850.3,1197.0 L851.9,1196.7 L853.5,1196.7 L855.2,1196.8 L856.7,1197.1 L858.4,1197.0 L859.9,1196.9 L861.5,1197.1 L863.2,1197.1 L864.7,1196.8 L866.3,1197.1 L868.0,1197.1 L869.6,1197.3 L871.0,1197.2 L872.8,1197.2 L874.3,1197.2 L875.9,1197.0 L877.6,1197.0 L879.2,1197.1 L880.8,1197.5 L882.4,1197.3 L884.0,1197.3 L885.6,1196.9 L887.2,1197.3 L888.9,1197.3 L890.4,1197.2 L892.0,1197.3 L893.6,1197.5 L895.2,1197.4 L896.9,1197.2 L898.5,1197.4 L900.0,1197.5 L901.7,1197.4 L903.3,1197.5 L904.9,1197.7 L906.4,1197.6 L908.1,1197.2 L909.6,1197.4 L911.3,1197.5 L913.0,1197.7 L914.5,1197.8 L916.1,1197.7 L917.8,1197.6 L919.4,1197.8 L920.9,1197.9 L922.4,1197.5 L924.1,1197.6 L925.8,1197.7 L927.4,1197.7 L929.0,1197.7 L930.6,1197.9 L932.2,1197.7 L933.7,1197.6 L935.5,1197.9 L937.0,1197.8 L938.6,1197.9 L940.2,1197.5 L941.7,1197.7 L943.4,1198.2 L944.9,1197.6 L946.6,1197.5 L948.2,1197.8 L949.8,1198.0 L951.4,1197.7 L953.0,1197.8 L954.6,1197.9 L956.1,1197.9 L957.8,1198.0 L959.4,1198.2 L961.1,1198.0 L962.6,1197.9 L964.2,1198.2 L965.8,1198.1 L967.5,1197.9 L969.0,1198.0 L970.5,1198.1 L971.6,1198.2" stroke="#ff0000" stroke-width="5.6"/>
</g>
<text x="142.4" y="24.4" font-size="33.4" text-anchor="end" font-family="Liberation Sans, sans-serif" style="font-kerning:none" >-300</text>
<text x="142.4" y="222.3" font-size="33.4" text-anchor="end" font-family="Liberation Sans, sans-serif" style="font-kerning:none" >-200</text>
<text x="142.4" y="420.3" font-size="33.4" text-anchor="end" font-family="Liberation Sans, sans-serif" style="font-kerning:none" >-100</text>
<text x="142.4" y="618.2" font-size="33.4" text-anchor="end" font-family="Liberation Sans, sans-serif" style="font-kerning:none" >0</text>
<text x="142.4" y="817.5" font-size="33.4" text-anchor="end" font-family="Liberation Sans, sans-serif" style="font-kerning:none" >-200</text>
<text x="142.4" y="1015.4" font-size="33.4" text-anchor="end" font-family="Liberation Sans, sans-serif" style="font-kerning:none" >-100</text>
<text x="142.4" y="1213.2" font-size="33.4" text-anchor="end" font-family="Liberation Sans, sans-serif" style="font-kerning:none" >0</text>
<text x="164.8" y="1244.3" font-size="33.4" text-anchor="middle" font-family="Liberation Sans, sans-serif" style="font-kerning:none" >0</text>
<text x="433.9" y="1244.3" font-size="33.4" text-anchor="middle" font-family="Liberation Sans, sans-serif" style="font-kerning:none" >100</text>
<text x="703.0" y="1244.3" font-size="33.4" text-anchor="middle" font-family="Liberation Sans, sans-serif" style="font-kerning:none" >200</text>
<text x="972.1" y="1244.3" font-size="33.4" text-anchor="middle" font-family="Liberation Sans, sans-serif" style="font-kerning:none" >300</text>
<text x="488.6" y="191.5" font-size="33.4" text-anchor="end" font-family="Liberation Sans, sans-serif" style="font-kerning:none" >-175</text>
<text x="488.6" y="363.9" font-size="33.4" text-anchor="end" font-family="Liberation Sans, sans-serif" style="font-kerning:none" >-150</text>
<text x="629.4" y="402.3" font-size="33.4" text-anchor="middle" font-family="Liberation Sans, sans-serif" style="font-kerning:none" >20</text>
<text x="766.9" y="402.3" font-size="33.4" text-anchor="middle" font-family="Liberation Sans, sans-serif" style="font-kerning:none" >30</text>
<text x="904.5" y="402.3" font-size="33.4" text-anchor="middle" font-family="Liberation Sans, sans-serif" style="font-kerning:none" >40</text>
<line x1="175.5" y1="494.5" x2="250.4" y2="494.5" stroke="#cc0000" stroke-width="5" stroke-linecap="round"/>
<line x1="175.5" y1="535.8" x2="250.4" y2="535.8" stroke="#808080" stroke-width="5" stroke-linecap="round"/>
<text x="259.5" y="505.5" font-size="33.4" text-anchor="start" font-family="Liberation Sans, sans-serif" style="font-kerning:none" >45 T</text>
<text x="259.5" y="546.3" font-size="33.4" text-anchor="start" font-family="Liberation Sans, sans-serif" style="font-kerning:none" >11.4 T</text>
<line x1="804.4" y1="705.2" x2="864.3" y2="705.2" stroke="#3c0082" stroke-width="5.2" stroke-linecap="round" stroke-dasharray="7.8 15.2"/>
<text x="871.6" y="714.5" font-size="25.6" text-anchor="start" font-family="Liberation Sans, sans-serif" style="font-kerning:none" >0.0616</text>
<line x1="804.7" y1="738.5" x2="861" y2="738.5" stroke="#2d0082" stroke-width="5.6" stroke-linecap="round" stroke-dasharray="0.01 11.06"/>
<text x="871.6" y="747.8" font-size="25.6" text-anchor="start" font-family="Liberation Sans, sans-serif" style="font-kerning:none" >0.0648</text>
<line x1="804.4" y1="771.7" x2="864.3" y2="771.7" stroke="#4dbeff" stroke-width="5.0" stroke-linecap="round"/>
<text x="871.6" y="781.0" font-size="25.6" text-anchor="start" font-family="Liberation Sans, sans-serif" style="font-kerning:none" >0.068</text>
<line x1="804.4" y1="805.0" x2="864.3" y2="805.0" stroke="#00009b" stroke-width="5.0" stroke-linecap="round"/>
<text x="871.6" y="814.2" font-size="25.6" text-anchor="start" font-family="Liberation Sans, sans-serif" style="font-kerning:none" >0.0722</text>
<line x1="804.4" y1="838.2" x2="864.3" y2="838.2" stroke="#0000dc" stroke-width="5.0" stroke-linecap="round"/>
<text x="871.6" y="847.5" font-size="25.6" text-anchor="start" font-family="Liberation Sans, sans-serif" style="font-kerning:none" >0.0748</text>
<line x1="804.4" y1="871.5" x2="864.3" y2="871.5" stroke="#0a28dc" stroke-width="5.0" stroke-linecap="round"/>
<text x="871.6" y="880.8" font-size="25.6" text-anchor="start" font-family="Liberation Sans, sans-serif" style="font-kerning:none" >0.0776</text>
<line x1="804.4" y1="904.7" x2="864.3" y2="904.7" stroke="#0a6e78" stroke-width="5.0" stroke-linecap="round"/>
<text x="871.6" y="914.0" font-size="25.6" text-anchor="start" font-family="Liberation Sans, sans-serif" style="font-kerning:none" >0.0793</text>
<line x1="804.4" y1="938.0" x2="864.3" y2="938.0" stroke="#0ab41e" stroke-width="5.0" stroke-linecap="round"/>
<text x="871.6" y="947.2" font-size="25.6" text-anchor="start" font-family="Liberation Sans, sans-serif" style="font-kerning:none" >0.0819</text>
<line x1="804.4" y1="971.2" x2="864.3" y2="971.2" stroke="#6ed20a" stroke-width="5.0" stroke-linecap="round"/>
<text x="871.6" y="980.5" font-size="25.6" text-anchor="start" font-family="Liberation Sans, sans-serif" style="font-kerning:none" >0.0853</text>
<line x1="804.4" y1="1004.5" x2="864.3" y2="1004.5" stroke="#aac814" stroke-width="5.0" stroke-linecap="round"/>
<text x="871.6" y="1013.8" font-size="25.6" text-anchor="start" font-family="Liberation Sans, sans-serif" style="font-kerning:none" >0.09</text>
<line x1="804.4" y1="1037.7" x2="864.3" y2="1037.7" stroke="#c8aa14" stroke-width="5.0" stroke-linecap="round"/>
<text x="871.6" y="1047.0" font-size="25.6" text-anchor="start" font-family="Liberation Sans, sans-serif" style="font-kerning:none" >0.096</text>
<line x1="804.4" y1="1071.0" x2="864.3" y2="1071.0" stroke="#ffa50a" stroke-width="5.0" stroke-linecap="round"/>
<text x="871.6" y="1080.2" font-size="25.6" text-anchor="start" font-family="Liberation Sans, sans-serif" style="font-kerning:none" >0.1039</text>
<line x1="804.4" y1="1104.2" x2="864.3" y2="1104.2" stroke="#ff780a" stroke-width="5.0" stroke-linecap="round"/>
<text x="871.6" y="1113.5" font-size="25.6" text-anchor="start" font-family="Liberation Sans, sans-serif" style="font-kerning:none" >0.1208</text>
<line x1="804.4" y1="1137.5" x2="864.3" y2="1137.5" stroke="#ff3c0a" stroke-width="5.0" stroke-linecap="round"/>
<text x="871.6" y="1146.8" font-size="25.6" text-anchor="start" font-family="Liberation Sans, sans-serif" style="font-kerning:none" >0.1379</text>
<line x1="804.4" y1="1170.7" x2="864.3" y2="1170.7" stroke="#ff0000" stroke-width="5.0" stroke-linecap="round"/>
<text x="871.6" y="1180.0" font-size="25.6" text-anchor="start" font-family="Liberation Sans, sans-serif" style="font-kerning:none" >0.1506</text>
<text x="878.6" y="650.8" font-size="25.5" text-anchor="middle" font-family="Liberation Sans, sans-serif" style="font-kerning:none" >Doping</text>
<text x="878.6" y="683.5" font-size="25.5" text-anchor="middle" font-family="Liberation Sans, sans-serif" style="font-kerning:none" >(x ±0.002)</text>
<text x="231.6" y="64.2" font-size="42" text-anchor="start" font-family="Liberation Serif, serif" font-weight="bold" textLength="23.5" lengthAdjust="spacingAndGlyphs">a</text>
<text x="228.6" y="662.9" font-size="42" text-anchor="start" font-family="Liberation Serif, serif" font-weight="bold" textLength="24.6" lengthAdjust="spacingAndGlyphs">b</text>
<text x="180.0" y="591.0" font-size="41.5" text-anchor="start" font-family="Liberation Serif, serif" font-style="italic" stroke="#fff" stroke-width="0.37"  textLength="24" lengthAdjust="spacingAndGlyphs">x</text>
<text x="215.2" y="591.0" font-size="40" text-anchor="start" font-family="Liberation Serif, serif" stroke="#fff" stroke-width="0.35"  textLength="27" lengthAdjust="spacingAndGlyphs">=</text>
<text x="253.5" y="591.0" font-size="40" text-anchor="start" font-family="Liberation Serif, serif" stroke="#fff" stroke-width="0.35"  textLength="85" lengthAdjust="spacingAndGlyphs">0.068</text>
<text x="352.5" y="593.5" font-size="46" text-anchor="start" font-family="Liberation Serif, serif" stroke="#fff" stroke-width="0.42"  textLength="12.5" lengthAdjust="spacingAndGlyphs">(</text>
<text x="365.5" y="591.0" font-size="41.5" text-anchor="start" font-family="Liberation Serif, serif" font-style="italic" stroke="#fff" stroke-width="0.37"  textLength="23" lengthAdjust="spacingAndGlyphs">x</text>
<text x="399.8" y="591.0" font-size="40" text-anchor="start" font-family="Liberation Serif, serif" stroke="#fff" stroke-width="0.35"  textLength="29" lengthAdjust="spacingAndGlyphs">≈</text>
<text x="438.5" y="591.0" font-size="41.5" text-anchor="start" font-family="Liberation Serif, serif" font-style="italic" stroke="#fff" stroke-width="0.37"  textLength="23" lengthAdjust="spacingAndGlyphs">x</text>
<text x="464.0" y="594.2" font-size="30" text-anchor="start" font-family="Liberation Serif, serif" font-style="italic" stroke="#fff" stroke-width="0.23" >c</text>
<text x="476.5" y="593.5" font-size="46" text-anchor="start" font-family="Liberation Serif, serif" stroke="#fff" stroke-width="0.42"  textLength="12.5" lengthAdjust="spacingAndGlyphs">)</text>
<text x="519.3" y="338.6" font-size="41.6" text-anchor="start" font-family="Liberation Serif, serif" font-style="italic" stroke="#fff" stroke-width="0.37"  textLength="31" lengthAdjust="spacingAndGlyphs">T</text>
<text x="563.0" y="338.6" font-size="40" text-anchor="start" font-family="Liberation Serif, serif" stroke="#fff" stroke-width="0.35"  textLength="29.5" lengthAdjust="spacingAndGlyphs">=</text>
<text x="604.0" y="338.6" font-size="40" text-anchor="start" font-family="Liberation Serif, serif" stroke="#fff" stroke-width="0.35"  textLength="68" lengthAdjust="spacingAndGlyphs">30.5</text>
<text x="683.3" y="338.6" font-size="41.6" text-anchor="start" font-family="Liberation Serif, serif" font-style="italic" stroke="#fff" stroke-width="0.37"  textLength="31" lengthAdjust="spacingAndGlyphs">K</text>
<text x="675.0" y="455.2" font-size="41.5" text-anchor="start" font-family="Liberation Serif, serif" font-style="italic" stroke="#fff" stroke-width="0.37"  textLength="23" lengthAdjust="spacingAndGlyphs">μ</text>
<text x="698.0" y="461.2" font-size="28" text-anchor="start" font-family="Liberation Serif, serif" stroke="#fff" stroke-width="0.21" >0</text>
<text x="714.7" y="455.2" font-size="41.6" text-anchor="start" font-family="Liberation Serif, serif" font-style="italic" stroke="#fff" stroke-width="0.37"  textLength="31.5" lengthAdjust="spacingAndGlyphs">H</text>
<text x="759.5" y="457.7" font-size="46" text-anchor="start" font-family="Liberation Serif, serif" stroke="#fff" stroke-width="0.42"  textLength="12.5" lengthAdjust="spacingAndGlyphs">(</text>
<text x="765.5" y="455.2" font-size="41.6" text-anchor="start" font-family="Liberation Serif, serif" font-style="italic" stroke="#fff" stroke-width="0.37"  textLength="30" lengthAdjust="spacingAndGlyphs">T</text>
<text x="799.5" y="457.7" font-size="46" text-anchor="start" font-family="Liberation Serif, serif" stroke="#fff" stroke-width="0.42"  textLength="12.5" lengthAdjust="spacingAndGlyphs">)</text>
<text x="517.5" y="1298.3" font-size="41.6" text-anchor="start" font-family="Liberation Serif, serif" font-style="italic" stroke="#fff" stroke-width="0.37"  textLength="28.5" lengthAdjust="spacingAndGlyphs">T</text>
<text x="557.0" y="1300.5" font-size="46" text-anchor="start" font-family="Liberation Serif, serif" stroke="#fff" stroke-width="0.42"  textLength="12.5" lengthAdjust="spacingAndGlyphs">(</text>
<text x="574.0" y="1298.3" font-size="41.6" text-anchor="start" font-family="Liberation Serif, serif" font-style="italic" stroke="#fff" stroke-width="0.37"  textLength="32" lengthAdjust="spacingAndGlyphs">K</text>
<text x="608.0" y="1300.5" font-size="46" text-anchor="start" font-family="Liberation Serif, serif" stroke="#fff" stroke-width="0.42"  textLength="12.5" lengthAdjust="spacingAndGlyphs">)</text>
<g transform="translate(44,332) rotate(-90)">
<text x="0.0" y="0.0" font-size="42" text-anchor="start" font-family="Liberation Serif, serif" font-style="italic" stroke="#fff" stroke-width="0.37"  textLength="32" lengthAdjust="spacingAndGlyphs">m</text>
<text x="31.5" y="-21.6" font-size="29" text-anchor="start" font-family="Liberation Serif, serif" font-style="italic" stroke="#fff" stroke-width="0.22"  textLength="20.5" lengthAdjust="spacingAndGlyphs">B</text>
<text x="54.5" y="-18.4" font-size="20" text-anchor="start" font-family="Liberation Serif, serif" stroke="#fff" stroke-width="0.11" >2</text>
<text x="67.0" y="-18.4" font-size="20" text-anchor="start" font-family="Liberation Serif, serif" font-style="italic" stroke="#fff" stroke-width="0.11" >g</text>
<text x="31.5" y="10.5" font-size="29" text-anchor="start" font-family="Liberation Serif, serif" font-style="italic" stroke="#fff" stroke-width="0.22"  textLength="20.5" lengthAdjust="spacingAndGlyphs">B</text>
<text x="54.5" y="13.0" font-size="20" text-anchor="start" font-family="Liberation Serif, serif" stroke="#fff" stroke-width="0.11" >2</text>
<text x="67.0" y="13.0" font-size="20" text-anchor="start" font-family="Liberation Serif, serif" font-style="italic" stroke="#fff" stroke-width="0.11" >g</text>
</g>
<g transform="translate(40,928.5) rotate(-90)">
<text x="0.0" y="0.0" font-size="42" text-anchor="start" font-family="Liberation Serif, serif" font-style="italic" stroke="#fff" stroke-width="0.37"  textLength="32" lengthAdjust="spacingAndGlyphs">m</text>
<text x="31.5" y="-21.6" font-size="29" text-anchor="start" font-family="Liberation Serif, serif" font-style="italic" stroke="#fff" stroke-width="0.22"  textLength="20.5" lengthAdjust="spacingAndGlyphs">B</text>
<text x="54.5" y="-18.4" font-size="20" text-anchor="start" font-family="Liberation Serif, serif" stroke="#fff" stroke-width="0.11" >2</text>
<text x="67.0" y="-18.4" font-size="20" text-anchor="start" font-family="Liberation Serif, serif" font-style="italic" stroke="#fff" stroke-width="0.11" >g</text>
<text x="31.5" y="10.5" font-size="29" text-anchor="start" font-family="Liberation Serif, serif" font-style="italic" stroke="#fff" stroke-width="0.22"  textLength="20.5" lengthAdjust="spacingAndGlyphs">B</text>
<text x="54.5" y="13.0" font-size="20" text-anchor="start" font-family="Liberation Serif, serif" stroke="#fff" stroke-width="0.11" >2</text>
<text x="67.0" y="13.0" font-size="20" text-anchor="start" font-family="Liberation Serif, serif" font-style="italic" stroke="#fff" stroke-width="0.11" >g</text>
</g>
<g transform="translate(377.7,221) rotate(-90)">
<text x="0.0" y="0.0" font-size="42" text-anchor="start" font-family="Liberation Serif, serif" font-style="italic" stroke="#fff" stroke-width="0.37"  textLength="32" lengthAdjust="spacingAndGlyphs">m</text>
<text x="31.5" y="-21.6" font-size="29" text-anchor="start" font-family="Liberation Serif, serif" font-style="italic" stroke="#fff" stroke-width="0.22"  textLength="20.5" lengthAdjust="spacingAndGlyphs">B</text>
<text x="54.5" y="-18.4" font-size="20" text-anchor="start" font-family="Liberation Serif, serif" stroke="#fff" stroke-width="0.11" >2</text>
<text x="67.0" y="-18.4" font-size="20" text-anchor="start" font-family="Liberation Serif, serif" font-style="italic" stroke="#fff" stroke-width="0.11" >g</text>
<text x="31.5" y="10.5" font-size="29" text-anchor="start" font-family="Liberation Serif, serif" font-style="italic" stroke="#fff" stroke-width="0.22"  textLength="20.5" lengthAdjust="spacingAndGlyphs">B</text>
<text x="54.5" y="13.0" font-size="20" text-anchor="start" font-family="Liberation Serif, serif" stroke="#fff" stroke-width="0.11" >2</text>
<text x="67.0" y="13.0" font-size="20" text-anchor="start" font-family="Liberation Serif, serif" font-style="italic" stroke="#fff" stroke-width="0.11" >g</text>
</g>
</svg></body></html>
